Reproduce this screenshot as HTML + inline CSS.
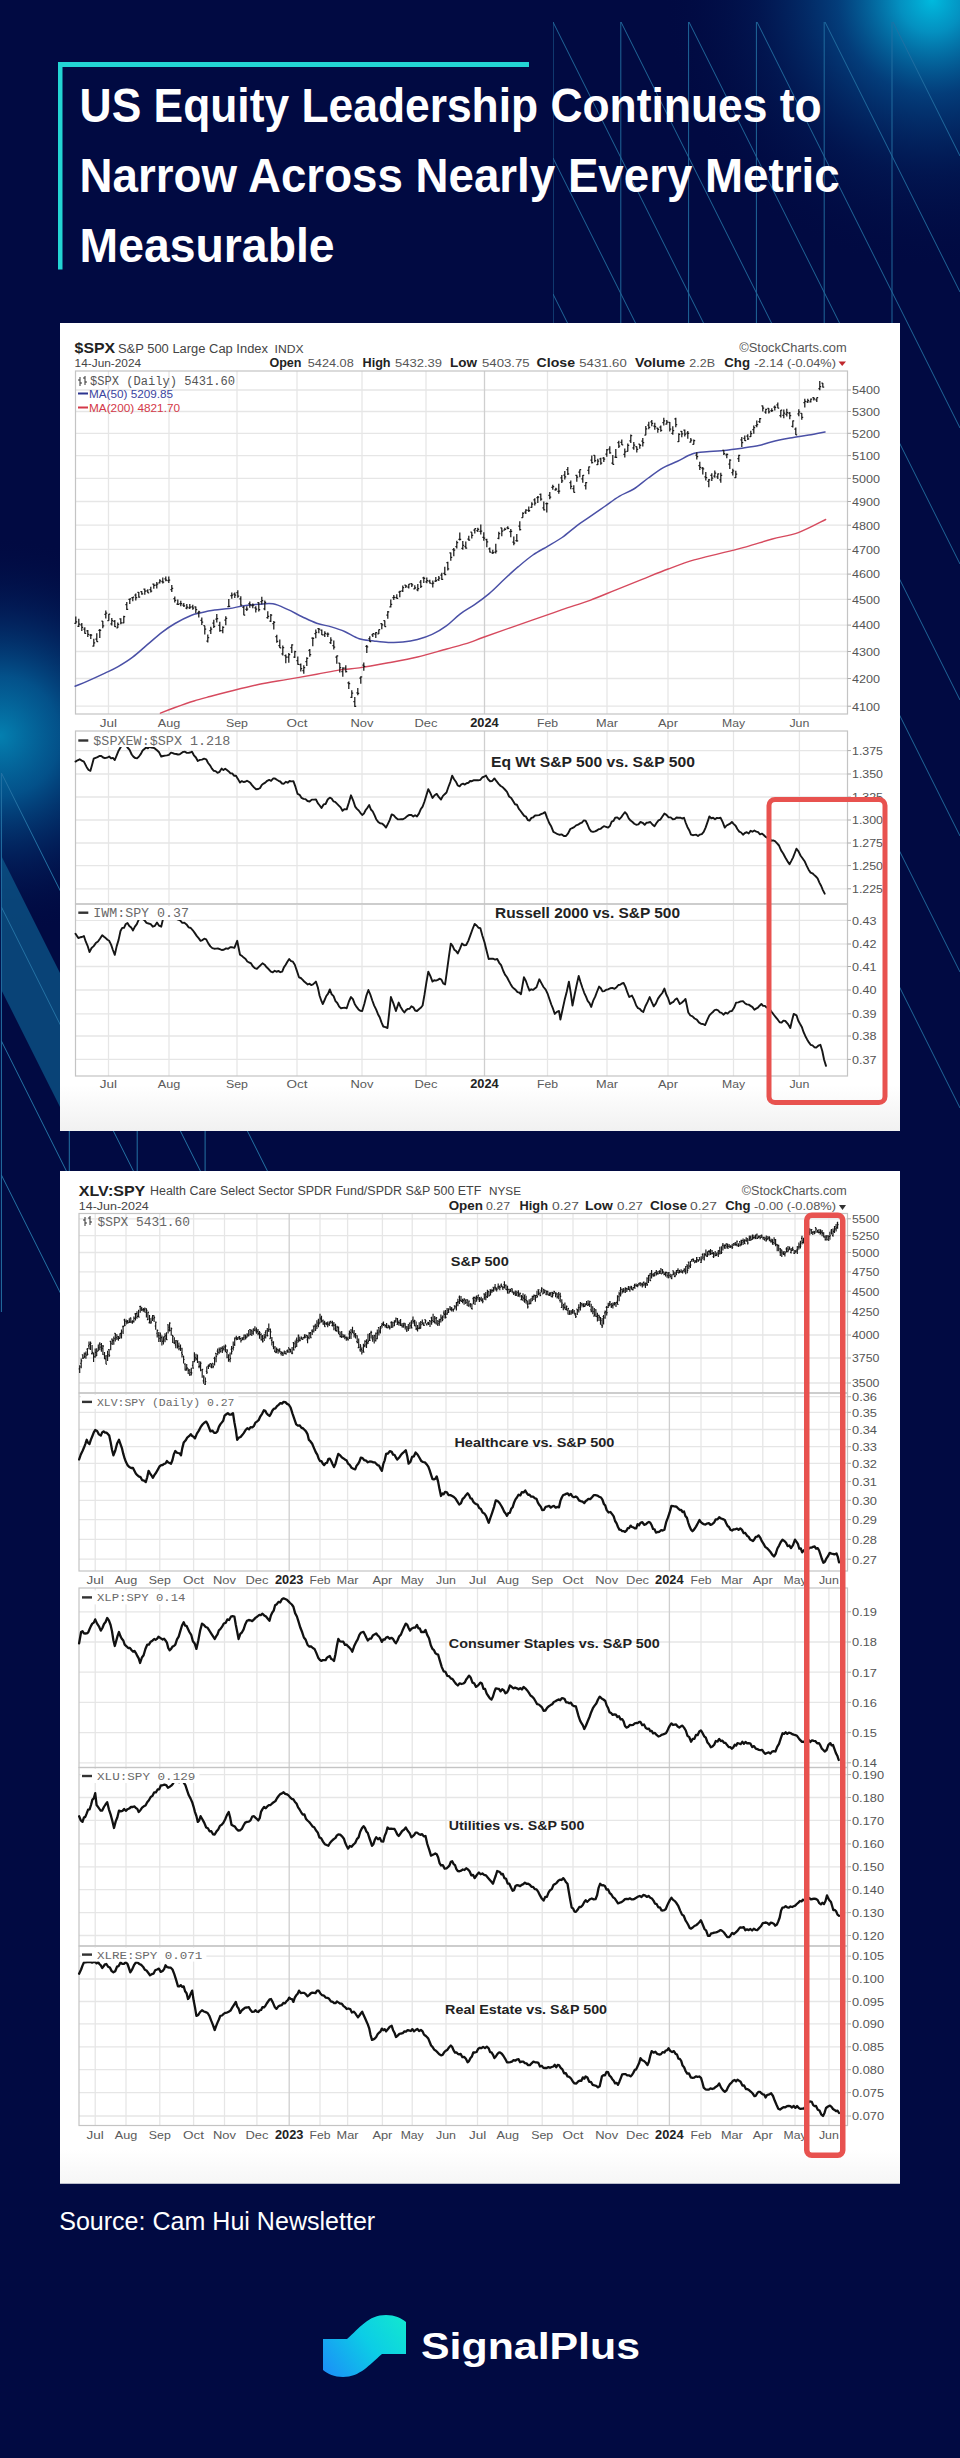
<!DOCTYPE html><html><head><meta charset="utf-8"><title>US Equity Leadership Continues to Narrow</title><style>
html,body{margin:0;padding:0;background:#010a42;}
body{width:960px;height:2458px;overflow:hidden;position:relative;font-family:"Liberation Sans",sans-serif;}
svg{position:absolute;left:0;top:0;display:block;}
</style></head><body>
<svg width="960" height="2458" viewBox="0 0 960 2458">
<defs>
<radialGradient id="glowTR" cx="932" cy="0" r="270" gradientUnits="userSpaceOnUse"><stop offset="0" stop-color="#00bade" stop-opacity="1"/><stop offset="0.12" stop-color="#049ccb" stop-opacity="0.92"/><stop offset="0.35" stop-color="#055c9c" stop-opacity="0.62"/><stop offset="0.65" stop-color="#032f6e" stop-opacity="0.3"/><stop offset="1" stop-color="#010a42" stop-opacity="0"/></radialGradient>
<radialGradient id="glowL" cx="0" cy="736" r="200" gradientUnits="userSpaceOnUse"><stop offset="0" stop-color="#0480b0" stop-opacity="1"/><stop offset="0.3" stop-color="#04659e" stop-opacity="0.78"/><stop offset="0.65" stop-color="#033472" stop-opacity="0.38"/><stop offset="1" stop-color="#010a42" stop-opacity="0"/></radialGradient>
<linearGradient id="logoG" x1="323" y1="2377" x2="406" y2="2316" gradientUnits="userSpaceOnUse"><stop offset="0" stop-color="#1c8cf8"/><stop offset="0.55" stop-color="#0ccde6"/><stop offset="1" stop-color="#12e8cf"/></linearGradient>
<linearGradient id="boxfade" x1="0" y1="0" x2="0" y2="1"><stop offset="0" stop-color="#ffffff"/><stop offset="1" stop-color="#f1f1f1"/></linearGradient>
<linearGradient id="boxfade2" x1="0" y1="0" x2="0" y2="1"><stop offset="0" stop-color="#ffffff"/><stop offset="1" stop-color="#f6f6f6"/></linearGradient>
<clipPath id="clipTR"><rect x="553" y="22" width="407" height="1105"/></clipPath>
<clipPath id="clipL"><rect x="0" y="773" width="273" height="539"/></clipPath>
</defs>
<rect x="0" y="0" width="960" height="2458" fill="#010a42"/>
<rect x="560" y="0" width="400" height="360" fill="url(#glowTR)"/>
<rect x="0" y="500" width="240" height="500" fill="url(#glowL)"/>
<g clip-path="url(#clipTR)" stroke="#2472a4" stroke-width="1" fill="none" opacity="0.9"><line x1="553.0" y1="22" x2="553.0" y2="1200"/><line x1="620.8" y1="22" x2="620.8" y2="1200"/><line x1="688.6" y1="22" x2="688.6" y2="1200"/><line x1="756.4" y1="22" x2="756.4" y2="1200"/><line x1="824.2" y1="22" x2="824.2" y2="1200"/><line x1="892.0" y1="22" x2="892.0" y2="1200"/><line x1="553" y1="-1066" x2="960" y2="-252"/><line x1="553" y1="-930" x2="960" y2="-116"/><line x1="553" y1="-794" x2="960" y2="20"/><line x1="553" y1="-658" x2="960" y2="156"/><line x1="553" y1="-522" x2="960" y2="292"/><line x1="553" y1="-386" x2="960" y2="428"/><line x1="553" y1="-250" x2="960" y2="564"/><line x1="553" y1="-114" x2="960" y2="700"/><line x1="553" y1="22" x2="960" y2="836"/><line x1="553" y1="158" x2="960" y2="972"/><line x1="553" y1="294" x2="960" y2="1108"/></g>
<polygon points="1.4,856 70,993 70,1127 1.4,990" fill="#0d5a8c" opacity="0.72"/>
<g clip-path="url(#clipL)" stroke="#2472a4" stroke-width="1" fill="none"><line x1="1.4" y1="773" x2="1.4" y2="1312"/><line x1="69.3" y1="773" x2="69.3" y2="1312"/><line x1="137.2" y1="773" x2="137.2" y2="1312"/><line x1="205.1" y1="773" x2="205.1" y2="1312"/><line x1="1.4" y1="237" x2="273" y2="780.2"/><line x1="1.4" y1="371" x2="273" y2="914.2"/><line x1="1.4" y1="505" x2="273" y2="1048.2"/><line x1="1.4" y1="639" x2="273" y2="1182.2"/><line x1="1.4" y1="773" x2="273" y2="1316.2"/><line x1="1.4" y1="907" x2="273" y2="1450.2"/><line x1="1.4" y1="1041" x2="273" y2="1584.2"/><line x1="1.4" y1="1175" x2="273" y2="1718.2"/></g>
<rect x="58" y="62" width="471" height="5" fill="#23d5d4"/>
<rect x="58" y="62" width="4.5" height="207.5" fill="#23d5d4"/>
<text x="79.6" y="121.8" font-family='"Liberation Sans", sans-serif' font-size="48.5" font-weight="bold" fill="#ffffff" textLength="742.0" lengthAdjust="spacingAndGlyphs">US Equity Leadership Continues to</text>
<text x="79.6" y="191.8" font-family='"Liberation Sans", sans-serif' font-size="48.5" font-weight="bold" fill="#ffffff" textLength="760.0" lengthAdjust="spacingAndGlyphs">Narrow Across Nearly Every Metric</text>
<text x="79.6" y="261.8" font-family='"Liberation Sans", sans-serif' font-size="48.5" font-weight="bold" fill="#ffffff" textLength="255.0" lengthAdjust="spacingAndGlyphs">Measurable</text>
<rect x="60" y="323" width="840" height="808" fill="#ffffff"/>
<rect x="60" y="1085" width="840" height="46" fill="url(#boxfade)"/>
<text x="74.6" y="353.0" font-family='"Liberation Sans", sans-serif' font-size="15.5" font-weight="bold" fill="#222" textLength="40.5" lengthAdjust="spacingAndGlyphs">$SPX</text>
<text x="118.0" y="352.5" font-family='"Liberation Sans", sans-serif' font-size="12" fill="#444" textLength="150.0" lengthAdjust="spacingAndGlyphs">S&amp;P 500 Large Cap Index</text>
<text x="274.6" y="352.5" font-family='"Liberation Sans", sans-serif' font-size="10.5" fill="#444" textLength="29.0" lengthAdjust="spacingAndGlyphs">INDX</text>
<text x="74.6" y="367.2" font-family='"Liberation Sans", sans-serif' font-size="11.5" fill="#444" textLength="66.5" lengthAdjust="spacingAndGlyphs">14-Jun-2024</text>
<text x="739.3" y="351.7" font-family='"Liberation Sans", sans-serif' font-size="12" fill="#555" textLength="107.4" lengthAdjust="spacingAndGlyphs">©StockCharts.com</text>
<text x="269.4" y="367.2" font-family='"Liberation Sans", sans-serif' font-size="12" font-weight="bold" fill="#222" textLength="32.1" lengthAdjust="spacingAndGlyphs">Open</text><text x="307.8" y="367.2" font-family='"Liberation Sans", sans-serif' font-size="11.5" fill="#555" textLength="45.9" lengthAdjust="spacingAndGlyphs">5424.08</text><text x="362.5" y="367.2" font-family='"Liberation Sans", sans-serif' font-size="12" font-weight="bold" fill="#222" textLength="28.1" lengthAdjust="spacingAndGlyphs">High</text><text x="395.0" y="367.2" font-family='"Liberation Sans", sans-serif' font-size="11.5" fill="#555" textLength="47.0" lengthAdjust="spacingAndGlyphs">5432.39</text><text x="450.0" y="367.2" font-family='"Liberation Sans", sans-serif' font-size="12" font-weight="bold" fill="#222" textLength="27.0" lengthAdjust="spacingAndGlyphs">Low</text><text x="482.0" y="367.2" font-family='"Liberation Sans", sans-serif' font-size="11.5" fill="#555" textLength="47.7" lengthAdjust="spacingAndGlyphs">5403.75</text><text x="536.6" y="367.2" font-family='"Liberation Sans", sans-serif' font-size="12" font-weight="bold" fill="#222" textLength="38.4" lengthAdjust="spacingAndGlyphs">Close</text><text x="579.3" y="367.2" font-family='"Liberation Sans", sans-serif' font-size="11.5" fill="#555" textLength="47.4" lengthAdjust="spacingAndGlyphs">5431.60</text><text x="635.0" y="367.2" font-family='"Liberation Sans", sans-serif' font-size="12" font-weight="bold" fill="#222" textLength="50.0" lengthAdjust="spacingAndGlyphs">Volume</text><text x="689.3" y="367.2" font-family='"Liberation Sans", sans-serif' font-size="11.5" fill="#555" textLength="25.7" lengthAdjust="spacingAndGlyphs">2.2B</text><text x="724.3" y="367.2" font-family='"Liberation Sans", sans-serif' font-size="12" font-weight="bold" fill="#222" textLength="25.7" lengthAdjust="spacingAndGlyphs">Chg</text><text x="754.3" y="367.2" font-family='"Liberation Sans", sans-serif' font-size="11.5" fill="#555" textLength="81.7" lengthAdjust="spacingAndGlyphs">-2.14 (-0.04%)</text>
<polygon points="838.5,361.5 846,361.5 842.2,366" fill="#c0282d"/>
<line x1="75.5" y1="390.0" x2="847.5" y2="390.0" stroke="#e6e6e6" stroke-width="1.3"/><line x1="75.5" y1="411.5" x2="847.5" y2="411.5" stroke="#e6e6e6" stroke-width="1.3"/><line x1="75.5" y1="433.3" x2="847.5" y2="433.3" stroke="#e6e6e6" stroke-width="1.3"/><line x1="75.5" y1="455.6" x2="847.5" y2="455.6" stroke="#e6e6e6" stroke-width="1.3"/><line x1="75.5" y1="478.4" x2="847.5" y2="478.4" stroke="#e6e6e6" stroke-width="1.3"/><line x1="75.5" y1="501.5" x2="847.5" y2="501.5" stroke="#e6e6e6" stroke-width="1.3"/><line x1="75.5" y1="525.2" x2="847.5" y2="525.2" stroke="#e6e6e6" stroke-width="1.3"/><line x1="75.5" y1="549.4" x2="847.5" y2="549.4" stroke="#e6e6e6" stroke-width="1.3"/><line x1="75.5" y1="574.1" x2="847.5" y2="574.1" stroke="#e6e6e6" stroke-width="1.3"/><line x1="75.5" y1="599.3" x2="847.5" y2="599.3" stroke="#e6e6e6" stroke-width="1.3"/><line x1="75.5" y1="625.1" x2="847.5" y2="625.1" stroke="#e6e6e6" stroke-width="1.3"/><line x1="75.5" y1="651.5" x2="847.5" y2="651.5" stroke="#e6e6e6" stroke-width="1.3"/><line x1="75.5" y1="678.5" x2="847.5" y2="678.5" stroke="#e6e6e6" stroke-width="1.3"/><line x1="75.5" y1="706.2" x2="847.5" y2="706.2" stroke="#e6e6e6" stroke-width="1.3"/>
<line x1="108.5" y1="371" x2="108.5" y2="714" stroke="#e6e6e6" stroke-width="1.3"/><line x1="169.0" y1="371" x2="169.0" y2="714" stroke="#e6e6e6" stroke-width="1.3"/><line x1="237.0" y1="371" x2="237.0" y2="714" stroke="#e6e6e6" stroke-width="1.3"/><line x1="297.0" y1="371" x2="297.0" y2="714" stroke="#e6e6e6" stroke-width="1.3"/><line x1="362.0" y1="371" x2="362.0" y2="714" stroke="#e6e6e6" stroke-width="1.3"/><line x1="426.0" y1="371" x2="426.0" y2="714" stroke="#e6e6e6" stroke-width="1.3"/><line x1="484.5" y1="371" x2="484.5" y2="714" stroke="#cfcfcf" stroke-width="1.3"/><line x1="547.5" y1="371" x2="547.5" y2="714" stroke="#e6e6e6" stroke-width="1.3"/><line x1="607.0" y1="371" x2="607.0" y2="714" stroke="#e6e6e6" stroke-width="1.3"/><line x1="668.0" y1="371" x2="668.0" y2="714" stroke="#e6e6e6" stroke-width="1.3"/><line x1="733.5" y1="371" x2="733.5" y2="714" stroke="#e6e6e6" stroke-width="1.3"/><line x1="799.4" y1="371" x2="799.4" y2="714" stroke="#e6e6e6" stroke-width="1.3"/>
<rect x="75.5" y="371" width="772.0" height="343" fill="none" stroke="#c4c4c4" stroke-width="1.2"/>
<line x1="847.5" y1="390.0" x2="851" y2="390.0" stroke="#aaa" stroke-width="1"/><text x="852.0" y="394.3" font-family='"Liberation Sans", sans-serif' font-size="11.5" fill="#555555" textLength="28.0" lengthAdjust="spacingAndGlyphs">5400</text><line x1="847.5" y1="411.5" x2="851" y2="411.5" stroke="#aaa" stroke-width="1"/><text x="852.0" y="415.8" font-family='"Liberation Sans", sans-serif' font-size="11.5" fill="#555555" textLength="28.0" lengthAdjust="spacingAndGlyphs">5300</text><line x1="847.5" y1="433.3" x2="851" y2="433.3" stroke="#aaa" stroke-width="1"/><text x="852.0" y="437.6" font-family='"Liberation Sans", sans-serif' font-size="11.5" fill="#555555" textLength="28.0" lengthAdjust="spacingAndGlyphs">5200</text><line x1="847.5" y1="455.6" x2="851" y2="455.6" stroke="#aaa" stroke-width="1"/><text x="852.0" y="459.9" font-family='"Liberation Sans", sans-serif' font-size="11.5" fill="#555555" textLength="28.0" lengthAdjust="spacingAndGlyphs">5100</text><line x1="847.5" y1="478.4" x2="851" y2="478.4" stroke="#aaa" stroke-width="1"/><text x="852.0" y="482.7" font-family='"Liberation Sans", sans-serif' font-size="11.5" fill="#555555" textLength="28.0" lengthAdjust="spacingAndGlyphs">5000</text><line x1="847.5" y1="501.5" x2="851" y2="501.5" stroke="#aaa" stroke-width="1"/><text x="852.0" y="505.8" font-family='"Liberation Sans", sans-serif' font-size="11.5" fill="#555555" textLength="28.0" lengthAdjust="spacingAndGlyphs">4900</text><line x1="847.5" y1="525.2" x2="851" y2="525.2" stroke="#aaa" stroke-width="1"/><text x="852.0" y="529.5" font-family='"Liberation Sans", sans-serif' font-size="11.5" fill="#555555" textLength="28.0" lengthAdjust="spacingAndGlyphs">4800</text><line x1="847.5" y1="549.4" x2="851" y2="549.4" stroke="#aaa" stroke-width="1"/><text x="852.0" y="553.7" font-family='"Liberation Sans", sans-serif' font-size="11.5" fill="#555555" textLength="28.0" lengthAdjust="spacingAndGlyphs">4700</text><line x1="847.5" y1="574.1" x2="851" y2="574.1" stroke="#aaa" stroke-width="1"/><text x="852.0" y="578.4" font-family='"Liberation Sans", sans-serif' font-size="11.5" fill="#555555" textLength="28.0" lengthAdjust="spacingAndGlyphs">4600</text><line x1="847.5" y1="599.3" x2="851" y2="599.3" stroke="#aaa" stroke-width="1"/><text x="852.0" y="603.6" font-family='"Liberation Sans", sans-serif' font-size="11.5" fill="#555555" textLength="28.0" lengthAdjust="spacingAndGlyphs">4500</text><line x1="847.5" y1="625.1" x2="851" y2="625.1" stroke="#aaa" stroke-width="1"/><text x="852.0" y="629.4" font-family='"Liberation Sans", sans-serif' font-size="11.5" fill="#555555" textLength="28.0" lengthAdjust="spacingAndGlyphs">4400</text><line x1="847.5" y1="651.5" x2="851" y2="651.5" stroke="#aaa" stroke-width="1"/><text x="852.0" y="655.8" font-family='"Liberation Sans", sans-serif' font-size="11.5" fill="#555555" textLength="28.0" lengthAdjust="spacingAndGlyphs">4300</text><line x1="847.5" y1="678.5" x2="851" y2="678.5" stroke="#aaa" stroke-width="1"/><text x="852.0" y="682.8" font-family='"Liberation Sans", sans-serif' font-size="11.5" fill="#555555" textLength="28.0" lengthAdjust="spacingAndGlyphs">4200</text><line x1="847.5" y1="706.2" x2="851" y2="706.2" stroke="#aaa" stroke-width="1"/><text x="852.0" y="710.5" font-family='"Liberation Sans", sans-serif' font-size="11.5" fill="#555555" textLength="28.0" lengthAdjust="spacingAndGlyphs">4100</text>
<g stroke="#333" stroke-width="1"><line x1="80" y1="377" x2="80" y2="386"/><line x1="78" y1="380" x2="80" y2="380"/><line x1="80" y1="383" x2="82" y2="383"/><line x1="85" y1="376" x2="85" y2="385"/><line x1="83" y1="378" x2="85" y2="378"/><line x1="85" y1="382" x2="87" y2="382"/></g>
<text x="90.0" y="384.5" font-family='"Liberation Mono", monospace' font-size="12" fill="#555" textLength="145.0" lengthAdjust="spacingAndGlyphs">$SPX (Daily) 5431.60</text>
<rect x="78" y="392.5" width="10" height="2" fill="#2c3590"/><text x="89.0" y="397.5" font-family='"Liberation Sans", sans-serif' font-size="11" fill="#3b44a0" textLength="84.0" lengthAdjust="spacingAndGlyphs">MA(50) 5209.85</text>
<rect x="78" y="406.5" width="10" height="2" fill="#d43848"/><text x="89.0" y="411.5" font-family='"Liberation Sans", sans-serif' font-size="11" fill="#d43848" textLength="91.0" lengthAdjust="spacingAndGlyphs">MA(200) 4821.70</text>
<path d="M75.1,686.3 C77.2,685.4 82.5,683.3 87.5,681.1 C92.5,678.9 99.9,675.5 105.0,673.1 C110.1,670.7 113.5,669.3 118.1,666.6 C122.7,663.9 127.8,660.8 132.7,657.1 C137.6,653.5 142.4,648.8 147.3,644.7 C152.2,640.6 157.3,635.8 161.9,632.3 C166.5,628.8 170.2,626.3 175.0,623.5 C179.8,620.7 186.8,617.2 191.0,615.5 C195.2,613.8 196.1,613.9 200.0,613.0 C203.9,612.1 209.7,610.8 214.6,610.1 C219.5,609.4 224.3,609.3 229.2,608.6 C234.1,607.9 239.0,606.4 243.8,605.7 C248.7,605.0 253.5,604.6 258.3,604.3 C263.1,604.0 268.0,602.9 272.9,603.8 C277.8,604.6 282.6,607.2 287.5,609.4 C292.4,611.5 297.2,614.4 302.1,616.7 C307.0,619.0 311.8,621.5 316.7,623.2 C321.6,624.9 326.6,625.5 331.3,626.9 C336.0,628.3 340.0,629.5 344.6,631.5 C349.2,633.5 354.4,637.2 359.2,638.8 C364.0,640.4 368.8,640.3 373.7,640.9 C378.6,641.5 383.4,642.2 388.3,642.4 C393.2,642.6 398.0,642.6 402.9,642.1 C407.8,641.6 412.6,640.8 417.5,639.5 C422.4,638.2 427.2,636.7 432.1,634.4 C437.0,632.1 442.1,629.0 446.7,625.6 C451.3,622.2 455.4,617.6 460.0,614.1 C464.6,610.6 469.7,608.0 474.6,604.6 C479.5,601.2 484.3,597.7 489.2,593.6 C494.1,589.5 499.0,584.3 503.8,579.8 C508.6,575.3 513.4,570.8 518.3,566.7 C523.1,562.6 528.0,558.4 532.9,555.0 C537.8,551.6 542.6,549.2 547.5,546.3 C552.4,543.4 557.2,540.9 562.1,537.5 C567.0,534.1 572.1,529.3 576.7,525.8 C581.4,522.3 585.4,519.9 590.0,516.7 C594.6,513.5 599.7,509.9 604.6,506.5 C609.5,503.1 614.3,499.2 619.2,496.3 C624.1,493.4 628.9,492.1 633.8,489.0 C638.6,485.9 643.4,481.5 648.3,478.0 C653.1,474.5 658.0,470.6 662.9,467.8 C667.8,465.0 672.6,463.6 677.5,461.3 C682.4,459.0 687.2,455.6 692.1,454.0 C697.0,452.4 701.8,452.3 706.7,451.8 C711.6,451.3 715.8,451.4 721.3,450.8 C726.8,450.2 733.8,449.4 740.0,448.5 C746.2,447.6 753.5,446.7 758.8,445.6 C764.0,444.5 766.0,443.1 771.2,441.9 C776.5,440.6 783.8,439.2 790.0,438.1 C796.2,437.0 802.9,436.0 808.8,435.0 C814.6,434.0 822.3,432.4 825.0,431.9" fill="none" stroke="#4a50a6" stroke-width="1.5" stroke-linecap="round"/>
<path d="M160.4,713.2 C162.8,712.2 169.4,709.5 175.0,707.5 C180.6,705.5 188.2,702.8 194.0,701.0 C199.8,699.2 204.1,698.1 210.0,696.5 C215.9,694.9 221.1,693.5 229.2,691.5 C237.2,689.5 248.6,686.5 258.3,684.5 C268.0,682.5 277.8,681.1 287.5,679.4 C297.2,677.7 307.9,675.9 316.7,674.3 C325.4,672.7 332.9,671.0 340.0,669.9 C347.1,668.8 351.1,669.1 359.2,667.9 C367.2,666.7 378.6,664.6 388.3,662.8 C398.0,661.0 407.8,659.3 417.5,657.0 C427.2,654.7 437.9,651.4 446.7,649.0 C455.4,646.6 463.8,644.4 470.0,642.4 C476.2,640.4 473.7,640.8 484.2,637.0 C494.7,633.2 519.9,624.4 532.9,619.9 C545.9,615.4 552.6,613.0 562.1,609.7 C571.6,606.4 581.0,603.6 590.0,600.3 C599.0,597.0 607.3,593.3 616.0,589.8 C624.7,586.3 633.4,582.9 642.1,579.4 C650.8,575.9 659.4,572.2 668.1,569.0 C676.8,565.8 685.5,562.5 694.2,559.9 C702.9,557.3 711.5,555.6 720.2,553.4 C728.9,551.2 737.6,549.3 746.2,546.9 C754.9,544.5 763.6,541.4 772.3,539.0 C781.0,536.6 789.4,535.9 798.3,532.6 C807.2,529.4 821.1,521.7 825.7,519.5" fill="none" stroke="#d64a5e" stroke-width="1.4" stroke-linecap="round"/>
<g stroke="#1a1a1a" stroke-width="1.25" fill="none"><path d="M75.8,616.6V623.7M74.4,623.3H75.8M75.8,621.9H77.2"/><path d="M78.8,618.8V626.9M77.4,626.4H78.8M78.8,624.0H80.2"/><path d="M81.8,623.0V630.9M80.4,624.9H81.8M81.8,627.3H83.2"/><path d="M84.8,627.3V633.8M83.4,629.2H84.8M84.8,633.3H86.2"/><path d="M87.8,630.0V637.0M86.4,630.9H87.8M87.8,634.3H89.2"/><path d="M90.8,633.9V639.1M89.4,635.0H90.8M90.8,635.0H92.2"/><path d="M93.8,638.7V646.5M92.4,646.2H93.8M93.8,642.9H95.2"/><path d="M96.8,633.3V641.7M95.4,639.1H96.8M96.8,641.5H98.2"/><path d="M99.8,628.9V638.0M98.4,630.4H99.8M99.8,630.3H101.2"/><path d="M102.8,621.0V628.2M101.4,621.0H102.8M102.8,625.9H104.2"/><path d="M105.8,610.6V618.6M104.4,614.4H105.8M105.8,613.1H107.2"/><path d="M108.8,614.0V620.7M107.4,620.5H108.8M108.8,614.2H110.2"/><path d="M111.8,618.0V625.5M110.4,623.9H111.8M111.8,620.7H113.2"/><path d="M114.8,620.0V627.0M113.4,621.3H114.8M114.8,626.7H116.2"/><path d="M117.8,622.5V628.1M116.4,627.8H117.8M117.8,624.4H119.2"/><path d="M120.8,618.2V624.3M119.4,618.9H120.8M120.8,622.8H122.2"/><path d="M123.8,615.8V623.2M122.4,622.8H123.8M123.8,616.5H125.2"/><path d="M126.8,601.9V610.0M125.4,604.7H126.8M126.8,609.3H128.2"/><path d="M129.8,598.4V603.9M128.4,599.3H129.8M129.8,598.8H131.2"/><path d="M132.8,596.9V601.3M131.4,597.6H132.8M132.8,597.1H134.2"/><path d="M135.8,593.5V600.4M134.4,595.1H135.8M135.8,597.6H137.2"/><path d="M138.8,591.9V597.7M137.4,592.3H138.8M138.8,597.2H140.2"/><path d="M141.8,591.3V594.7M140.4,591.7H141.8M141.8,593.8H143.2"/><path d="M144.8,588.5V594.7M143.4,589.2H144.8M144.8,591.2H146.2"/><path d="M147.8,589.2V592.9M146.4,590.9H147.8M147.8,592.9H149.2"/><path d="M150.8,586.7V592.6M149.4,589.6H150.8M150.8,591.0H152.2"/><path d="M153.8,583.5V588.7M152.4,584.2H153.8M153.8,585.4H155.2"/><path d="M156.8,581.9V588.6M155.4,585.2H156.8M156.8,584.2H158.2"/><path d="M159.8,579.3V583.4M158.4,582.9H159.8M159.8,580.8H161.2"/><path d="M162.8,577.5V583.6M161.4,581.5H162.8M162.8,582.1H164.2"/><path d="M165.8,576.5V581.2M164.4,578.8H165.8M165.8,580.1H167.2"/><path d="M168.8,576.4V583.0M167.4,580.7H168.8M168.8,580.2H170.2"/><path d="M171.8,585.0V592.0M170.4,589.7H171.8M171.8,588.3H173.2"/><path d="M174.8,596.6V602.5M173.4,598.6H174.8M174.8,600.4H176.2"/><path d="M177.8,599.4V605.0M176.4,604.1H177.8M177.8,604.3H179.2"/><path d="M180.8,600.8V606.3M179.4,603.7H180.8M180.8,603.7H182.2"/><path d="M183.8,603.1V607.0M182.4,605.0H183.8M183.8,605.8H185.2"/><path d="M186.8,604.1V609.2M185.4,608.1H186.8M186.8,607.0H188.2"/><path d="M189.8,604.1V609.0M188.4,607.9H189.8M189.8,607.2H191.2"/><path d="M192.8,604.7V609.8M191.4,606.9H192.8M192.8,608.0H194.2"/><path d="M195.8,606.5V613.3M194.4,606.8H195.8M195.8,609.7H197.2"/><path d="M198.8,610.7V617.5M197.4,612.8H198.8M198.8,611.9H200.2"/><path d="M201.8,617.5V625.1M200.4,620.4H201.8M201.8,622.1H203.2"/><path d="M204.8,625.7V634.4M203.4,625.7H204.8M204.8,629.2H206.2"/><path d="M207.8,634.5V642.4M206.4,641.0H207.8M207.8,637.5H209.2"/><path d="M210.8,626.8V633.9M209.4,630.6H210.8M210.8,629.2H212.2"/><path d="M213.8,619.7V627.9M212.4,623.1H213.8M213.8,626.3H215.2"/><path d="M216.8,614.1V622.4M215.4,619.0H216.8M216.8,618.7H218.2"/><path d="M219.8,621.8V631.7M218.4,625.3H219.8M219.8,630.6H221.2"/><path d="M222.8,626.3V633.3M221.4,630.6H222.8M222.8,627.3H224.2"/><path d="M225.8,616.3V625.2M224.4,620.2H225.8M225.8,618.3H227.2"/><path d="M228.8,599.1V607.0M227.4,606.7H228.8M228.8,606.3H230.2"/><path d="M231.8,592.6V598.7M230.4,595.6H231.8M231.8,595.2H233.2"/><path d="M234.8,592.6V597.9M233.4,594.1H234.8M234.8,595.1H236.2"/><path d="M237.8,590.3V597.7M236.4,592.5H237.8M237.8,596.1H239.2"/><path d="M240.8,596.2V605.7M239.4,598.8H240.8M240.8,605.1H242.2"/><path d="M243.8,606.0V615.3M242.4,607.4H243.8M243.8,615.2H245.2"/><path d="M246.8,606.2V611.1M245.4,609.4H246.8M246.8,609.2H248.2"/><path d="M249.8,601.6V607.8M248.4,603.5H249.8M249.8,604.9H251.2"/><path d="M252.8,603.4V608.3M251.4,605.7H252.8M252.8,605.1H254.2"/><path d="M255.8,606.3V612.4M254.4,607.9H255.8M255.8,609.1H257.2"/><path d="M258.8,602.3V611.5M257.4,602.5H258.8M258.8,609.5H260.2"/><path d="M261.8,596.8V604.5M260.4,601.7H261.8M261.8,600.5H263.2"/><path d="M264.8,600.5V610.3M263.4,608.8H264.8M264.8,602.4H266.2"/><path d="M267.8,611.3V618.7M266.4,617.5H267.8M267.8,616.4H269.2"/><path d="M270.8,614.1V621.9M269.4,621.2H270.8M270.8,615.2H272.2"/><path d="M273.8,621.0V629.4M272.4,623.7H273.8M273.8,622.3H275.2"/><path d="M276.8,634.7V642.8M275.4,636.6H276.8M276.8,641.4H278.2"/><path d="M279.8,639.4V648.1M278.4,645.7H279.8M279.8,647.9H281.2"/><path d="M282.8,645.5V655.5M281.4,653.9H282.8M282.8,647.7H284.2"/><path d="M285.8,654.4V663.3M284.4,655.6H285.8M285.8,657.0H287.2"/><path d="M288.8,653.1V662.8M287.4,657.1H288.8M288.8,654.6H290.2"/><path d="M291.8,644.2V653.1M290.4,647.6H291.8M291.8,644.8H293.2"/><path d="M294.8,650.7V657.9M293.4,657.0H294.8M294.8,651.7H296.2"/><path d="M297.8,656.5V664.8M296.4,660.6H297.8M297.8,664.3H299.2"/><path d="M300.8,663.4V671.5M299.4,664.6H300.8M300.8,668.5H302.2"/><path d="M303.8,665.3V673.8M302.4,670.6H303.8M303.8,667.5H305.2"/><path d="M306.8,657.3V665.9M305.4,661.7H306.8M306.8,658.4H308.2"/><path d="M309.8,649.0V656.7M308.4,650.3H309.8M309.8,654.5H311.2"/><path d="M312.8,637.3V646.3M311.4,638.1H312.8M312.8,638.4H314.2"/><path d="M315.8,629.4V638.2M314.4,633.6H315.8M315.8,632.3H317.2"/><path d="M318.8,628.3V633.3M317.4,628.6H318.8M318.8,629.1H320.2"/><path d="M321.8,629.5V634.9M320.4,630.1H321.8M321.8,634.8H323.2"/><path d="M324.8,631.3V637.1M323.4,634.9H324.8M324.8,633.3H326.2"/><path d="M327.8,632.4V637.0M326.4,634.0H327.8M327.8,634.2H329.2"/><path d="M330.8,637.2V643.9M329.4,642.6H330.8M330.8,640.1H332.2"/><path d="M333.8,640.5V649.4M332.4,645.6H333.8M333.8,647.1H335.2"/><path d="M336.8,655.5V663.7M335.4,657.1H336.8M336.8,655.8H338.2"/><path d="M339.8,663.0V672.6M338.4,663.0H339.8M339.8,667.5H341.2"/><path d="M342.8,667.2V676.8M341.4,671.7H342.8M342.8,668.1H344.2"/><path d="M345.8,665.2V672.6M344.4,668.0H345.8M345.8,671.7H347.2"/><path d="M348.8,681.6V689.1M347.4,682.8H348.8M348.8,683.7H350.2"/><path d="M351.8,690.3V698.0M350.4,697.4H351.8M351.8,693.2H353.2"/><path d="M354.8,697.1V706.9M353.4,701.7H354.8M354.8,706.3H356.2"/><path d="M357.8,688.0V695.3M356.4,692.9H357.8M357.8,693.3H359.2"/><path d="M360.8,676.3V683.8M359.4,678.0H360.8M360.8,676.9H362.2"/><path d="M363.8,662.5V670.7M362.4,665.1H363.8M363.8,666.4H365.2"/><path d="M366.8,645.0V652.9M365.4,646.3H366.8M366.8,646.9H368.2"/><path d="M369.8,636.3V641.7M368.4,638.6H369.8M369.8,641.6H371.2"/><path d="M372.8,633.4V636.9M371.4,634.8H372.8M372.8,633.6H374.2"/><path d="M375.8,631.9V638.0M374.4,634.0H375.8M375.8,632.5H377.2"/><path d="M378.8,629.4V634.1M377.4,633.8H378.8M378.8,629.7H380.2"/><path d="M381.8,623.3V629.2M380.4,623.7H381.8M381.8,624.8H383.2"/><path d="M384.8,620.4V626.7M383.4,620.6H384.8M384.8,626.6H386.2"/><path d="M387.8,611.1V618.7M386.4,615.1H387.8M387.8,611.8H389.2"/><path d="M390.8,599.6V607.5M389.4,606.9H390.8M390.8,604.4H392.2"/><path d="M393.8,594.9V600.0M392.4,597.7H393.8M393.8,597.4H395.2"/><path d="M396.8,594.3V598.7M395.4,597.5H396.8M396.8,598.3H398.2"/><path d="M399.8,590.7V597.3M398.4,592.2H399.8M399.8,591.4H401.2"/><path d="M402.8,585.4V592.1M401.4,590.9H402.8M402.8,587.5H404.2"/><path d="M405.8,584.9V588.0M404.4,585.1H405.8M405.8,586.2H407.2"/><path d="M408.8,583.9V588.4M407.4,587.1H408.8M408.8,584.1H410.2"/><path d="M411.8,583.3V586.9M410.4,583.7H411.8M411.8,584.8H413.2"/><path d="M414.8,585.3V589.2M413.4,588.8H414.8M414.8,587.8H416.2"/><path d="M417.8,584.0V591.2M416.4,589.9H417.8M417.8,588.7H419.2"/><path d="M420.8,580.1V587.9M419.4,582.2H420.8M420.8,586.4H422.2"/><path d="M423.8,576.8V582.9M422.4,577.8H423.8M423.8,578.4H425.2"/><path d="M426.8,577.5V583.2M425.4,581.9H426.8M426.8,580.7H428.2"/><path d="M429.8,579.7V583.5M428.4,581.1H429.8M429.8,583.0H431.2"/><path d="M432.8,580.5V587.5M431.4,583.5H432.8M432.8,583.1H434.2"/><path d="M435.8,577.0V582.1M434.4,581.2H435.8M435.8,580.7H437.2"/><path d="M438.8,576.1V580.9M437.4,579.5H438.8M438.8,578.2H440.2"/><path d="M441.8,572.7V580.0M440.4,575.0H441.8M441.8,579.4H443.2"/><path d="M444.8,566.8V575.2M443.4,573.3H444.8M444.8,574.7H446.2"/><path d="M447.8,561.8V570.4M446.4,562.7H447.8M447.8,568.8H449.2"/><path d="M450.8,552.5V560.8M449.4,552.8H450.8M450.8,557.3H452.2"/><path d="M453.8,547.9V556.3M452.4,549.7H453.8M453.8,550.2H455.2"/><path d="M456.8,540.8V548.4M455.4,546.5H456.8M456.8,542.6H458.2"/><path d="M459.8,532.5V540.6M458.4,539.3H459.8M459.8,539.4H461.2"/><path d="M462.8,540.9V549.8M461.4,548.3H462.8M462.8,545.3H464.2"/><path d="M465.8,541.6V548.7M464.4,546.7H465.8M465.8,548.0H467.2"/><path d="M468.8,535.8V540.8M467.4,539.2H468.8M468.8,540.1H470.2"/><path d="M471.8,532.2V538.5M470.4,532.2H471.8M471.8,535.4H473.2"/><path d="M474.8,528.4V533.5M473.4,530.0H474.8M474.8,528.6H476.2"/><path d="M477.8,527.7V531.9M476.4,530.7H477.8M477.8,529.4H479.2"/><path d="M480.8,524.6V534.5M479.4,531.4H480.8M480.8,531.2H482.2"/><path d="M483.8,532.2V540.8M482.4,537.3H483.8M483.8,538.0H485.2"/><path d="M486.8,538.7V547.3M485.4,539.5H486.8M486.8,541.8H488.2"/><path d="M489.8,547.4V552.4M488.4,548.9H489.8M489.8,552.1H491.2"/><path d="M492.8,549.8V553.9M491.4,552.9H492.8M492.8,552.6H494.2"/><path d="M495.8,543.7V553.6M494.4,552.0H495.8M495.8,551.0H497.2"/><path d="M498.8,531.7V539.2M497.4,538.4H498.8M498.8,533.5H500.2"/><path d="M501.8,527.7V536.3M500.4,527.8H501.8M501.8,531.1H503.2"/><path d="M504.8,527.7V530.2M503.4,530.0H504.8M504.8,529.3H506.2"/><path d="M507.8,526.2V529.3M506.4,527.9H507.8M507.8,528.4H509.2"/><path d="M510.8,529.1V537.3M509.4,531.6H510.8M510.8,531.3H512.2"/><path d="M513.8,536.4V545.3M512.4,542.0H513.8M513.8,543.2H515.2"/><path d="M516.8,534.1V541.8M515.4,540.5H516.8M516.8,540.9H518.2"/><path d="M519.8,521.2V530.4M518.4,526.1H519.8M519.8,529.5H521.2"/><path d="M522.8,512.3V517.7M521.4,517.5H522.8M522.8,513.3H524.2"/><path d="M525.8,509.3V513.9M524.4,512.1H525.8M525.8,510.2H527.2"/><path d="M528.8,506.4V512.1M527.4,510.3H528.8M528.8,510.5H530.2"/><path d="M531.8,502.3V507.7M530.4,507.4H531.8M531.8,504.0H533.2"/><path d="M534.8,498.3V505.4M533.4,499.9H534.8M534.8,503.2H536.2"/><path d="M537.8,496.1V503.1M536.4,497.5H537.8M537.8,497.2H539.2"/><path d="M540.8,493.6V500.8M539.4,494.3H540.8M540.8,499.1H542.2"/><path d="M543.8,501.4V510.6M542.4,507.9H543.8M543.8,509.9H545.2"/><path d="M546.8,502.6V512.4M545.4,503.6H546.8M546.8,503.6H548.2"/><path d="M549.8,492.1V499.3M548.4,495.4H549.8M549.8,497.0H551.2"/><path d="M552.8,484.8V489.7M551.4,487.4H552.8M552.8,486.6H554.2"/><path d="M555.8,487.7V490.7M554.4,489.8H555.8M555.8,489.2H557.2"/><path d="M558.8,483.8V493.7M557.4,491.3H558.8M558.8,491.0H560.2"/><path d="M561.8,475.1V483.0M560.4,477.9H561.8M561.8,480.9H563.2"/><path d="M564.8,470.9V479.5M563.4,475.2H564.8M564.8,476.9H566.2"/><path d="M567.8,467.0V475.1M566.4,469.7H567.8M567.8,473.9H569.2"/><path d="M570.8,480.6V489.2M569.4,482.6H570.8M570.8,486.3H572.2"/><path d="M573.8,485.2V492.5M572.4,488.7H573.8M573.8,492.4H575.2"/><path d="M576.8,474.7V481.7M575.4,475.3H576.8M576.8,477.2H578.2"/><path d="M579.8,469.4V477.3M578.4,472.2H579.8M579.8,469.5H581.2"/><path d="M582.8,474.9V482.7M581.4,478.9H582.8M582.8,475.3H584.2"/><path d="M585.8,481.9V489.6M584.4,485.5H585.8M585.8,482.6H587.2"/><path d="M588.8,466.5V474.3M587.4,470.4H588.8M588.8,466.9H590.2"/><path d="M591.8,455.4V463.5M590.4,460.2H591.8M591.8,462.7H593.2"/><path d="M594.8,455.2V462.2M593.4,455.4H594.8M594.8,460.6H596.2"/><path d="M597.8,458.8V465.1M596.4,464.6H597.8M597.8,461.2H599.2"/><path d="M600.8,457.8V464.7M599.4,458.8H600.8M600.8,463.2H602.2"/><path d="M603.8,456.9V462.1M602.4,458.1H603.8M603.8,459.1H605.2"/><path d="M606.8,448.9V456.7M605.4,454.1H606.8M606.8,449.8H608.2"/><path d="M609.8,446.2V453.7M608.4,449.1H609.8M609.8,452.9H611.2"/><path d="M612.8,455.0V464.6M611.4,463.0H612.8M612.8,464.3H614.2"/><path d="M615.8,449.1V457.9M614.4,457.2H615.8M615.8,457.3H617.2"/><path d="M618.8,440.8V447.9M617.4,442.7H618.8M618.8,446.1H620.2"/><path d="M621.8,439.4V445.0M620.4,442.3H621.8M621.8,444.9H623.2"/><path d="M624.8,448.4V457.5M623.4,454.3H624.8M624.8,451.9H626.2"/><path d="M627.8,443.4V451.5M626.4,451.3H627.8M627.8,445.4H629.2"/><path d="M630.8,434.4V443.1M629.4,440.8H630.8M630.8,435.6H632.2"/><path d="M633.8,442.0V449.7M632.4,447.9H633.8M633.8,445.2H635.2"/><path d="M636.8,446.4V452.4M635.4,446.7H636.8M636.8,449.4H638.2"/><path d="M639.8,444.1V448.7M638.4,444.2H639.8M639.8,445.4H641.2"/><path d="M642.8,438.1V446.4M641.4,441.2H642.8M642.8,442.5H644.2"/><path d="M645.8,426.1V435.2M644.4,435.1H645.8M645.8,428.8H647.2"/><path d="M648.8,421.8V429.3M647.4,425.2H648.8M648.8,427.3H650.2"/><path d="M651.8,420.1V426.2M650.4,421.9H651.8M651.8,423.4H653.2"/><path d="M654.8,422.7V429.7M653.4,426.2H654.8M654.8,426.7H656.2"/><path d="M657.8,427.7V432.8M656.4,428.1H657.8M657.8,429.4H659.2"/><path d="M660.8,425.6V431.7M659.4,427.2H660.8M660.8,430.4H662.2"/><path d="M663.8,417.7V425.6M662.4,422.7H663.8M663.8,420.8H665.2"/><path d="M666.8,419.9V424.6M665.4,424.0H666.8M666.8,422.0H668.2"/><path d="M669.8,421.9V431.6M668.4,422.4H669.8M669.8,429.1H671.2"/><path d="M672.8,426.2V434.8M671.4,433.3H672.8M672.8,430.5H674.2"/><path d="M675.8,417.7V427.3M674.4,418.8H675.8M675.8,424.6H677.2"/><path d="M678.8,433.3V442.1M677.4,441.7H678.8M678.8,434.3H680.2"/><path d="M681.8,430.9V437.3M680.4,431.3H681.8M681.8,433.9H683.2"/><path d="M684.8,429.6V436.6M683.4,430.1H684.8M684.8,434.1H686.2"/><path d="M687.8,431.1V438.7M686.4,433.0H687.8M687.8,433.3H689.2"/><path d="M690.8,437.9V442.4M689.4,442.0H690.8M690.8,440.0H692.2"/><path d="M693.8,439.6V444.6M692.4,444.4H693.8M693.8,440.7H695.2"/><path d="M696.8,452.2V459.4M695.4,455.2H696.8M696.8,456.7H698.2"/><path d="M699.8,461.7V469.9M698.4,465.7H699.8M699.8,467.4H701.2"/><path d="M702.8,466.9V474.5M701.4,468.0H702.8M702.8,468.9H704.2"/><path d="M705.8,472.1V480.6M704.4,476.8H705.8M705.8,477.7H707.2"/><path d="M708.8,479.0V487.2M707.4,481.4H708.8M708.8,479.9H710.2"/><path d="M711.8,473.2V481.0M710.4,475.3H711.8M711.8,478.1H713.2"/><path d="M714.8,470.6V477.7M713.4,476.1H714.8M714.8,473.0H716.2"/><path d="M717.8,473.6V479.1M716.4,476.8H717.8M717.8,473.8H719.2"/><path d="M720.8,472.7V482.7M719.4,479.9H720.8M720.8,475.3H722.2"/><path d="M723.8,450.1V455.0M722.4,450.4H723.8M723.8,453.6H725.2"/><path d="M726.8,453.4V458.3M725.4,454.9H726.8M726.8,454.3H728.2"/><path d="M729.8,459.2V469.0M728.4,464.2H729.8M729.8,460.2H731.2"/><path d="M732.8,468.8V475.6M731.4,472.7H732.8M732.8,470.8H734.2"/><path d="M735.8,470.8V478.1M734.4,477.7H735.8M735.8,474.2H737.2"/><path d="M738.8,454.7V462.0M737.4,458.6H738.8M738.8,455.3H740.2"/><path d="M741.8,437.1V447.1M740.4,439.9H741.8M741.8,442.6H743.2"/><path d="M744.8,435.6V441.1M743.4,438.4H744.8M744.8,440.6H746.2"/><path d="M747.8,434.2V439.9M746.4,436.1H747.8M747.8,438.8H749.2"/><path d="M750.8,430.8V436.9M749.4,436.6H750.8M750.8,433.7H752.2"/><path d="M753.8,425.4V433.7M752.4,429.5H753.8M753.8,427.7H755.2"/><path d="M756.8,420.5V427.3M755.4,425.6H756.8M756.8,424.6H758.2"/><path d="M759.8,418.1V423.0M758.4,421.7H759.8M759.8,418.6H761.2"/><path d="M762.8,405.4V411.4M761.4,405.9H762.8M762.8,408.1H764.2"/><path d="M765.8,408.8V413.7M764.4,412.2H765.8M765.8,409.3H767.2"/><path d="M768.8,408.2V413.4M767.4,408.4H768.8M768.8,411.9H770.2"/><path d="M771.8,408.2V412.1M770.4,410.5H771.8M771.8,410.7H773.2"/><path d="M774.8,405.6V410.6M773.4,407.0H774.8M774.8,407.3H776.2"/><path d="M777.8,402.4V408.3M776.4,404.8H777.8M777.8,408.1H779.2"/><path d="M780.8,410.1V417.5M779.4,415.5H780.8M780.8,410.1H782.2"/><path d="M783.8,409.6V418.2M782.4,415.3H783.8M783.8,413.2H785.2"/><path d="M786.8,408.8V416.4M785.4,414.4H786.8M786.8,412.6H788.2"/><path d="M789.8,411.9V419.2M788.4,413.1H789.8M789.8,415.5H791.2"/><path d="M792.8,420.5V427.5M791.4,426.4H792.8M792.8,420.8H794.2"/><path d="M795.8,427.5V435.1M794.4,429.0H795.8M795.8,434.9H797.2"/><path d="M798.8,409.2V416.2M797.4,413.8H798.8M798.8,411.9H800.2"/><path d="M801.8,413.2V419.7M800.4,413.3H801.8M801.8,417.4H803.2"/><path d="M804.8,398.8V407.5M803.4,402.6H804.8M804.8,401.4H806.2"/><path d="M807.8,398.8V403.0M806.4,401.9H807.8M807.8,400.6H809.2"/><path d="M810.8,398.4V402.4M809.4,401.8H810.8M810.8,399.0H812.2"/><path d="M813.8,397.3V400.5M812.4,397.6H813.8M813.8,398.8H815.2"/><path d="M816.8,397.6V401.9M815.4,399.9H816.8M816.8,397.7H818.2"/><path d="M819.8,380.9V390.3M818.4,388.7H819.8M819.8,386.7H821.2"/><path d="M822.8,383.0V387.6M821.4,383.1H822.8M822.8,387.1H824.2"/></g>
<text x="99.8" y="727.0" font-family='"Liberation Sans", sans-serif' font-size="10.5" fill="#5a5a5a" textLength="17.3" lengthAdjust="spacingAndGlyphs">Jul</text><text x="157.8" y="727.0" font-family='"Liberation Sans", sans-serif' font-size="10.5" fill="#5a5a5a" textLength="22.5" lengthAdjust="spacingAndGlyphs">Aug</text><text x="226.0" y="727.0" font-family='"Liberation Sans", sans-serif' font-size="10.5" fill="#5a5a5a" textLength="22.0" lengthAdjust="spacingAndGlyphs">Sep</text><text x="286.5" y="727.0" font-family='"Liberation Sans", sans-serif' font-size="10.5" fill="#5a5a5a" textLength="21.0" lengthAdjust="spacingAndGlyphs">Oct</text><text x="350.5" y="727.0" font-family='"Liberation Sans", sans-serif' font-size="10.5" fill="#5a5a5a" textLength="23.0" lengthAdjust="spacingAndGlyphs">Nov</text><text x="414.5" y="727.0" font-family='"Liberation Sans", sans-serif' font-size="10.5" fill="#5a5a5a" textLength="23.0" lengthAdjust="spacingAndGlyphs">Dec</text><text x="470.2" y="727.0" font-family='"Liberation Sans", sans-serif' font-size="12.0" font-weight="bold" fill="#222" textLength="28.5" lengthAdjust="spacingAndGlyphs">2024</text><text x="537.0" y="727.0" font-family='"Liberation Sans", sans-serif' font-size="10.5" fill="#5a5a5a" textLength="21.0" lengthAdjust="spacingAndGlyphs">Feb</text><text x="596.0" y="727.0" font-family='"Liberation Sans", sans-serif' font-size="10.5" fill="#5a5a5a" textLength="22.0" lengthAdjust="spacingAndGlyphs">Mar</text><text x="658.0" y="727.0" font-family='"Liberation Sans", sans-serif' font-size="10.5" fill="#5a5a5a" textLength="20.0" lengthAdjust="spacingAndGlyphs">Apr</text><text x="722.0" y="727.0" font-family='"Liberation Sans", sans-serif' font-size="10.5" fill="#5a5a5a" textLength="23.0" lengthAdjust="spacingAndGlyphs">May</text><text x="789.4" y="727.0" font-family='"Liberation Sans", sans-serif' font-size="10.5" fill="#5a5a5a" textLength="20.0" lengthAdjust="spacingAndGlyphs">Jun</text>
<line x1="75.5" y1="750.6" x2="847.5" y2="750.6" stroke="#e6e6e6" stroke-width="1.3"/><line x1="75.5" y1="774.0" x2="847.5" y2="774.0" stroke="#e6e6e6" stroke-width="1.3"/><line x1="75.5" y1="797.0" x2="847.5" y2="797.0" stroke="#e6e6e6" stroke-width="1.3"/><line x1="75.5" y1="820.0" x2="847.5" y2="820.0" stroke="#e6e6e6" stroke-width="1.3"/><line x1="75.5" y1="843.0" x2="847.5" y2="843.0" stroke="#e6e6e6" stroke-width="1.3"/><line x1="75.5" y1="865.6" x2="847.5" y2="865.6" stroke="#e6e6e6" stroke-width="1.3"/><line x1="75.5" y1="888.8" x2="847.5" y2="888.8" stroke="#e6e6e6" stroke-width="1.3"/>
<line x1="108.5" y1="731" x2="108.5" y2="904" stroke="#e6e6e6" stroke-width="1.3"/><line x1="169.0" y1="731" x2="169.0" y2="904" stroke="#e6e6e6" stroke-width="1.3"/><line x1="237.0" y1="731" x2="237.0" y2="904" stroke="#e6e6e6" stroke-width="1.3"/><line x1="297.0" y1="731" x2="297.0" y2="904" stroke="#e6e6e6" stroke-width="1.3"/><line x1="362.0" y1="731" x2="362.0" y2="904" stroke="#e6e6e6" stroke-width="1.3"/><line x1="426.0" y1="731" x2="426.0" y2="904" stroke="#e6e6e6" stroke-width="1.3"/><line x1="484.5" y1="731" x2="484.5" y2="904" stroke="#cfcfcf" stroke-width="1.3"/><line x1="547.5" y1="731" x2="547.5" y2="904" stroke="#e6e6e6" stroke-width="1.3"/><line x1="607.0" y1="731" x2="607.0" y2="904" stroke="#e6e6e6" stroke-width="1.3"/><line x1="668.0" y1="731" x2="668.0" y2="904" stroke="#e6e6e6" stroke-width="1.3"/><line x1="733.5" y1="731" x2="733.5" y2="904" stroke="#e6e6e6" stroke-width="1.3"/><line x1="799.4" y1="731" x2="799.4" y2="904" stroke="#e6e6e6" stroke-width="1.3"/>
<rect x="75.5" y="731" width="772.0" height="173" fill="none" stroke="#c4c4c4" stroke-width="1.2"/>
<line x1="847.5" y1="750.6" x2="851" y2="750.6" stroke="#aaa" stroke-width="1"/><text x="852.0" y="754.9" font-family='"Liberation Sans", sans-serif' font-size="11.5" fill="#555555" textLength="31.0" lengthAdjust="spacingAndGlyphs">1.375</text><line x1="847.5" y1="774.0" x2="851" y2="774.0" stroke="#aaa" stroke-width="1"/><text x="852.0" y="778.3" font-family='"Liberation Sans", sans-serif' font-size="11.5" fill="#555555" textLength="31.0" lengthAdjust="spacingAndGlyphs">1.350</text><line x1="847.5" y1="797.0" x2="851" y2="797.0" stroke="#aaa" stroke-width="1"/><text x="852.0" y="801.3" font-family='"Liberation Sans", sans-serif' font-size="11.5" fill="#555555" textLength="31.0" lengthAdjust="spacingAndGlyphs">1.325</text><line x1="847.5" y1="820.0" x2="851" y2="820.0" stroke="#aaa" stroke-width="1"/><text x="852.0" y="824.3" font-family='"Liberation Sans", sans-serif' font-size="11.5" fill="#555555" textLength="31.0" lengthAdjust="spacingAndGlyphs">1.300</text><line x1="847.5" y1="843.0" x2="851" y2="843.0" stroke="#aaa" stroke-width="1"/><text x="852.0" y="847.3" font-family='"Liberation Sans", sans-serif' font-size="11.5" fill="#555555" textLength="31.0" lengthAdjust="spacingAndGlyphs">1.275</text><line x1="847.5" y1="865.6" x2="851" y2="865.6" stroke="#aaa" stroke-width="1"/><text x="852.0" y="869.9" font-family='"Liberation Sans", sans-serif' font-size="11.5" fill="#555555" textLength="31.0" lengthAdjust="spacingAndGlyphs">1.250</text><line x1="847.5" y1="888.8" x2="851" y2="888.8" stroke="#aaa" stroke-width="1"/><text x="852.0" y="893.0" font-family='"Liberation Sans", sans-serif' font-size="11.5" fill="#555555" textLength="31.0" lengthAdjust="spacingAndGlyphs">1.225</text>
<polyline points="75.5,761.6 77.6,760.3 79.7,759.3 81.8,760.6 83.9,761.6 86.7,767.2 88.6,770.0 90.4,770.8 92.1,764.7 93.7,758.7 95.6,757.8 97.5,757.1 99.4,756.0 101.3,756.0 103.1,757.5 105.0,758.2 107.1,757.7 109.2,756.5 111.1,758.4 112.9,757.9 114.8,760.0 116.7,755.4 118.6,750.7 120.5,747.5 122.2,744.5 124.0,740.0 125.8,744.2 127.5,747.5 129.6,749.9 131.7,754.5 133.6,756.9 135.4,758.1 137.3,758.2 139.1,756.3 140.9,753.9 142.6,750.5 144.4,749.0 146.2,747.5 147.9,748.3 149.7,746.8 151.4,747.5 153.3,747.7 155.1,748.7 157.0,750.3 159.1,752.3 161.2,756.5 163.1,756.0 165.0,755.6 166.9,755.4 168.9,754.8 171.0,752.6 172.8,753.1 174.5,753.9 176.2,754.0 178.0,754.5 179.8,754.2 181.5,753.0 183.2,751.9 185.0,751.7 186.8,752.9 188.5,752.9 190.2,752.5 192.0,751.7 193.9,755.3 195.9,757.5 197.8,761.0 199.9,759.9 202.0,759.6 204.1,758.7 206.2,759.3 208.1,763.0 210.0,765.3 211.9,768.6 213.8,770.8 215.6,771.1 217.5,772.8 219.6,771.8 221.7,768.6 223.4,770.1 225.2,768.8 226.9,770.0 228.7,771.4 230.5,773.4 232.2,773.4 234.0,775.7 235.8,775.6 237.9,778.9 240.0,782.6 241.8,781.1 243.5,782.0 245.2,781.8 247.0,780.7 248.8,781.8 250.5,783.1 252.2,785.3 254.0,787.4 256.1,789.3 258.3,789.0 260.1,788.0 261.8,784.9 263.6,783.6 265.3,782.6 267.2,780.8 269.2,779.9 271.1,780.8 273.1,778.5 275.0,778.4 276.8,779.8 278.5,780.8 280.2,781.5 282.0,783.5 283.9,783.7 285.8,781.8 287.7,782.7 289.6,781.0 291.5,781.4 293.4,781.2 295.5,786.9 297.6,793.9 299.6,794.8 301.6,797.9 303.5,798.9 305.5,799.1 307.5,801.0 309.6,801.5 311.8,799.6 313.9,799.6 316.0,799.5 317.8,803.2 319.7,805.5 321.5,808.0 323.6,804.4 325.6,804.0 327.7,799.5 329.8,797.6 331.6,798.5 333.4,801.3 335.1,801.8 336.9,803.7 338.8,805.6 340.6,807.4 342.5,810.8 344.6,809.1 346.7,809.4 348.9,802.5 351.0,795.3 353.1,800.3 355.2,806.6 356.9,808.9 358.7,810.5 360.4,812.8 362.2,815.0 363.9,813.6 365.7,810.0 367.4,807.8 369.2,805.1 370.9,809.5 372.7,811.4 374.4,814.8 376.2,819.2 378.2,821.9 380.1,823.3 382.1,823.6 384.0,825.2 386.0,827.6 387.9,823.8 389.8,819.9 391.7,814.4 393.8,815.4 395.9,817.8 397.7,819.2 399.4,819.4 401.2,819.1 403.0,819.2 405.1,818.0 407.2,816.1 409.3,814.9 411.4,815.0 413.3,816.6 415.1,815.3 417.0,816.4 418.9,813.6 420.7,809.3 422.6,806.6 424.5,801.5 426.4,795.2 428.3,789.1 430.4,793.1 432.5,798.0 434.6,795.2 436.7,793.9 438.9,797.2 441.0,799.5 442.8,796.1 444.7,794.2 446.5,792.5 448.4,787.0 450.3,782.1 452.2,775.6 454.1,779.2 455.9,781.7 457.8,785.5 459.6,786.3 461.3,784.3 463.1,783.7 464.8,784.6 466.6,783.2 468.4,782.8 470.1,781.0 471.9,781.2 474.0,780.1 476.1,780.2 478.2,780.3 480.3,779.8 482.2,777.5 484.1,776.7 486.0,775.6 488.1,779.3 490.1,781.2 492.2,781.0 494.4,778.4 496.5,781.2 498.6,783.8 500.7,786.0 502.8,787.3 504.9,789.5 507.0,791.9 509.1,796.5 511.2,798.0 513.1,801.1 515.0,804.3 516.9,804.7 518.7,808.7 520.6,811.0 522.5,813.6 524.2,815.9 526.0,816.7 527.8,820.0 529.5,820.6 531.4,817.9 533.2,817.3 535.1,815.5 537.1,815.4 539.1,815.1 541.0,814.1 543.0,813.3 545.0,812.2 547.1,817.8 549.2,823.0 551.3,826.6 553.4,831.9 555.5,833.0 557.6,834.2 559.7,834.8 561.8,834.4 563.9,836.0 566.0,836.0 568.1,833.4 570.3,829.0 572.2,828.1 574.2,827.1 576.1,825.4 578.1,824.7 580.0,823.4 581.9,822.7 583.7,820.5 585.6,820.6 587.5,824.5 589.3,828.9 591.2,831.3 593.1,831.9 595.0,831.3 596.9,830.5 598.6,829.2 600.4,828.9 602.1,827.5 603.9,826.2 606.0,826.8 608.1,827.6 609.9,826.0 611.7,821.7 613.4,820.9 615.2,817.8 617.3,817.4 619.4,819.2 621.3,817.1 623.1,814.5 625.0,812.2 626.9,814.4 628.7,818.3 630.6,820.6 632.5,822.0 634.3,823.7 636.2,824.8 638.4,824.4 640.5,822.0 642.6,822.8 644.7,824.8 646.6,822.7 648.4,822.5 650.3,822.0 652.4,824.5 654.5,826.2 656.5,823.0 658.5,820.4 660.4,819.6 662.4,816.5 664.4,813.6 666.5,814.9 668.6,817.3 670.7,817.4 672.8,819.2 674.7,819.1 676.5,817.5 678.4,817.8 680.3,817.6 682.1,818.5 684.0,817.8 685.8,823.0 687.5,827.2 689.2,830.2 691.0,834.7 692.8,835.2 694.5,834.9 696.2,834.8 698.0,836.0 699.9,834.6 701.8,834.1 703.7,831.9 705.6,827.6 707.5,822.1 709.4,816.4 711.3,818.4 713.1,817.7 715.0,819.2 716.9,817.9 718.7,818.1 720.6,817.8 722.7,822.2 724.8,827.6 726.6,825.5 728.3,824.6 730.1,823.7 731.9,822.0 733.8,824.1 735.6,825.8 737.5,829.2 739.3,831.6 741.1,832.5 743.0,834.7 744.9,833.0 746.8,832.2 748.7,833.5 750.6,830.8 752.5,831.7 754.4,830.5 756.3,831.7 758.1,832.2 760.0,834.4 761.9,833.6 763.7,835.0 765.6,836.9 767.5,837.8 769.4,837.8 771.2,840.8 773.1,840.4 775.0,841.2 776.9,843.1 779.0,845.5 781.1,850.4 783.2,853.5 785.3,857.5 787.4,861.1 789.5,864.2 791.2,861.1 793.0,857.6 794.8,853.0 796.5,848.7 798.5,851.4 800.5,855.5 802.5,858.2 804.6,861.2 806.6,865.7 808.6,869.7 810.6,872.6 812.4,873.3 814.1,874.9 815.9,876.5 817.6,878.3 819.4,882.6 821.2,886.0 822.9,890.1 824.7,893.7" fill="none" stroke="#161616" stroke-width="1.9" stroke-linejoin="round" stroke-linecap="round"/>
<rect x="77" y="733" width="158" height="14" fill="#fff"/>
<rect x="78.3" y="739.3" width="10" height="2.4" fill="#333"/><text x="93.3" y="744.5" font-family='"Liberation Mono", monospace' font-size="12" fill="#6a6a6a" textLength="137.0" lengthAdjust="spacingAndGlyphs">$SPXEW:$SPX 1.218</text>
<text x="491.0" y="766.6" font-family='"Liberation Sans", sans-serif' font-size="14.5" font-weight="bold" fill="#222" textLength="204.0" lengthAdjust="spacingAndGlyphs">Eq Wt S&amp;P 500 vs. S&amp;P 500</text>
<line x1="75.5" y1="920.4" x2="847.5" y2="920.4" stroke="#e6e6e6" stroke-width="1.3"/><line x1="75.5" y1="944.0" x2="847.5" y2="944.0" stroke="#e6e6e6" stroke-width="1.3"/><line x1="75.5" y1="966.5" x2="847.5" y2="966.5" stroke="#e6e6e6" stroke-width="1.3"/><line x1="75.5" y1="990.0" x2="847.5" y2="990.0" stroke="#e6e6e6" stroke-width="1.3"/><line x1="75.5" y1="1013.8" x2="847.5" y2="1013.8" stroke="#e6e6e6" stroke-width="1.3"/><line x1="75.5" y1="1036.0" x2="847.5" y2="1036.0" stroke="#e6e6e6" stroke-width="1.3"/><line x1="75.5" y1="1059.4" x2="847.5" y2="1059.4" stroke="#e6e6e6" stroke-width="1.3"/>
<line x1="108.5" y1="904" x2="108.5" y2="1076" stroke="#e6e6e6" stroke-width="1.3"/><line x1="169.0" y1="904" x2="169.0" y2="1076" stroke="#e6e6e6" stroke-width="1.3"/><line x1="237.0" y1="904" x2="237.0" y2="1076" stroke="#e6e6e6" stroke-width="1.3"/><line x1="297.0" y1="904" x2="297.0" y2="1076" stroke="#e6e6e6" stroke-width="1.3"/><line x1="362.0" y1="904" x2="362.0" y2="1076" stroke="#e6e6e6" stroke-width="1.3"/><line x1="426.0" y1="904" x2="426.0" y2="1076" stroke="#e6e6e6" stroke-width="1.3"/><line x1="484.5" y1="904" x2="484.5" y2="1076" stroke="#cfcfcf" stroke-width="1.3"/><line x1="547.5" y1="904" x2="547.5" y2="1076" stroke="#e6e6e6" stroke-width="1.3"/><line x1="607.0" y1="904" x2="607.0" y2="1076" stroke="#e6e6e6" stroke-width="1.3"/><line x1="668.0" y1="904" x2="668.0" y2="1076" stroke="#e6e6e6" stroke-width="1.3"/><line x1="733.5" y1="904" x2="733.5" y2="1076" stroke="#e6e6e6" stroke-width="1.3"/><line x1="799.4" y1="904" x2="799.4" y2="1076" stroke="#e6e6e6" stroke-width="1.3"/>
<rect x="75.5" y="904" width="772.0" height="172" fill="none" stroke="#c4c4c4" stroke-width="1.2"/>
<line x1="847.5" y1="920.4" x2="851" y2="920.4" stroke="#aaa" stroke-width="1"/><text x="852.0" y="924.7" font-family='"Liberation Sans", sans-serif' font-size="11.5" fill="#555555" textLength="24.5" lengthAdjust="spacingAndGlyphs">0.43</text><line x1="847.5" y1="944.0" x2="851" y2="944.0" stroke="#aaa" stroke-width="1"/><text x="852.0" y="948.3" font-family='"Liberation Sans", sans-serif' font-size="11.5" fill="#555555" textLength="24.5" lengthAdjust="spacingAndGlyphs">0.42</text><line x1="847.5" y1="966.5" x2="851" y2="966.5" stroke="#aaa" stroke-width="1"/><text x="852.0" y="970.8" font-family='"Liberation Sans", sans-serif' font-size="11.5" fill="#555555" textLength="24.5" lengthAdjust="spacingAndGlyphs">0.41</text><line x1="847.5" y1="990.0" x2="851" y2="990.0" stroke="#aaa" stroke-width="1"/><text x="852.0" y="994.3" font-family='"Liberation Sans", sans-serif' font-size="11.5" fill="#555555" textLength="24.5" lengthAdjust="spacingAndGlyphs">0.40</text><line x1="847.5" y1="1013.8" x2="851" y2="1013.8" stroke="#aaa" stroke-width="1"/><text x="852.0" y="1018.0" font-family='"Liberation Sans", sans-serif' font-size="11.5" fill="#555555" textLength="24.5" lengthAdjust="spacingAndGlyphs">0.39</text><line x1="847.5" y1="1036.0" x2="851" y2="1036.0" stroke="#aaa" stroke-width="1"/><text x="852.0" y="1040.3" font-family='"Liberation Sans", sans-serif' font-size="11.5" fill="#555555" textLength="24.5" lengthAdjust="spacingAndGlyphs">0.38</text><line x1="847.5" y1="1059.4" x2="851" y2="1059.4" stroke="#aaa" stroke-width="1"/><text x="852.0" y="1063.7" font-family='"Liberation Sans", sans-serif' font-size="11.5" fill="#555555" textLength="24.5" lengthAdjust="spacingAndGlyphs">0.37</text>
<polyline points="75.5,933.7 78.3,938.0 80.2,937.3 82.0,937.0 83.9,936.0 85.8,941.7 87.6,945.8 89.5,952.0 91.6,948.0 93.7,946.1 95.8,943.1 98.0,941.5 100.1,938.5 102.2,935.2 104.0,936.8 105.7,938.1 107.5,939.8 109.2,940.8 111.1,944.6 112.9,950.0 114.8,954.8 116.7,946.1 118.6,939.9 120.5,931.0 122.2,927.9 124.0,927.8 125.8,924.0 127.5,923.0 129.3,925.9 131.2,927.5 133.0,930.4 134.9,926.6 136.8,924.1 138.7,919.7 140.6,918.7 142.5,919.0 144.4,920.2 146.5,922.8 148.6,923.5 150.7,924.1 152.8,926.7 154.9,925.8 157.0,922.5 159.1,925.7 161.2,926.7 163.5,916.9 165.7,915.0 167.8,914.8 170.0,914.0 172.0,914.5 174.0,916.4 176.0,918.6 178.0,919.7 180.1,920.3 182.3,922.9 184.4,922.8 186.5,924.4 188.7,927.4 190.8,928.0 192.8,930.3 194.7,932.9 196.7,935.9 198.6,938.2 200.6,940.8 202.5,940.1 204.3,938.7 206.2,939.4 208.3,943.4 210.4,946.4 212.3,948.1 214.2,948.7 216.1,948.6 217.9,948.5 219.8,949.1 221.7,950.0 223.8,949.7 226.0,948.4 228.1,948.7 230.2,947.2 232.3,947.3 234.4,947.8 237.2,940.8 240.0,954.8 241.9,955.9 243.7,957.6 245.6,959.0 247.3,961.5 249.1,962.5 250.8,963.1 252.6,966.0 254.8,968.2 256.9,968.9 258.8,966.9 260.6,965.2 262.5,963.3 264.6,964.7 266.7,967.3 268.8,969.3 270.9,971.7 272.8,972.4 274.7,970.7 276.5,971.8 278.4,970.9 280.3,972.2 282.2,971.7 283.9,967.4 285.7,964.8 287.4,961.8 289.2,959.0 291.1,961.2 292.9,961.7 294.8,964.7 296.9,970.9 299.0,977.3 300.8,978.0 302.5,979.6 304.2,981.5 306.0,983.0 307.8,984.5 309.5,983.7 311.2,985.1 313.0,984.4 315.9,981.6 317.8,987.3 319.6,995.7 321.5,1001.2 322.8,1004.0 324.6,1000.0 326.3,996.0 328.1,993.6 329.8,989.4 331.7,994.3 333.6,996.1 335.5,1001.2 337.3,1003.0 339.2,1006.6 341.0,1008.3 342.9,1007.9 344.8,1007.7 346.7,1008.3 348.9,1001.5 351.0,997.0 352.9,999.2 354.7,1003.9 356.6,1006.9 358.5,1009.4 360.3,1010.8 362.2,1011.0 364.3,1004.0 366.3,995.9 368.4,990.0 370.3,994.5 372.3,1000.5 374.2,1005.6 376.2,1009.7 378.0,1014.2 379.8,1017.5 381.5,1022.4 383.3,1026.5 385.4,1027.2 387.5,1028.0 389.2,1012.8 390.9,997.0 393.4,1003.4 395.9,1011.0 398.7,1002.6 400.6,1007.0 402.5,1010.1 404.4,1012.5 406.1,1010.1 407.9,1008.9 409.6,1008.7 411.4,1006.3 413.3,1007.3 415.1,1010.5 417.0,1011.0 418.9,1009.2 420.7,1007.8 422.6,1005.5 424.5,994.7 426.4,982.3 428.3,971.7 430.4,976.1 432.5,981.6 434.2,980.3 436.0,980.6 437.8,979.9 439.5,978.7 441.4,979.7 443.2,983.4 445.1,984.4 447.0,970.6 448.9,956.6 450.8,943.6 452.6,945.9 454.3,949.7 456.1,951.1 457.8,953.4 459.9,948.8 462.0,943.6 464.1,945.3 466.2,945.0 468.3,940.8 470.4,935.1 472.6,929.0 474.7,923.9 476.6,925.5 478.4,927.7 480.3,928.1 482.4,935.8 484.5,942.2 486.6,950.8 488.7,959.0 490.8,958.6 492.9,958.7 495.1,959.6 497.2,959.0 499.2,962.8 501.1,965.2 503.1,970.5 505.0,974.6 507.0,977.3 508.8,980.8 510.5,983.9 512.2,986.8 514.0,988.6 515.8,990.1 517.5,992.1 519.2,992.5 521.0,994.2 523.9,977.3 525.8,980.8 527.6,985.8 529.5,990.6 531.2,989.3 533.0,989.9 534.8,988.5 536.5,987.2 539.3,979.3 541.4,983.1 543.5,987.0 545.7,989.6 547.8,994.2 549.5,999.2 551.3,1004.5 553.0,1008.7 554.8,1013.9 556.9,1011.8 559.0,1011.0 560.4,1019.5 562.5,1009.8 564.6,1000.1 566.8,991.5 568.9,981.6 570.7,992.7 572.5,1005.5 574.6,994.7 576.6,985.3 578.7,975.9 580.5,982.0 582.4,987.8 584.2,992.8 586.0,996.7 587.7,1000.9 589.5,1003.1 591.2,1006.9 593.2,1000.7 595.2,996.7 597.1,991.5 599.1,986.6 600.8,988.2 602.5,991.4 604.4,991.1 606.2,989.7 608.1,989.4 610.2,988.2 612.4,987.9 614.5,988.8 616.6,987.2 618.4,985.0 620.1,984.8 621.9,983.5 623.6,983.0 625.5,986.9 627.3,992.2 629.2,997.0 632.0,995.6 634.1,999.9 636.2,1005.5 638.0,1008.1 639.8,1008.8 641.5,1010.9 643.3,1012.0 645.4,1006.2 647.6,1001.9 649.7,997.0 651.7,1001.9 653.7,1006.3 655.8,1003.6 658.0,998.6 660.1,995.6 662.3,993.0 664.4,988.6 666.3,994.5 668.1,998.2 670.0,1004.0 671.8,1002.7 673.5,1001.8 675.2,999.5 677.0,998.4 679.8,1004.0 681.7,1002.7 683.6,1001.1 685.5,999.0 688.3,1012.5 690.4,1015.5 692.5,1016.4 694.6,1018.5 696.8,1019.6 698.9,1022.4 701.0,1023.7 703.0,1024.0 705.1,1025.1 707.2,1020.2 709.4,1015.3 711.1,1013.6 712.9,1012.0 714.6,1010.2 716.4,1009.7 718.1,1010.3 719.9,1012.3 721.6,1012.9 723.4,1014.7 725.5,1012.7 727.6,1013.6 729.8,1011.4 731.9,1011.0 734.0,1007.8 736.1,1002.6 738.4,1002.4 740.7,1001.4 743.0,1001.2 744.9,1003.2 746.8,1004.4 748.7,1004.6 750.6,1005.9 752.5,1007.1 754.4,1009.7 756.1,1008.6 757.9,1007.7 759.6,1005.7 761.4,1004.0 763.1,1005.8 764.9,1005.9 766.6,1007.5 768.4,1008.3 770.3,1010.1 772.2,1012.7 774.0,1015.0 775.9,1017.4 777.8,1019.7 779.7,1022.3 781.6,1022.6 783.4,1020.6 785.3,1021.0 787.8,1023.8 790.3,1028.0 792.0,1020.4 793.7,1013.9 796.5,1015.3 798.3,1020.7 800.0,1023.8 801.8,1026.9 803.6,1032.2 805.4,1036.2 807.1,1039.4 808.9,1042.4 810.6,1044.8 812.5,1045.4 814.3,1047.2 816.2,1047.6 818.3,1045.7 820.4,1044.8 822.3,1051.0 824.1,1059.7 826.0,1065.9" fill="none" stroke="#161616" stroke-width="1.9" stroke-linejoin="round" stroke-linecap="round"/>
<rect x="77" y="906" width="114" height="14" fill="#fff"/>
<rect x="78.3" y="911.5" width="10" height="2.4" fill="#333"/><text x="93.3" y="916.7" font-family='"Liberation Mono", monospace' font-size="12" fill="#6a6a6a" textLength="95.6" lengthAdjust="spacingAndGlyphs">IWM:SPY 0.37</text>
<text x="495.0" y="918.3" font-family='"Liberation Sans", sans-serif' font-size="14.5" font-weight="bold" fill="#222" textLength="185.0" lengthAdjust="spacingAndGlyphs">Russell 2000 vs. S&amp;P 500</text>
<text x="99.8" y="1087.5" font-family='"Liberation Sans", sans-serif' font-size="10.5" fill="#5a5a5a" textLength="17.3" lengthAdjust="spacingAndGlyphs">Jul</text><text x="157.8" y="1087.5" font-family='"Liberation Sans", sans-serif' font-size="10.5" fill="#5a5a5a" textLength="22.5" lengthAdjust="spacingAndGlyphs">Aug</text><text x="226.0" y="1087.5" font-family='"Liberation Sans", sans-serif' font-size="10.5" fill="#5a5a5a" textLength="22.0" lengthAdjust="spacingAndGlyphs">Sep</text><text x="286.5" y="1087.5" font-family='"Liberation Sans", sans-serif' font-size="10.5" fill="#5a5a5a" textLength="21.0" lengthAdjust="spacingAndGlyphs">Oct</text><text x="350.5" y="1087.5" font-family='"Liberation Sans", sans-serif' font-size="10.5" fill="#5a5a5a" textLength="23.0" lengthAdjust="spacingAndGlyphs">Nov</text><text x="414.5" y="1087.5" font-family='"Liberation Sans", sans-serif' font-size="10.5" fill="#5a5a5a" textLength="23.0" lengthAdjust="spacingAndGlyphs">Dec</text><text x="470.2" y="1087.5" font-family='"Liberation Sans", sans-serif' font-size="12.0" font-weight="bold" fill="#222" textLength="28.5" lengthAdjust="spacingAndGlyphs">2024</text><text x="537.0" y="1087.5" font-family='"Liberation Sans", sans-serif' font-size="10.5" fill="#5a5a5a" textLength="21.0" lengthAdjust="spacingAndGlyphs">Feb</text><text x="596.0" y="1087.5" font-family='"Liberation Sans", sans-serif' font-size="10.5" fill="#5a5a5a" textLength="22.0" lengthAdjust="spacingAndGlyphs">Mar</text><text x="658.0" y="1087.5" font-family='"Liberation Sans", sans-serif' font-size="10.5" fill="#5a5a5a" textLength="20.0" lengthAdjust="spacingAndGlyphs">Apr</text><text x="722.0" y="1087.5" font-family='"Liberation Sans", sans-serif' font-size="10.5" fill="#5a5a5a" textLength="23.0" lengthAdjust="spacingAndGlyphs">May</text><text x="789.4" y="1087.5" font-family='"Liberation Sans", sans-serif' font-size="10.5" fill="#5a5a5a" textLength="20.0" lengthAdjust="spacingAndGlyphs">Jun</text>
<rect x="769" y="799.5" width="116" height="303" rx="6" ry="6" fill="none" stroke="#e8524f" stroke-width="5"/>
<rect x="60" y="1171" width="840" height="1012.5" fill="#ffffff"/>
<rect x="60" y="2150" width="840" height="33.5" fill="url(#boxfade2)"/>
<text x="78.8" y="1195.5" font-family='"Liberation Sans", sans-serif' font-size="14.5" font-weight="bold" fill="#222" textLength="66.5" lengthAdjust="spacingAndGlyphs">XLV:SPY</text>
<text x="150.0" y="1194.6" font-family='"Liberation Sans", sans-serif' font-size="12" fill="#444" textLength="331.3" lengthAdjust="spacingAndGlyphs">Health Care Select Sector SPDR Fund/SPDR S&amp;P 500 ETF</text>
<text x="489.0" y="1194.6" font-family='"Liberation Sans", sans-serif' font-size="10" fill="#444" textLength="32.0" lengthAdjust="spacingAndGlyphs">NYSE</text>
<text x="78.8" y="1210.0" font-family='"Liberation Sans", sans-serif' font-size="11.5" fill="#444" textLength="70.0" lengthAdjust="spacingAndGlyphs">14-Jun-2024</text>
<text x="741.8" y="1194.6" font-family='"Liberation Sans", sans-serif' font-size="12" fill="#555" textLength="105.0" lengthAdjust="spacingAndGlyphs">©StockCharts.com</text>
<text x="448.7" y="1210.0" font-family='"Liberation Sans", sans-serif' font-size="12" font-weight="bold" fill="#222" textLength="34.2" lengthAdjust="spacingAndGlyphs">Open</text><text x="486.0" y="1210.0" font-family='"Liberation Sans", sans-serif' font-size="11.5" fill="#555" textLength="24.0" lengthAdjust="spacingAndGlyphs">0.27</text><text x="519.6" y="1210.0" font-family='"Liberation Sans", sans-serif' font-size="12" font-weight="bold" fill="#222" textLength="28.4" lengthAdjust="spacingAndGlyphs">High</text><text x="552.0" y="1210.0" font-family='"Liberation Sans", sans-serif' font-size="11.5" fill="#555" textLength="27.0" lengthAdjust="spacingAndGlyphs">0.27</text><text x="585.0" y="1210.0" font-family='"Liberation Sans", sans-serif' font-size="12" font-weight="bold" fill="#222" textLength="27.8" lengthAdjust="spacingAndGlyphs">Low</text><text x="617.0" y="1210.0" font-family='"Liberation Sans", sans-serif' font-size="11.5" fill="#555" textLength="26.0" lengthAdjust="spacingAndGlyphs">0.27</text><text x="650.0" y="1210.0" font-family='"Liberation Sans", sans-serif' font-size="12" font-weight="bold" fill="#222" textLength="37.0" lengthAdjust="spacingAndGlyphs">Close</text><text x="690.0" y="1210.0" font-family='"Liberation Sans", sans-serif' font-size="11.5" fill="#555" textLength="27.0" lengthAdjust="spacingAndGlyphs">0.27</text><text x="725.2" y="1210.0" font-family='"Liberation Sans", sans-serif' font-size="12" font-weight="bold" fill="#222" textLength="25.4" lengthAdjust="spacingAndGlyphs">Chg</text><text x="754.0" y="1210.0" font-family='"Liberation Sans", sans-serif' font-size="11.5" fill="#555" textLength="82.0" lengthAdjust="spacingAndGlyphs">-0.00 (-0.08%)</text>
<polygon points="839,1205 846,1205 842.5,1210" fill="#333"/>
<line x1="79" y1="1218.8" x2="847.5" y2="1218.8" stroke="#e6e6e6" stroke-width="1.3"/><line x1="79" y1="1235.6" x2="847.5" y2="1235.6" stroke="#e6e6e6" stroke-width="1.3"/><line x1="79" y1="1252.5" x2="847.5" y2="1252.5" stroke="#e6e6e6" stroke-width="1.3"/><line x1="79" y1="1271.9" x2="847.5" y2="1271.9" stroke="#e6e6e6" stroke-width="1.3"/><line x1="79" y1="1291.2" x2="847.5" y2="1291.2" stroke="#e6e6e6" stroke-width="1.3"/><line x1="79" y1="1311.9" x2="847.5" y2="1311.9" stroke="#e6e6e6" stroke-width="1.3"/><line x1="79" y1="1335.0" x2="847.5" y2="1335.0" stroke="#e6e6e6" stroke-width="1.3"/><line x1="79" y1="1358.0" x2="847.5" y2="1358.0" stroke="#e6e6e6" stroke-width="1.3"/><line x1="79" y1="1383.0" x2="847.5" y2="1383.0" stroke="#e6e6e6" stroke-width="1.3"/>
<line x1="95.2" y1="1213.5" x2="95.2" y2="1393" stroke="#e6e6e6" stroke-width="1.3"/><line x1="126.0" y1="1213.5" x2="126.0" y2="1393" stroke="#e6e6e6" stroke-width="1.3"/><line x1="159.8" y1="1213.5" x2="159.8" y2="1393" stroke="#e6e6e6" stroke-width="1.3"/><line x1="193.6" y1="1213.5" x2="193.6" y2="1393" stroke="#e6e6e6" stroke-width="1.3"/><line x1="224.5" y1="1213.5" x2="224.5" y2="1393" stroke="#e6e6e6" stroke-width="1.3"/><line x1="256.9" y1="1213.5" x2="256.9" y2="1393" stroke="#e6e6e6" stroke-width="1.3"/><line x1="289.2" y1="1213.5" x2="289.2" y2="1393" stroke="#cfcfcf" stroke-width="1.3"/><line x1="320.0" y1="1213.5" x2="320.0" y2="1393" stroke="#e6e6e6" stroke-width="1.3"/><line x1="347.6" y1="1213.5" x2="347.6" y2="1393" stroke="#e6e6e6" stroke-width="1.3"/><line x1="382.4" y1="1213.5" x2="382.4" y2="1393" stroke="#e6e6e6" stroke-width="1.3"/><line x1="412.2" y1="1213.5" x2="412.2" y2="1393" stroke="#e6e6e6" stroke-width="1.3"/><line x1="446.0" y1="1213.5" x2="446.0" y2="1393" stroke="#e6e6e6" stroke-width="1.3"/><line x1="477.5" y1="1213.5" x2="477.5" y2="1393" stroke="#e6e6e6" stroke-width="1.3"/><line x1="507.8" y1="1213.5" x2="507.8" y2="1393" stroke="#e6e6e6" stroke-width="1.3"/><line x1="542.2" y1="1213.5" x2="542.2" y2="1393" stroke="#e6e6e6" stroke-width="1.3"/><line x1="573.0" y1="1213.5" x2="573.0" y2="1393" stroke="#e6e6e6" stroke-width="1.3"/><line x1="606.7" y1="1213.5" x2="606.7" y2="1393" stroke="#e6e6e6" stroke-width="1.3"/><line x1="637.6" y1="1213.5" x2="637.6" y2="1393" stroke="#e6e6e6" stroke-width="1.3"/><line x1="669.4" y1="1213.5" x2="669.4" y2="1393" stroke="#cfcfcf" stroke-width="1.3"/><line x1="701.0" y1="1213.5" x2="701.0" y2="1393" stroke="#e6e6e6" stroke-width="1.3"/><line x1="731.9" y1="1213.5" x2="731.9" y2="1393" stroke="#e6e6e6" stroke-width="1.3"/><line x1="762.8" y1="1213.5" x2="762.8" y2="1393" stroke="#e6e6e6" stroke-width="1.3"/><line x1="795.0" y1="1213.5" x2="795.0" y2="1393" stroke="#e6e6e6" stroke-width="1.3"/><line x1="828.9" y1="1213.5" x2="828.9" y2="1393" stroke="#e6e6e6" stroke-width="1.3"/>
<rect x="79" y="1213.5" width="768.5" height="179.5" fill="none" stroke="#c4c4c4" stroke-width="1.2"/>
<line x1="847.5" y1="1218.8" x2="851" y2="1218.8" stroke="#aaa" stroke-width="1"/><text x="852.0" y="1223.0" font-family='"Liberation Sans", sans-serif' font-size="11" fill="#555555" textLength="27.5" lengthAdjust="spacingAndGlyphs">5500</text><line x1="847.5" y1="1235.6" x2="851" y2="1235.6" stroke="#aaa" stroke-width="1"/><text x="852.0" y="1239.9" font-family='"Liberation Sans", sans-serif' font-size="11" fill="#555555" textLength="27.5" lengthAdjust="spacingAndGlyphs">5250</text><line x1="847.5" y1="1252.5" x2="851" y2="1252.5" stroke="#aaa" stroke-width="1"/><text x="852.0" y="1256.8" font-family='"Liberation Sans", sans-serif' font-size="11" fill="#555555" textLength="27.5" lengthAdjust="spacingAndGlyphs">5000</text><line x1="847.5" y1="1271.9" x2="851" y2="1271.9" stroke="#aaa" stroke-width="1"/><text x="852.0" y="1276.2" font-family='"Liberation Sans", sans-serif' font-size="11" fill="#555555" textLength="27.5" lengthAdjust="spacingAndGlyphs">4750</text><line x1="847.5" y1="1291.2" x2="851" y2="1291.2" stroke="#aaa" stroke-width="1"/><text x="852.0" y="1295.5" font-family='"Liberation Sans", sans-serif' font-size="11" fill="#555555" textLength="27.5" lengthAdjust="spacingAndGlyphs">4500</text><line x1="847.5" y1="1311.9" x2="851" y2="1311.9" stroke="#aaa" stroke-width="1"/><text x="852.0" y="1316.2" font-family='"Liberation Sans", sans-serif' font-size="11" fill="#555555" textLength="27.5" lengthAdjust="spacingAndGlyphs">4250</text><line x1="847.5" y1="1335.0" x2="851" y2="1335.0" stroke="#aaa" stroke-width="1"/><text x="852.0" y="1339.3" font-family='"Liberation Sans", sans-serif' font-size="11" fill="#555555" textLength="27.5" lengthAdjust="spacingAndGlyphs">4000</text><line x1="847.5" y1="1358.0" x2="851" y2="1358.0" stroke="#aaa" stroke-width="1"/><text x="852.0" y="1362.3" font-family='"Liberation Sans", sans-serif' font-size="11" fill="#555555" textLength="27.5" lengthAdjust="spacingAndGlyphs">3750</text><line x1="847.5" y1="1383.0" x2="851" y2="1383.0" stroke="#aaa" stroke-width="1"/><text x="852.0" y="1387.3" font-family='"Liberation Sans", sans-serif' font-size="11" fill="#555555" textLength="27.5" lengthAdjust="spacingAndGlyphs">3500</text>
<line x1="79" y1="1396.7" x2="847.5" y2="1396.7" stroke="#e6e6e6" stroke-width="1.3"/><line x1="79" y1="1412.3" x2="847.5" y2="1412.3" stroke="#e6e6e6" stroke-width="1.3"/><line x1="79" y1="1429.5" x2="847.5" y2="1429.5" stroke="#e6e6e6" stroke-width="1.3"/><line x1="79" y1="1446.7" x2="847.5" y2="1446.7" stroke="#e6e6e6" stroke-width="1.3"/><line x1="79" y1="1463.3" x2="847.5" y2="1463.3" stroke="#e6e6e6" stroke-width="1.3"/><line x1="79" y1="1481.6" x2="847.5" y2="1481.6" stroke="#e6e6e6" stroke-width="1.3"/><line x1="79" y1="1500.3" x2="847.5" y2="1500.3" stroke="#e6e6e6" stroke-width="1.3"/><line x1="79" y1="1519.6" x2="847.5" y2="1519.6" stroke="#e6e6e6" stroke-width="1.3"/><line x1="79" y1="1539.4" x2="847.5" y2="1539.4" stroke="#e6e6e6" stroke-width="1.3"/><line x1="79" y1="1559.2" x2="847.5" y2="1559.2" stroke="#e6e6e6" stroke-width="1.3"/>
<line x1="95.2" y1="1393" x2="95.2" y2="1571" stroke="#e6e6e6" stroke-width="1.3"/><line x1="126.0" y1="1393" x2="126.0" y2="1571" stroke="#e6e6e6" stroke-width="1.3"/><line x1="159.8" y1="1393" x2="159.8" y2="1571" stroke="#e6e6e6" stroke-width="1.3"/><line x1="193.6" y1="1393" x2="193.6" y2="1571" stroke="#e6e6e6" stroke-width="1.3"/><line x1="224.5" y1="1393" x2="224.5" y2="1571" stroke="#e6e6e6" stroke-width="1.3"/><line x1="256.9" y1="1393" x2="256.9" y2="1571" stroke="#e6e6e6" stroke-width="1.3"/><line x1="289.2" y1="1393" x2="289.2" y2="1571" stroke="#cfcfcf" stroke-width="1.3"/><line x1="320.0" y1="1393" x2="320.0" y2="1571" stroke="#e6e6e6" stroke-width="1.3"/><line x1="347.6" y1="1393" x2="347.6" y2="1571" stroke="#e6e6e6" stroke-width="1.3"/><line x1="382.4" y1="1393" x2="382.4" y2="1571" stroke="#e6e6e6" stroke-width="1.3"/><line x1="412.2" y1="1393" x2="412.2" y2="1571" stroke="#e6e6e6" stroke-width="1.3"/><line x1="446.0" y1="1393" x2="446.0" y2="1571" stroke="#e6e6e6" stroke-width="1.3"/><line x1="477.5" y1="1393" x2="477.5" y2="1571" stroke="#e6e6e6" stroke-width="1.3"/><line x1="507.8" y1="1393" x2="507.8" y2="1571" stroke="#e6e6e6" stroke-width="1.3"/><line x1="542.2" y1="1393" x2="542.2" y2="1571" stroke="#e6e6e6" stroke-width="1.3"/><line x1="573.0" y1="1393" x2="573.0" y2="1571" stroke="#e6e6e6" stroke-width="1.3"/><line x1="606.7" y1="1393" x2="606.7" y2="1571" stroke="#e6e6e6" stroke-width="1.3"/><line x1="637.6" y1="1393" x2="637.6" y2="1571" stroke="#e6e6e6" stroke-width="1.3"/><line x1="669.4" y1="1393" x2="669.4" y2="1571" stroke="#cfcfcf" stroke-width="1.3"/><line x1="701.0" y1="1393" x2="701.0" y2="1571" stroke="#e6e6e6" stroke-width="1.3"/><line x1="731.9" y1="1393" x2="731.9" y2="1571" stroke="#e6e6e6" stroke-width="1.3"/><line x1="762.8" y1="1393" x2="762.8" y2="1571" stroke="#e6e6e6" stroke-width="1.3"/><line x1="795.0" y1="1393" x2="795.0" y2="1571" stroke="#e6e6e6" stroke-width="1.3"/><line x1="828.9" y1="1393" x2="828.9" y2="1571" stroke="#e6e6e6" stroke-width="1.3"/>
<rect x="79" y="1393" width="768.5" height="178" fill="none" stroke="#c4c4c4" stroke-width="1.2"/>
<line x1="847.5" y1="1396.7" x2="851" y2="1396.7" stroke="#aaa" stroke-width="1"/><text x="852.0" y="1401.0" font-family='"Liberation Sans", sans-serif' font-size="11" fill="#555555" textLength="25.0" lengthAdjust="spacingAndGlyphs">0.36</text><line x1="847.5" y1="1412.3" x2="851" y2="1412.3" stroke="#aaa" stroke-width="1"/><text x="852.0" y="1416.6" font-family='"Liberation Sans", sans-serif' font-size="11" fill="#555555" textLength="25.0" lengthAdjust="spacingAndGlyphs">0.35</text><line x1="847.5" y1="1429.5" x2="851" y2="1429.5" stroke="#aaa" stroke-width="1"/><text x="852.0" y="1433.8" font-family='"Liberation Sans", sans-serif' font-size="11" fill="#555555" textLength="25.0" lengthAdjust="spacingAndGlyphs">0.34</text><line x1="847.5" y1="1446.7" x2="851" y2="1446.7" stroke="#aaa" stroke-width="1"/><text x="852.0" y="1451.0" font-family='"Liberation Sans", sans-serif' font-size="11" fill="#555555" textLength="25.0" lengthAdjust="spacingAndGlyphs">0.33</text><line x1="847.5" y1="1463.3" x2="851" y2="1463.3" stroke="#aaa" stroke-width="1"/><text x="852.0" y="1467.6" font-family='"Liberation Sans", sans-serif' font-size="11" fill="#555555" textLength="25.0" lengthAdjust="spacingAndGlyphs">0.32</text><line x1="847.5" y1="1481.6" x2="851" y2="1481.6" stroke="#aaa" stroke-width="1"/><text x="852.0" y="1485.9" font-family='"Liberation Sans", sans-serif' font-size="11" fill="#555555" textLength="25.0" lengthAdjust="spacingAndGlyphs">0.31</text><line x1="847.5" y1="1500.3" x2="851" y2="1500.3" stroke="#aaa" stroke-width="1"/><text x="852.0" y="1504.6" font-family='"Liberation Sans", sans-serif' font-size="11" fill="#555555" textLength="25.0" lengthAdjust="spacingAndGlyphs">0.30</text><line x1="847.5" y1="1519.6" x2="851" y2="1519.6" stroke="#aaa" stroke-width="1"/><text x="852.0" y="1523.9" font-family='"Liberation Sans", sans-serif' font-size="11" fill="#555555" textLength="25.0" lengthAdjust="spacingAndGlyphs">0.29</text><line x1="847.5" y1="1539.4" x2="851" y2="1539.4" stroke="#aaa" stroke-width="1"/><text x="852.0" y="1543.7" font-family='"Liberation Sans", sans-serif' font-size="11" fill="#555555" textLength="25.0" lengthAdjust="spacingAndGlyphs">0.28</text><line x1="847.5" y1="1559.2" x2="851" y2="1559.2" stroke="#aaa" stroke-width="1"/><text x="852.0" y="1563.5" font-family='"Liberation Sans", sans-serif' font-size="11" fill="#555555" textLength="25.0" lengthAdjust="spacingAndGlyphs">0.27</text>
<line x1="79" y1="1611.8" x2="847.5" y2="1611.8" stroke="#e6e6e6" stroke-width="1.3"/><line x1="79" y1="1642.0" x2="847.5" y2="1642.0" stroke="#e6e6e6" stroke-width="1.3"/><line x1="79" y1="1672.2" x2="847.5" y2="1672.2" stroke="#e6e6e6" stroke-width="1.3"/><line x1="79" y1="1702.4" x2="847.5" y2="1702.4" stroke="#e6e6e6" stroke-width="1.3"/><line x1="79" y1="1732.6" x2="847.5" y2="1732.6" stroke="#e6e6e6" stroke-width="1.3"/><line x1="79" y1="1762.8" x2="847.5" y2="1762.8" stroke="#e6e6e6" stroke-width="1.3"/>
<line x1="95.2" y1="1588" x2="95.2" y2="1767.5" stroke="#e6e6e6" stroke-width="1.3"/><line x1="126.0" y1="1588" x2="126.0" y2="1767.5" stroke="#e6e6e6" stroke-width="1.3"/><line x1="159.8" y1="1588" x2="159.8" y2="1767.5" stroke="#e6e6e6" stroke-width="1.3"/><line x1="193.6" y1="1588" x2="193.6" y2="1767.5" stroke="#e6e6e6" stroke-width="1.3"/><line x1="224.5" y1="1588" x2="224.5" y2="1767.5" stroke="#e6e6e6" stroke-width="1.3"/><line x1="256.9" y1="1588" x2="256.9" y2="1767.5" stroke="#e6e6e6" stroke-width="1.3"/><line x1="289.2" y1="1588" x2="289.2" y2="1767.5" stroke="#cfcfcf" stroke-width="1.3"/><line x1="320.0" y1="1588" x2="320.0" y2="1767.5" stroke="#e6e6e6" stroke-width="1.3"/><line x1="347.6" y1="1588" x2="347.6" y2="1767.5" stroke="#e6e6e6" stroke-width="1.3"/><line x1="382.4" y1="1588" x2="382.4" y2="1767.5" stroke="#e6e6e6" stroke-width="1.3"/><line x1="412.2" y1="1588" x2="412.2" y2="1767.5" stroke="#e6e6e6" stroke-width="1.3"/><line x1="446.0" y1="1588" x2="446.0" y2="1767.5" stroke="#e6e6e6" stroke-width="1.3"/><line x1="477.5" y1="1588" x2="477.5" y2="1767.5" stroke="#e6e6e6" stroke-width="1.3"/><line x1="507.8" y1="1588" x2="507.8" y2="1767.5" stroke="#e6e6e6" stroke-width="1.3"/><line x1="542.2" y1="1588" x2="542.2" y2="1767.5" stroke="#e6e6e6" stroke-width="1.3"/><line x1="573.0" y1="1588" x2="573.0" y2="1767.5" stroke="#e6e6e6" stroke-width="1.3"/><line x1="606.7" y1="1588" x2="606.7" y2="1767.5" stroke="#e6e6e6" stroke-width="1.3"/><line x1="637.6" y1="1588" x2="637.6" y2="1767.5" stroke="#e6e6e6" stroke-width="1.3"/><line x1="669.4" y1="1588" x2="669.4" y2="1767.5" stroke="#cfcfcf" stroke-width="1.3"/><line x1="701.0" y1="1588" x2="701.0" y2="1767.5" stroke="#e6e6e6" stroke-width="1.3"/><line x1="731.9" y1="1588" x2="731.9" y2="1767.5" stroke="#e6e6e6" stroke-width="1.3"/><line x1="762.8" y1="1588" x2="762.8" y2="1767.5" stroke="#e6e6e6" stroke-width="1.3"/><line x1="795.0" y1="1588" x2="795.0" y2="1767.5" stroke="#e6e6e6" stroke-width="1.3"/><line x1="828.9" y1="1588" x2="828.9" y2="1767.5" stroke="#e6e6e6" stroke-width="1.3"/>
<rect x="79" y="1588" width="768.5" height="179.5" fill="none" stroke="#c4c4c4" stroke-width="1.2"/>
<line x1="847.5" y1="1611.8" x2="851" y2="1611.8" stroke="#aaa" stroke-width="1"/><text x="852.0" y="1616.1" font-family='"Liberation Sans", sans-serif' font-size="11" fill="#555555" textLength="25.0" lengthAdjust="spacingAndGlyphs">0.19</text><line x1="847.5" y1="1642.0" x2="851" y2="1642.0" stroke="#aaa" stroke-width="1"/><text x="852.0" y="1646.3" font-family='"Liberation Sans", sans-serif' font-size="11" fill="#555555" textLength="25.0" lengthAdjust="spacingAndGlyphs">0.18</text><line x1="847.5" y1="1672.2" x2="851" y2="1672.2" stroke="#aaa" stroke-width="1"/><text x="852.0" y="1676.5" font-family='"Liberation Sans", sans-serif' font-size="11" fill="#555555" textLength="25.0" lengthAdjust="spacingAndGlyphs">0.17</text><line x1="847.5" y1="1702.4" x2="851" y2="1702.4" stroke="#aaa" stroke-width="1"/><text x="852.0" y="1706.7" font-family='"Liberation Sans", sans-serif' font-size="11" fill="#555555" textLength="25.0" lengthAdjust="spacingAndGlyphs">0.16</text><line x1="847.5" y1="1732.6" x2="851" y2="1732.6" stroke="#aaa" stroke-width="1"/><text x="852.0" y="1736.9" font-family='"Liberation Sans", sans-serif' font-size="11" fill="#555555" textLength="25.0" lengthAdjust="spacingAndGlyphs">0.15</text><line x1="847.5" y1="1762.8" x2="851" y2="1762.8" stroke="#aaa" stroke-width="1"/><text x="852.0" y="1767.1" font-family='"Liberation Sans", sans-serif' font-size="11" fill="#555555" textLength="25.0" lengthAdjust="spacingAndGlyphs">0.14</text>
<line x1="79" y1="1774.6" x2="847.5" y2="1774.6" stroke="#e6e6e6" stroke-width="1.3"/><line x1="79" y1="1797.5" x2="847.5" y2="1797.5" stroke="#e6e6e6" stroke-width="1.3"/><line x1="79" y1="1820.4" x2="847.5" y2="1820.4" stroke="#e6e6e6" stroke-width="1.3"/><line x1="79" y1="1843.9" x2="847.5" y2="1843.9" stroke="#e6e6e6" stroke-width="1.3"/><line x1="79" y1="1866.8" x2="847.5" y2="1866.8" stroke="#e6e6e6" stroke-width="1.3"/><line x1="79" y1="1889.7" x2="847.5" y2="1889.7" stroke="#e6e6e6" stroke-width="1.3"/><line x1="79" y1="1912.6" x2="847.5" y2="1912.6" stroke="#e6e6e6" stroke-width="1.3"/><line x1="79" y1="1935.5" x2="847.5" y2="1935.5" stroke="#e6e6e6" stroke-width="1.3"/>
<line x1="95.2" y1="1767.5" x2="95.2" y2="1946" stroke="#e6e6e6" stroke-width="1.3"/><line x1="126.0" y1="1767.5" x2="126.0" y2="1946" stroke="#e6e6e6" stroke-width="1.3"/><line x1="159.8" y1="1767.5" x2="159.8" y2="1946" stroke="#e6e6e6" stroke-width="1.3"/><line x1="193.6" y1="1767.5" x2="193.6" y2="1946" stroke="#e6e6e6" stroke-width="1.3"/><line x1="224.5" y1="1767.5" x2="224.5" y2="1946" stroke="#e6e6e6" stroke-width="1.3"/><line x1="256.9" y1="1767.5" x2="256.9" y2="1946" stroke="#e6e6e6" stroke-width="1.3"/><line x1="289.2" y1="1767.5" x2="289.2" y2="1946" stroke="#cfcfcf" stroke-width="1.3"/><line x1="320.0" y1="1767.5" x2="320.0" y2="1946" stroke="#e6e6e6" stroke-width="1.3"/><line x1="347.6" y1="1767.5" x2="347.6" y2="1946" stroke="#e6e6e6" stroke-width="1.3"/><line x1="382.4" y1="1767.5" x2="382.4" y2="1946" stroke="#e6e6e6" stroke-width="1.3"/><line x1="412.2" y1="1767.5" x2="412.2" y2="1946" stroke="#e6e6e6" stroke-width="1.3"/><line x1="446.0" y1="1767.5" x2="446.0" y2="1946" stroke="#e6e6e6" stroke-width="1.3"/><line x1="477.5" y1="1767.5" x2="477.5" y2="1946" stroke="#e6e6e6" stroke-width="1.3"/><line x1="507.8" y1="1767.5" x2="507.8" y2="1946" stroke="#e6e6e6" stroke-width="1.3"/><line x1="542.2" y1="1767.5" x2="542.2" y2="1946" stroke="#e6e6e6" stroke-width="1.3"/><line x1="573.0" y1="1767.5" x2="573.0" y2="1946" stroke="#e6e6e6" stroke-width="1.3"/><line x1="606.7" y1="1767.5" x2="606.7" y2="1946" stroke="#e6e6e6" stroke-width="1.3"/><line x1="637.6" y1="1767.5" x2="637.6" y2="1946" stroke="#e6e6e6" stroke-width="1.3"/><line x1="669.4" y1="1767.5" x2="669.4" y2="1946" stroke="#cfcfcf" stroke-width="1.3"/><line x1="701.0" y1="1767.5" x2="701.0" y2="1946" stroke="#e6e6e6" stroke-width="1.3"/><line x1="731.9" y1="1767.5" x2="731.9" y2="1946" stroke="#e6e6e6" stroke-width="1.3"/><line x1="762.8" y1="1767.5" x2="762.8" y2="1946" stroke="#e6e6e6" stroke-width="1.3"/><line x1="795.0" y1="1767.5" x2="795.0" y2="1946" stroke="#e6e6e6" stroke-width="1.3"/><line x1="828.9" y1="1767.5" x2="828.9" y2="1946" stroke="#e6e6e6" stroke-width="1.3"/>
<rect x="79" y="1767.5" width="768.5" height="178.5" fill="none" stroke="#c4c4c4" stroke-width="1.2"/>
<line x1="847.5" y1="1774.6" x2="851" y2="1774.6" stroke="#aaa" stroke-width="1"/><text x="852.0" y="1778.9" font-family='"Liberation Sans", sans-serif' font-size="11" fill="#555555" textLength="32.0" lengthAdjust="spacingAndGlyphs">0.190</text><line x1="847.5" y1="1797.5" x2="851" y2="1797.5" stroke="#aaa" stroke-width="1"/><text x="852.0" y="1801.8" font-family='"Liberation Sans", sans-serif' font-size="11" fill="#555555" textLength="32.0" lengthAdjust="spacingAndGlyphs">0.180</text><line x1="847.5" y1="1820.4" x2="851" y2="1820.4" stroke="#aaa" stroke-width="1"/><text x="852.0" y="1824.7" font-family='"Liberation Sans", sans-serif' font-size="11" fill="#555555" textLength="32.0" lengthAdjust="spacingAndGlyphs">0.170</text><line x1="847.5" y1="1843.9" x2="851" y2="1843.9" stroke="#aaa" stroke-width="1"/><text x="852.0" y="1848.2" font-family='"Liberation Sans", sans-serif' font-size="11" fill="#555555" textLength="32.0" lengthAdjust="spacingAndGlyphs">0.160</text><line x1="847.5" y1="1866.8" x2="851" y2="1866.8" stroke="#aaa" stroke-width="1"/><text x="852.0" y="1871.1" font-family='"Liberation Sans", sans-serif' font-size="11" fill="#555555" textLength="32.0" lengthAdjust="spacingAndGlyphs">0.150</text><line x1="847.5" y1="1889.7" x2="851" y2="1889.7" stroke="#aaa" stroke-width="1"/><text x="852.0" y="1894.0" font-family='"Liberation Sans", sans-serif' font-size="11" fill="#555555" textLength="32.0" lengthAdjust="spacingAndGlyphs">0.140</text><line x1="847.5" y1="1912.6" x2="851" y2="1912.6" stroke="#aaa" stroke-width="1"/><text x="852.0" y="1916.9" font-family='"Liberation Sans", sans-serif' font-size="11" fill="#555555" textLength="32.0" lengthAdjust="spacingAndGlyphs">0.130</text><line x1="847.5" y1="1935.5" x2="851" y2="1935.5" stroke="#aaa" stroke-width="1"/><text x="852.0" y="1939.8" font-family='"Liberation Sans", sans-serif' font-size="11" fill="#555555" textLength="32.0" lengthAdjust="spacingAndGlyphs">0.120</text>
<line x1="79" y1="1956.1" x2="847.5" y2="1956.1" stroke="#e6e6e6" stroke-width="1.3"/><line x1="79" y1="1979.0" x2="847.5" y2="1979.0" stroke="#e6e6e6" stroke-width="1.3"/><line x1="79" y1="2001.5" x2="847.5" y2="2001.5" stroke="#e6e6e6" stroke-width="1.3"/><line x1="79" y1="2023.9" x2="847.5" y2="2023.9" stroke="#e6e6e6" stroke-width="1.3"/><line x1="79" y1="2046.8" x2="847.5" y2="2046.8" stroke="#e6e6e6" stroke-width="1.3"/><line x1="79" y1="2069.7" x2="847.5" y2="2069.7" stroke="#e6e6e6" stroke-width="1.3"/><line x1="79" y1="2092.6" x2="847.5" y2="2092.6" stroke="#e6e6e6" stroke-width="1.3"/><line x1="79" y1="2116.0" x2="847.5" y2="2116.0" stroke="#e6e6e6" stroke-width="1.3"/>
<line x1="95.2" y1="1946" x2="95.2" y2="2125.5" stroke="#e6e6e6" stroke-width="1.3"/><line x1="126.0" y1="1946" x2="126.0" y2="2125.5" stroke="#e6e6e6" stroke-width="1.3"/><line x1="159.8" y1="1946" x2="159.8" y2="2125.5" stroke="#e6e6e6" stroke-width="1.3"/><line x1="193.6" y1="1946" x2="193.6" y2="2125.5" stroke="#e6e6e6" stroke-width="1.3"/><line x1="224.5" y1="1946" x2="224.5" y2="2125.5" stroke="#e6e6e6" stroke-width="1.3"/><line x1="256.9" y1="1946" x2="256.9" y2="2125.5" stroke="#e6e6e6" stroke-width="1.3"/><line x1="289.2" y1="1946" x2="289.2" y2="2125.5" stroke="#cfcfcf" stroke-width="1.3"/><line x1="320.0" y1="1946" x2="320.0" y2="2125.5" stroke="#e6e6e6" stroke-width="1.3"/><line x1="347.6" y1="1946" x2="347.6" y2="2125.5" stroke="#e6e6e6" stroke-width="1.3"/><line x1="382.4" y1="1946" x2="382.4" y2="2125.5" stroke="#e6e6e6" stroke-width="1.3"/><line x1="412.2" y1="1946" x2="412.2" y2="2125.5" stroke="#e6e6e6" stroke-width="1.3"/><line x1="446.0" y1="1946" x2="446.0" y2="2125.5" stroke="#e6e6e6" stroke-width="1.3"/><line x1="477.5" y1="1946" x2="477.5" y2="2125.5" stroke="#e6e6e6" stroke-width="1.3"/><line x1="507.8" y1="1946" x2="507.8" y2="2125.5" stroke="#e6e6e6" stroke-width="1.3"/><line x1="542.2" y1="1946" x2="542.2" y2="2125.5" stroke="#e6e6e6" stroke-width="1.3"/><line x1="573.0" y1="1946" x2="573.0" y2="2125.5" stroke="#e6e6e6" stroke-width="1.3"/><line x1="606.7" y1="1946" x2="606.7" y2="2125.5" stroke="#e6e6e6" stroke-width="1.3"/><line x1="637.6" y1="1946" x2="637.6" y2="2125.5" stroke="#e6e6e6" stroke-width="1.3"/><line x1="669.4" y1="1946" x2="669.4" y2="2125.5" stroke="#cfcfcf" stroke-width="1.3"/><line x1="701.0" y1="1946" x2="701.0" y2="2125.5" stroke="#e6e6e6" stroke-width="1.3"/><line x1="731.9" y1="1946" x2="731.9" y2="2125.5" stroke="#e6e6e6" stroke-width="1.3"/><line x1="762.8" y1="1946" x2="762.8" y2="2125.5" stroke="#e6e6e6" stroke-width="1.3"/><line x1="795.0" y1="1946" x2="795.0" y2="2125.5" stroke="#e6e6e6" stroke-width="1.3"/><line x1="828.9" y1="1946" x2="828.9" y2="2125.5" stroke="#e6e6e6" stroke-width="1.3"/>
<rect x="79" y="1946" width="768.5" height="179.5" fill="none" stroke="#c4c4c4" stroke-width="1.2"/>
<line x1="847.5" y1="1956.1" x2="851" y2="1956.1" stroke="#aaa" stroke-width="1"/><text x="852.0" y="1960.4" font-family='"Liberation Sans", sans-serif' font-size="11" fill="#555555" textLength="32.0" lengthAdjust="spacingAndGlyphs">0.105</text><line x1="847.5" y1="1979.0" x2="851" y2="1979.0" stroke="#aaa" stroke-width="1"/><text x="852.0" y="1983.3" font-family='"Liberation Sans", sans-serif' font-size="11" fill="#555555" textLength="32.0" lengthAdjust="spacingAndGlyphs">0.100</text><line x1="847.5" y1="2001.5" x2="851" y2="2001.5" stroke="#aaa" stroke-width="1"/><text x="852.0" y="2005.8" font-family='"Liberation Sans", sans-serif' font-size="11" fill="#555555" textLength="32.0" lengthAdjust="spacingAndGlyphs">0.095</text><line x1="847.5" y1="2023.9" x2="851" y2="2023.9" stroke="#aaa" stroke-width="1"/><text x="852.0" y="2028.2" font-family='"Liberation Sans", sans-serif' font-size="11" fill="#555555" textLength="32.0" lengthAdjust="spacingAndGlyphs">0.090</text><line x1="847.5" y1="2046.8" x2="851" y2="2046.8" stroke="#aaa" stroke-width="1"/><text x="852.0" y="2051.1" font-family='"Liberation Sans", sans-serif' font-size="11" fill="#555555" textLength="32.0" lengthAdjust="spacingAndGlyphs">0.085</text><line x1="847.5" y1="2069.7" x2="851" y2="2069.7" stroke="#aaa" stroke-width="1"/><text x="852.0" y="2074.0" font-family='"Liberation Sans", sans-serif' font-size="11" fill="#555555" textLength="32.0" lengthAdjust="spacingAndGlyphs">0.080</text><line x1="847.5" y1="2092.6" x2="851" y2="2092.6" stroke="#aaa" stroke-width="1"/><text x="852.0" y="2096.9" font-family='"Liberation Sans", sans-serif' font-size="11" fill="#555555" textLength="32.0" lengthAdjust="spacingAndGlyphs">0.075</text><line x1="847.5" y1="2116.0" x2="851" y2="2116.0" stroke="#aaa" stroke-width="1"/><text x="852.0" y="2120.3" font-family='"Liberation Sans", sans-serif' font-size="11" fill="#555555" textLength="32.0" lengthAdjust="spacingAndGlyphs">0.070</text>
<g stroke="#161616" stroke-width="1.15" fill="none"><path d="M79.7,1365.2V1372.9M78.7,1368.9H79.7M79.7,1366.9H80.7"/><path d="M81.2,1358.6V1368.2M80.2,1363.4H81.2M81.2,1360.9H82.2"/><path d="M82.8,1354.4V1359.1M81.8,1354.7H82.8M82.8,1358.1H83.8"/><path d="M84.3,1352.6V1358.0M83.3,1358.0H84.3M84.3,1356.6H85.3"/><path d="M85.9,1351.5V1358.8M84.9,1353.9H85.9M85.9,1355.1H86.9"/><path d="M87.4,1348.1V1355.6M86.4,1349.2H87.4M87.4,1354.2H88.4"/><path d="M89.0,1341.6V1349.2M88.0,1345.8H89.0M89.0,1344.2H90.0"/><path d="M90.5,1341.4V1350.1M89.5,1348.9H90.5M90.5,1343.4H91.5"/><path d="M92.1,1345.1V1354.6M91.1,1353.6H92.1M92.1,1352.3H93.1"/><path d="M93.6,1352.4V1361.9M92.6,1353.5H93.6M93.6,1356.9H94.6"/><path d="M95.2,1348.6V1357.7M94.2,1356.7H95.2M95.2,1352.3H96.2"/><path d="M96.7,1348.2V1356.0M95.7,1355.9H96.7M96.7,1351.2H97.7"/><path d="M98.3,1344.4V1351.1M97.3,1351.1H98.3M98.3,1347.7H99.3"/><path d="M99.8,1342.2V1350.3M98.8,1344.0H99.8M99.8,1347.1H100.8"/><path d="M101.4,1343.0V1351.8M100.4,1344.5H101.4M101.4,1346.0H102.4"/><path d="M102.9,1345.1V1355.1M101.9,1348.2H102.9M102.9,1346.1H103.9"/><path d="M104.5,1351.9V1359.3M103.5,1354.6H104.5M104.5,1356.9H105.5"/><path d="M106.0,1355.1V1364.3M105.0,1358.8H106.0M106.0,1364.2H107.0"/><path d="M107.6,1350.8V1360.9M106.6,1355.8H107.6M107.6,1354.6H108.6"/><path d="M109.1,1349.0V1356.9M108.1,1349.6H109.1M109.1,1355.4H110.1"/><path d="M110.7,1340.8V1350.3M109.7,1341.3H110.7M110.7,1343.3H111.7"/><path d="M112.2,1338.6V1345.0M111.2,1339.1H112.2M112.2,1340.8H113.2"/><path d="M113.8,1336.5V1344.8M112.8,1340.5H113.8M113.8,1338.6H114.8"/><path d="M115.3,1333.0V1341.4M114.3,1333.3H115.3M115.3,1334.8H116.3"/><path d="M116.9,1334.3V1339.9M115.9,1337.7H116.9M116.9,1336.7H117.9"/><path d="M118.4,1336.0V1340.7M117.4,1338.5H118.4M118.4,1337.3H119.4"/><path d="M120.0,1333.3V1338.6M119.0,1338.4H120.0M120.0,1333.4H121.0"/><path d="M121.5,1329.6V1338.6M120.5,1334.8H121.5M121.5,1331.9H122.5"/><path d="M123.1,1325.6V1334.0M122.1,1326.7H123.1M123.1,1326.4H124.1"/><path d="M124.6,1318.8V1326.3M123.6,1319.8H124.6M124.6,1325.3H125.6"/><path d="M126.2,1319.6V1324.5M125.2,1321.2H126.2M126.2,1322.0H127.2"/><path d="M127.7,1320.1V1323.8M126.7,1321.5H127.7M127.7,1322.7H128.7"/><path d="M129.3,1318.3V1323.0M128.3,1322.4H129.3M129.3,1321.9H130.3"/><path d="M130.8,1317.6V1323.0M129.8,1317.9H130.8M130.8,1321.7H131.8"/><path d="M132.4,1320.2V1323.8M131.4,1322.7H132.4M132.4,1321.3H133.4"/><path d="M133.9,1316.5V1322.5M132.9,1321.9H133.9M133.9,1318.3H134.9"/><path d="M135.5,1313.1V1320.5M134.5,1313.8H135.5M135.5,1317.5H136.5"/><path d="M137.0,1311.3V1318.7M136.0,1313.6H137.0M137.0,1316.5H138.0"/><path d="M138.6,1309.8V1317.3M137.6,1315.9H138.6M138.6,1317.1H139.6"/><path d="M140.2,1305.7V1312.7M139.2,1306.5H140.2M140.2,1306.3H141.2"/><path d="M141.7,1307.1V1311.1M140.7,1308.9H141.7M141.7,1309.6H142.7"/><path d="M143.3,1307.9V1311.8M142.3,1309.9H143.3M143.3,1309.4H144.3"/><path d="M144.8,1307.5V1312.5M143.8,1309.7H144.8M144.8,1308.7H145.8"/><path d="M146.4,1308.2V1317.5M145.4,1312.4H146.4M146.4,1310.4H147.4"/><path d="M147.9,1311.6V1319.9M146.9,1319.6H147.9M147.9,1312.3H148.9"/><path d="M149.5,1315.0V1323.6M148.5,1322.7H149.5M149.5,1321.7H150.5"/><path d="M151.0,1317.9V1323.8M150.0,1323.0H151.0M151.0,1322.0H152.0"/><path d="M152.6,1314.9V1320.9M151.6,1317.2H152.6M152.6,1318.6H153.6"/><path d="M154.1,1315.6V1322.1M153.1,1315.6H154.1M154.1,1317.6H155.1"/><path d="M155.7,1321.5V1329.7M154.7,1326.0H155.7M155.7,1322.2H156.7"/><path d="M157.2,1329.5V1337.6M156.2,1333.2H157.2M157.2,1330.4H158.2"/><path d="M158.8,1331.9V1341.9M157.8,1335.2H158.8M158.8,1338.3H159.8"/><path d="M160.3,1332.6V1341.9M159.3,1335.6H160.3M160.3,1335.0H161.3"/><path d="M161.9,1335.6V1345.4M160.9,1337.6H161.9M161.9,1341.5H162.9"/><path d="M163.4,1336.4V1344.4M162.4,1340.2H163.4M163.4,1339.9H164.4"/><path d="M165.0,1333.2V1342.3M164.0,1336.7H165.0M165.0,1335.7H166.0"/><path d="M166.5,1332.3V1340.1M165.5,1338.6H166.5M166.5,1339.6H167.5"/><path d="M168.1,1324.3V1333.6M167.1,1324.7H168.1M168.1,1330.0H169.1"/><path d="M169.6,1322.2V1331.5M168.6,1327.3H169.6M169.6,1323.1H170.6"/><path d="M171.2,1327.5V1335.6M170.2,1330.5H171.2M171.2,1328.6H172.2"/><path d="M172.7,1335.0V1342.9M171.7,1335.4H172.7M172.7,1336.5H173.7"/><path d="M174.3,1337.3V1344.0M173.3,1342.7H174.3M174.3,1342.9H175.3"/><path d="M175.8,1340.0V1348.2M174.8,1344.8H175.8M175.8,1340.6H176.8"/><path d="M177.4,1340.4V1348.6M176.4,1342.0H177.4M177.4,1340.9H178.4"/><path d="M178.9,1342.4V1350.3M177.9,1346.1H178.9M178.9,1348.7H179.9"/><path d="M180.5,1344.5V1351.0M179.5,1346.5H180.5M180.5,1348.6H181.5"/><path d="M182.0,1347.8V1357.6M181.0,1352.8H182.0M182.0,1354.5H183.0"/><path d="M183.6,1355.7V1363.5M182.6,1356.0H183.6M183.6,1359.5H184.6"/><path d="M185.1,1363.3V1370.6M184.1,1364.1H185.1M185.1,1370.1H186.1"/><path d="M186.7,1363.9V1370.8M185.7,1368.9H186.7M186.7,1367.5H187.7"/><path d="M188.2,1368.4V1373.9M187.2,1368.6H188.2M188.2,1370.3H189.2"/><path d="M189.8,1369.1V1376.0M188.8,1374.0H189.8M189.8,1372.5H190.8"/><path d="M191.3,1367.7V1375.4M190.3,1374.7H191.3M191.3,1372.9H192.3"/><path d="M192.9,1361.0V1368.8M191.9,1365.2H192.9M192.9,1368.1H193.9"/><path d="M194.4,1352.2V1362.3M193.4,1361.6H194.4M194.4,1360.2H195.4"/><path d="M196.0,1353.8V1360.4M195.0,1357.8H196.0M196.0,1358.8H197.0"/><path d="M197.5,1354.4V1363.0M196.5,1359.0H197.5M197.5,1362.0H198.5"/><path d="M199.1,1361.0V1368.3M198.1,1366.7H199.1M199.1,1366.4H200.1"/><path d="M200.6,1361.5V1371.3M199.6,1365.5H200.6M200.6,1363.2H201.6"/><path d="M202.2,1369.0V1377.8M201.2,1370.1H202.2M202.2,1369.2H203.2"/><path d="M203.7,1375.2V1383.7M202.7,1380.8H203.7M203.7,1377.0H204.7"/><path d="M205.3,1377.6V1385.1M204.3,1384.3H205.3M205.3,1381.5H206.3"/><path d="M206.8,1366.4V1373.9M205.8,1371.2H206.8M206.8,1372.2H207.8"/><path d="M208.4,1364.4V1368.9M207.4,1366.4H208.4M208.4,1366.1H209.4"/><path d="M209.9,1363.4V1367.1M208.9,1365.1H209.9M209.9,1363.6H210.9"/><path d="M211.5,1363.6V1368.3M210.5,1367.1H211.5M211.5,1367.1H212.5"/><path d="M213.0,1363.2V1368.3M212.0,1363.2H213.0M213.0,1366.6H214.0"/><path d="M214.6,1356.7V1365.6M213.6,1358.4H214.6M214.6,1358.7H215.6"/><path d="M216.1,1352.9V1362.3M215.1,1353.4H216.1M216.1,1356.4H217.1"/><path d="M217.7,1348.5V1355.2M216.7,1351.1H217.7M217.7,1352.7H218.7"/><path d="M219.2,1347.6V1353.7M218.2,1352.2H219.2M219.2,1349.9H220.2"/><path d="M220.8,1347.3V1352.3M219.8,1351.9H220.8M220.8,1348.3H221.8"/><path d="M222.3,1346.3V1353.1M221.3,1348.4H222.3M222.3,1350.6H223.3"/><path d="M223.9,1345.6V1350.3M222.9,1348.8H223.9M223.9,1347.0H224.9"/><path d="M225.4,1344.4V1352.3M224.4,1350.0H225.4M225.4,1346.1H226.4"/><path d="M227.0,1349.0V1358.3M226.0,1352.4H227.0M227.0,1350.8H228.0"/><path d="M228.5,1354.2V1361.8M227.5,1357.3H228.5M228.5,1355.1H229.5"/><path d="M230.1,1352.5V1362.3M229.1,1359.6H230.1M230.1,1358.4H231.1"/><path d="M231.6,1346.1V1354.6M230.6,1349.2H231.6M231.6,1351.5H232.6"/><path d="M233.2,1341.5V1350.6M232.2,1348.4H233.2M233.2,1347.3H234.2"/><path d="M234.7,1337.5V1346.1M233.7,1344.3H234.7M234.7,1337.7H235.7"/><path d="M236.3,1335.7V1340.3M235.3,1338.4H236.3M236.3,1338.4H237.3"/><path d="M237.8,1336.9V1339.8M236.8,1339.3H237.8M237.8,1337.9H238.8"/><path d="M239.4,1336.1V1339.8M238.4,1336.8H239.4M239.4,1336.7H240.4"/><path d="M240.9,1337.8V1342.4M239.9,1338.3H240.9M240.9,1340.3H241.9"/><path d="M242.5,1337.2V1340.2M241.5,1337.8H242.5M242.5,1339.3H243.5"/><path d="M244.0,1334.4V1340.2M243.0,1337.9H244.0M244.0,1335.0H245.0"/><path d="M245.6,1334.6V1339.4M244.6,1337.1H245.6M245.6,1337.8H246.6"/><path d="M247.1,1333.3V1337.5M246.1,1337.1H247.1M247.1,1334.8H248.1"/><path d="M248.7,1330.0V1336.5M247.7,1335.8H248.7M248.7,1335.0H249.7"/><path d="M250.2,1329.0V1334.9M249.2,1329.5H250.2M250.2,1334.7H251.2"/><path d="M251.8,1329.6V1336.1M250.8,1330.7H251.8M251.8,1331.8H252.8"/><path d="M253.3,1328.6V1334.7M252.3,1333.5H253.3M253.3,1328.9H254.3"/><path d="M254.9,1326.3V1331.3M253.9,1330.2H254.9M254.9,1330.0H255.9"/><path d="M256.4,1327.6V1333.7M255.4,1331.7H256.4M256.4,1330.3H257.4"/><path d="M258.0,1328.9V1335.3M257.0,1331.6H258.0M258.0,1333.3H259.0"/><path d="M259.5,1331.1V1338.7M258.5,1333.9H259.5M259.5,1332.6H260.5"/><path d="M261.1,1333.3V1340.4M260.1,1334.6H261.1M261.1,1339.8H262.1"/><path d="M262.6,1335.1V1342.6M261.6,1336.7H262.6M262.6,1341.6H263.6"/><path d="M264.2,1333.8V1341.1M263.2,1338.5H264.2M264.2,1337.1H265.2"/><path d="M265.7,1330.2V1338.6M264.7,1332.5H265.7M265.7,1335.2H266.7"/><path d="M267.3,1327.9V1336.6M266.3,1330.7H267.3M267.3,1335.6H268.3"/><path d="M268.8,1323.4V1332.1M267.8,1330.1H268.8M268.8,1329.3H269.8"/><path d="M270.4,1328.6V1338.7M269.4,1338.6H270.4M270.4,1331.9H271.4"/><path d="M271.9,1337.0V1345.4M270.9,1340.3H271.9M271.9,1342.2H272.9"/><path d="M273.5,1341.3V1349.3M272.5,1346.2H273.5M273.5,1347.2H274.5"/><path d="M275.0,1346.0V1352.2M274.0,1351.1H275.0M275.0,1352.1H276.0"/><path d="M276.6,1347.4V1352.8M275.6,1352.6H276.6M276.6,1350.9H277.6"/><path d="M278.1,1348.7V1353.8M277.1,1349.3H278.1M278.1,1350.7H279.1"/><path d="M279.7,1348.3V1352.6M278.7,1350.3H279.7M279.7,1351.6H280.7"/><path d="M281.2,1351.3V1355.4M280.2,1353.4H281.2M281.2,1352.5H282.2"/><path d="M282.8,1351.7V1356.0M281.8,1353.4H282.8M282.8,1354.8H283.8"/><path d="M284.3,1350.5V1353.7M283.3,1353.2H284.3M284.3,1353.7H285.3"/><path d="M285.9,1350.9V1354.6M284.9,1353.5H285.9M285.9,1354.0H286.9"/><path d="M287.4,1349.4V1352.7M286.4,1350.6H287.4M287.4,1351.5H288.4"/><path d="M289.0,1347.7V1353.1M288.0,1347.7H289.0M289.0,1349.5H290.0"/><path d="M290.5,1349.0V1352.4M289.5,1349.0H290.5M290.5,1351.7H291.5"/><path d="M292.1,1346.9V1354.2M291.1,1353.1H292.1M292.1,1353.1H293.1"/><path d="M293.6,1341.9V1350.5M292.6,1342.7H293.6M293.6,1349.8H294.6"/><path d="M295.2,1340.6V1348.3M294.2,1343.7H295.2M295.2,1346.7H296.2"/><path d="M296.7,1337.6V1346.9M295.7,1339.9H296.7M296.7,1340.6H297.7"/><path d="M298.3,1334.6V1342.2M297.3,1342.2H298.3M298.3,1335.2H299.3"/><path d="M299.8,1336.5V1341.6M298.8,1340.1H299.8M299.8,1340.5H300.8"/><path d="M301.4,1336.5V1339.3M300.4,1338.9H301.4M301.4,1339.0H302.4"/><path d="M302.9,1337.2V1339.7M301.9,1339.5H302.9M302.9,1337.6H303.9"/><path d="M304.5,1334.5V1338.4M303.5,1337.3H304.5M304.5,1334.6H305.5"/><path d="M306.0,1335.1V1338.2M305.0,1337.0H306.0M306.0,1335.3H307.0"/><path d="M307.6,1335.2V1343.3M306.6,1339.8H307.6M307.6,1338.1H308.6"/><path d="M309.1,1332.1V1339.2M308.1,1337.4H309.1M309.1,1333.5H310.1"/><path d="M310.7,1332.1V1338.2M309.7,1332.5H310.7M310.7,1337.7H311.7"/><path d="M312.2,1329.3V1334.9M311.2,1330.8H312.2M312.2,1331.3H313.2"/><path d="M313.8,1325.7V1332.5M312.8,1326.0H313.8M313.8,1326.2H314.8"/><path d="M315.3,1323.8V1331.1M314.3,1325.9H315.3M315.3,1329.9H316.3"/><path d="M316.9,1320.3V1329.0M315.9,1326.2H316.9M316.9,1323.0H317.9"/><path d="M318.4,1318.8V1327.3M317.4,1325.2H318.4M318.4,1324.2H319.4"/><path d="M320.0,1313.8V1323.3M319.0,1323.1H320.0M320.0,1318.8H321.0"/><path d="M321.5,1315.7V1322.5M320.5,1317.5H321.5M321.5,1320.8H322.5"/><path d="M323.1,1319.5V1324.8M322.1,1320.9H323.1M323.1,1324.1H324.1"/><path d="M324.6,1320.8V1326.8M323.6,1322.6H324.6M324.6,1326.6H325.6"/><path d="M326.2,1321.9V1325.2M325.2,1323.6H326.2M326.2,1323.8H327.2"/><path d="M327.7,1321.6V1327.2M326.7,1324.0H327.7M327.7,1324.0H328.7"/><path d="M329.3,1321.4V1326.1M328.3,1324.6H329.3M329.3,1323.4H330.3"/><path d="M330.8,1320.7V1323.5M329.8,1321.3H330.8M330.8,1322.6H331.8"/><path d="M332.4,1320.7V1326.4M331.4,1325.5H332.4M332.4,1323.5H333.4"/><path d="M333.9,1322.1V1330.3M332.9,1325.1H333.9M333.9,1325.2H334.9"/><path d="M335.5,1323.7V1331.1M334.5,1328.7H335.5M335.5,1330.8H336.5"/><path d="M337.0,1325.8V1331.8M336.0,1330.6H337.0M337.0,1327.1H338.0"/><path d="M338.6,1326.5V1334.2M337.6,1332.0H338.6M338.6,1331.7H339.6"/><path d="M340.1,1331.6V1337.2M339.1,1334.3H340.1M340.1,1336.4H341.1"/><path d="M341.7,1330.9V1338.1M340.7,1336.8H341.7M341.7,1334.2H342.7"/><path d="M343.2,1334.2V1337.8M342.2,1336.3H343.2M343.2,1336.5H344.2"/><path d="M344.8,1334.4V1339.2M343.8,1336.1H344.8M344.8,1337.6H345.8"/><path d="M346.3,1336.6V1340.7M345.3,1337.1H346.3M346.3,1338.0H347.3"/><path d="M347.9,1336.7V1340.6M346.9,1338.8H347.9M347.9,1339.8H348.9"/><path d="M349.4,1330.6V1339.1M348.4,1334.0H349.4M349.4,1337.0H350.4"/><path d="M351.0,1329.0V1339.0M350.0,1332.6H351.0M351.0,1334.0H352.0"/><path d="M352.5,1326.8V1333.2M351.5,1331.0H352.5M352.5,1332.0H353.5"/><path d="M354.1,1329.9V1337.6M353.1,1333.1H354.1M354.1,1334.9H355.1"/><path d="M355.6,1332.9V1338.6M354.6,1334.4H355.6M355.6,1335.6H356.6"/><path d="M357.2,1335.2V1343.3M356.2,1341.5H357.2M357.2,1342.6H358.2"/><path d="M358.7,1338.6V1348.2M357.7,1347.6H358.7M358.7,1347.2H359.7"/><path d="M360.3,1343.9V1351.7M359.3,1349.8H360.3M360.3,1346.1H361.3"/><path d="M361.8,1347.3V1354.6M360.8,1349.3H361.8M361.8,1352.2H362.8"/><path d="M363.4,1343.7V1352.4M362.4,1350.6H363.4M363.4,1352.1H364.4"/><path d="M364.9,1340.3V1347.3M363.9,1345.8H364.9M364.9,1341.3H365.9"/><path d="M366.5,1339.3V1348.1M365.5,1344.9H366.5M366.5,1344.0H367.5"/><path d="M368.0,1333.8V1343.9M367.0,1342.9H368.0M368.0,1341.4H369.0"/><path d="M369.6,1332.9V1340.6M368.6,1340.3H369.6M369.6,1340.3H370.6"/><path d="M371.1,1330.7V1338.5M370.1,1332.9H371.1M371.1,1332.3H372.1"/><path d="M372.7,1334.9V1341.8M371.7,1339.0H372.7M372.7,1339.0H373.7"/><path d="M374.2,1334.8V1343.4M373.2,1337.2H374.2M374.2,1335.6H375.2"/><path d="M375.8,1332.5V1341.4M374.8,1340.7H375.8M375.8,1338.6H376.8"/><path d="M377.3,1329.6V1339.3M376.3,1333.3H377.3M377.3,1332.9H378.3"/><path d="M378.9,1327.3V1335.6M377.9,1327.5H378.9M378.9,1331.8H379.9"/><path d="M380.4,1325.9V1333.5M379.4,1330.4H380.4M380.4,1328.3H381.4"/><path d="M382.0,1323.0V1327.7M381.0,1325.7H382.0M382.0,1324.3H383.0"/><path d="M383.5,1321.5V1326.0M382.5,1322.9H383.5M383.5,1324.8H384.5"/><path d="M385.1,1324.6V1327.6M384.1,1324.7H385.1M385.1,1325.4H386.1"/><path d="M386.6,1322.9V1328.1M385.6,1327.0H386.6M386.6,1328.0H387.6"/><path d="M388.2,1324.8V1328.2M387.2,1327.5H388.2M388.2,1326.0H389.2"/><path d="M389.7,1325.4V1329.5M388.7,1327.4H389.7M389.7,1328.0H390.7"/><path d="M391.3,1321.2V1328.1M390.3,1322.7H391.3M391.3,1322.3H392.3"/><path d="M392.8,1321.7V1327.5M391.8,1327.2H392.8M392.8,1322.7H393.8"/><path d="M394.4,1320.2V1326.2M393.4,1325.7H394.4M394.4,1321.1H395.4"/><path d="M395.9,1317.5V1322.7M394.9,1320.9H395.9M395.9,1318.7H396.9"/><path d="M397.5,1317.9V1324.8M396.5,1324.4H397.5M397.5,1323.8H398.5"/><path d="M399.0,1320.6V1325.7M398.0,1322.4H399.0M399.0,1322.8H400.0"/><path d="M400.6,1319.0V1325.9M399.6,1320.4H400.6M400.6,1324.7H401.6"/><path d="M402.1,1322.9V1327.6M401.1,1325.5H402.1M402.1,1327.0H403.1"/><path d="M403.7,1322.8V1327.7M402.7,1325.6H403.7M403.7,1324.8H404.7"/><path d="M405.2,1323.3V1329.4M404.2,1323.4H405.2M405.2,1327.0H406.2"/><path d="M406.8,1326.0V1331.9M405.8,1330.0H406.8M406.8,1328.7H407.8"/><path d="M408.3,1324.1V1331.0M407.3,1327.1H408.3M408.3,1328.6H409.3"/><path d="M409.9,1322.9V1328.7M408.9,1323.1H409.9M409.9,1325.7H410.9"/><path d="M411.4,1320.2V1328.4M410.4,1322.4H411.4M411.4,1327.9H412.4"/><path d="M413.0,1316.6V1323.8M412.0,1320.0H413.0M413.0,1321.4H414.0"/><path d="M414.5,1319.8V1326.3M413.5,1322.0H414.5M414.5,1320.9H415.5"/><path d="M416.1,1321.6V1330.1M415.1,1325.8H416.1M416.1,1328.6H417.1"/><path d="M417.6,1325.0V1331.6M416.6,1329.8H417.6M417.6,1328.3H418.6"/><path d="M419.2,1322.3V1329.2M418.2,1328.4H419.2M419.2,1327.9H420.2"/><path d="M420.7,1321.1V1328.5M419.7,1328.4H420.7M420.7,1324.6H421.7"/><path d="M422.3,1319.5V1324.6M421.3,1322.4H422.3M422.3,1323.7H423.3"/><path d="M423.8,1322.3V1326.0M422.8,1324.8H423.8M423.8,1325.3H424.8"/><path d="M425.4,1319.6V1323.6M424.4,1319.6H425.4M425.4,1320.8H426.4"/><path d="M426.9,1322.9V1325.4M425.9,1324.7H426.9M426.9,1323.1H427.9"/><path d="M428.5,1322.1V1325.0M427.5,1322.3H428.5M428.5,1323.9H429.5"/><path d="M430.0,1320.5V1327.0M429.0,1320.6H430.0M430.0,1321.0H431.0"/><path d="M431.6,1316.8V1324.7M430.6,1317.8H431.6M431.6,1322.2H432.6"/><path d="M433.1,1313.8V1321.7M432.1,1320.5H433.1M433.1,1321.6H434.1"/><path d="M434.7,1316.1V1323.4M433.7,1321.8H434.7M434.7,1318.4H435.7"/><path d="M436.2,1317.1V1324.5M435.2,1322.9H436.2M436.2,1317.8H437.2"/><path d="M437.8,1319.9V1326.0M436.8,1324.2H437.8M437.8,1321.5H438.8"/><path d="M439.3,1318.8V1325.8M438.3,1323.3H439.3M439.3,1321.9H440.3"/><path d="M440.9,1314.4V1322.6M439.9,1319.6H440.9M440.9,1318.2H441.9"/><path d="M442.4,1315.6V1321.2M441.4,1317.6H442.4M442.4,1319.6H443.4"/><path d="M444.0,1310.6V1318.4M443.0,1313.0H444.0M444.0,1314.3H445.0"/><path d="M445.5,1310.0V1318.6M444.5,1313.2H445.5M445.5,1317.3H446.5"/><path d="M447.1,1308.1V1314.9M446.1,1314.0H447.1M447.1,1313.0H448.1"/><path d="M448.6,1308.3V1313.0M447.6,1310.4H448.6M448.6,1308.8H449.6"/><path d="M450.2,1306.3V1310.1M449.2,1306.8H450.2M450.2,1309.8H451.2"/><path d="M451.7,1306.9V1311.4M450.7,1308.9H451.7M451.7,1309.4H452.7"/><path d="M453.3,1308.6V1311.7M452.3,1310.0H453.3M453.3,1309.5H454.3"/><path d="M454.8,1305.5V1309.3M453.8,1305.8H454.8M454.8,1306.9H455.8"/><path d="M456.4,1301.9V1310.4M455.4,1306.0H456.4M456.4,1302.5H457.4"/><path d="M457.9,1298.8V1306.3M456.9,1302.1H457.9M457.9,1301.9H458.9"/><path d="M459.5,1295.4V1304.0M458.5,1297.1H459.5M459.5,1300.7H460.5"/><path d="M461.0,1296.0V1301.4M460.0,1300.3H461.0M461.0,1301.3H462.0"/><path d="M462.6,1298.8V1303.3M461.6,1300.4H462.6M462.6,1300.8H463.6"/><path d="M464.1,1298.3V1304.8M463.1,1300.3H464.1M464.1,1299.1H465.1"/><path d="M465.7,1299.7V1304.1M464.7,1300.0H465.7M465.7,1299.7H466.7"/><path d="M467.2,1299.3V1306.1M466.2,1302.4H467.2M467.2,1300.0H468.2"/><path d="M468.8,1300.4V1306.6M467.8,1306.1H468.8M468.8,1301.1H469.8"/><path d="M470.3,1303.1V1307.5M469.3,1305.0H470.3M470.3,1304.6H471.3"/><path d="M471.9,1303.5V1309.1M470.9,1308.6H471.9M471.9,1309.0H472.9"/><path d="M473.4,1296.7V1304.3M472.4,1298.6H473.4M473.4,1300.6H474.4"/><path d="M475.0,1296.4V1305.0M474.0,1297.6H475.0M475.0,1298.2H476.0"/><path d="M476.5,1295.6V1301.5M475.5,1301.3H476.5M476.5,1297.8H477.5"/><path d="M478.1,1294.9V1300.3M477.1,1297.6H478.1M478.1,1295.1H479.1"/><path d="M479.6,1297.1V1302.0M478.6,1301.1H479.6M479.6,1299.3H480.6"/><path d="M481.2,1296.7V1301.0M480.2,1298.8H481.2M481.2,1300.8H482.2"/><path d="M482.7,1298.3V1303.2M481.7,1300.1H482.7M482.7,1301.2H483.7"/><path d="M484.3,1293.2V1299.7M483.3,1294.0H484.3M484.3,1297.4H485.3"/><path d="M485.8,1292.0V1300.3M484.8,1294.8H485.8M485.8,1296.5H486.8"/><path d="M487.4,1289.7V1298.0M486.4,1297.1H487.4M487.4,1292.0H488.4"/><path d="M488.9,1291.1V1296.8M487.9,1291.2H488.9M488.9,1295.4H489.9"/><path d="M490.5,1289.2V1295.6M489.5,1289.8H490.5M490.5,1292.6H491.5"/><path d="M492.0,1288.7V1292.7M491.0,1290.8H492.0M492.0,1290.6H493.0"/><path d="M493.6,1287.2V1291.8M492.6,1287.3H493.6M493.6,1287.8H494.6"/><path d="M495.1,1284.0V1290.6M494.1,1287.0H495.1M495.1,1287.9H496.1"/><path d="M496.7,1287.5V1291.5M495.7,1289.1H496.7M496.7,1289.2H497.7"/><path d="M498.2,1283.4V1289.2M497.2,1287.0H498.2M498.2,1286.7H499.2"/><path d="M499.8,1285.6V1290.3M498.8,1286.8H499.8M499.8,1287.3H500.8"/><path d="M501.3,1283.5V1287.2M500.3,1285.1H501.3M501.3,1286.3H502.3"/><path d="M502.9,1285.7V1289.9M501.9,1287.8H502.9M502.9,1287.5H503.9"/><path d="M504.4,1281.3V1288.4M503.4,1284.5H504.4M504.4,1285.7H505.4"/><path d="M506.0,1284.5V1289.9M505.0,1285.0H506.0M506.0,1289.7H507.0"/><path d="M507.5,1285.8V1293.4M506.5,1289.6H507.5M507.5,1293.1H508.5"/><path d="M509.1,1288.8V1293.5M508.1,1289.3H509.1M509.1,1291.6H510.1"/><path d="M510.6,1288.8V1291.9M509.6,1289.7H510.6M510.6,1290.8H511.6"/><path d="M512.2,1288.6V1292.8M511.2,1288.6H512.2M512.2,1292.0H513.2"/><path d="M513.7,1291.5V1295.1M512.7,1293.1H513.7M513.7,1292.3H514.7"/><path d="M515.3,1290.4V1295.7M514.3,1293.5H515.3M515.3,1295.3H516.3"/><path d="M516.8,1290.8V1296.1M515.8,1294.0H516.8M516.8,1292.6H517.8"/><path d="M518.4,1290.3V1296.8M517.4,1296.1H518.4M518.4,1295.2H519.4"/><path d="M519.9,1292.6V1297.3M518.9,1294.2H519.9M519.9,1293.3H520.9"/><path d="M521.5,1295.0V1300.0M520.5,1299.6H521.5M521.5,1299.6H522.5"/><path d="M523.0,1293.3V1301.0M522.0,1296.8H523.0M523.0,1298.1H524.0"/><path d="M524.6,1294.7V1302.8M523.6,1301.4H524.6M524.6,1294.9H525.6"/><path d="M526.1,1295.8V1303.8M525.1,1299.6H526.1M526.1,1300.6H527.1"/><path d="M527.7,1300.6V1308.4M526.7,1304.2H527.7M527.7,1306.8H528.7"/><path d="M529.2,1299.2V1304.6M528.2,1304.0H529.2M529.2,1303.7H530.2"/><path d="M530.8,1298.5V1304.2M529.8,1303.2H530.8M530.8,1298.7H531.8"/><path d="M532.3,1295.8V1301.0M531.3,1301.0H532.3M532.3,1296.2H533.3"/><path d="M533.9,1294.6V1300.1M532.9,1296.6H533.9M533.9,1295.6H534.9"/><path d="M535.4,1295.0V1301.7M534.4,1295.4H535.4M535.4,1297.7H536.4"/><path d="M537.0,1290.7V1298.1M536.0,1295.5H537.0M537.0,1296.3H538.0"/><path d="M538.5,1289.2V1295.2M537.5,1289.8H538.5M538.5,1289.7H539.5"/><path d="M540.1,1291.4V1296.2M539.1,1293.7H540.1M540.1,1295.4H541.1"/><path d="M541.6,1287.3V1292.6M540.6,1290.3H541.6M541.6,1288.3H542.6"/><path d="M543.2,1289.2V1294.0M542.2,1293.8H543.2M543.2,1289.3H544.2"/><path d="M544.7,1289.6V1293.0M543.7,1292.9H544.7M544.7,1290.6H545.7"/><path d="M546.3,1290.4V1295.2M545.3,1294.1H546.3M546.3,1291.1H547.3"/><path d="M547.8,1290.7V1295.2M546.8,1291.5H547.8M547.8,1294.6H548.8"/><path d="M549.4,1292.4V1296.0M548.4,1295.4H549.4M549.4,1292.8H550.4"/><path d="M550.9,1292.0V1296.6M549.9,1293.9H550.9M550.9,1296.6H551.9"/><path d="M552.5,1291.9V1297.4M551.5,1292.3H552.5M552.5,1295.2H553.5"/><path d="M554.0,1290.7V1293.8M553.0,1293.6H554.0M554.0,1291.6H555.0"/><path d="M555.6,1292.3V1297.3M554.6,1292.7H555.6M555.6,1292.9H556.6"/><path d="M557.1,1293.1V1298.6M556.1,1294.1H557.1M557.1,1297.0H558.1"/><path d="M558.7,1291.9V1299.3M557.7,1296.2H558.7M558.7,1294.6H559.7"/><path d="M560.2,1292.7V1302.4M559.2,1300.3H560.2M560.2,1296.3H561.2"/><path d="M561.8,1299.2V1308.1M560.8,1307.5H561.8M561.8,1303.1H562.8"/><path d="M563.3,1304.1V1310.3M562.3,1305.7H563.3M563.3,1304.2H564.3"/><path d="M564.9,1302.4V1309.3M563.9,1307.4H564.9M564.9,1309.3H565.9"/><path d="M566.4,1305.4V1310.6M565.4,1307.7H566.4M566.4,1306.3H567.4"/><path d="M568.0,1307.7V1314.4M567.0,1310.2H568.0M568.0,1308.6H569.0"/><path d="M569.5,1310.2V1314.7M568.5,1314.4H569.5M569.5,1311.8H570.5"/><path d="M571.1,1310.0V1314.7M570.1,1314.0H571.1M571.1,1312.0H572.1"/><path d="M572.6,1309.1V1313.8M571.6,1312.9H572.6M572.6,1310.0H573.6"/><path d="M574.2,1309.9V1314.1M573.2,1311.9H574.2M574.2,1314.1H575.2"/><path d="M575.7,1312.8V1318.1M574.7,1315.2H575.7M575.7,1316.6H576.7"/><path d="M577.3,1308.9V1315.1M576.3,1309.1H577.3M577.3,1310.2H578.3"/><path d="M578.8,1304.2V1312.5M577.8,1307.7H578.8M578.8,1307.4H579.8"/><path d="M580.4,1302.0V1310.6M579.4,1309.0H580.4M580.4,1306.8H581.4"/><path d="M581.9,1302.7V1306.3M580.9,1303.7H581.9M581.9,1304.8H582.9"/><path d="M583.5,1303.3V1307.2M582.5,1306.7H583.5M583.5,1305.6H584.5"/><path d="M585.0,1303.1V1306.7M584.0,1306.5H585.0M585.0,1304.9H586.0"/><path d="M586.6,1301.0V1305.3M585.6,1304.0H586.6M586.6,1303.7H587.6"/><path d="M588.1,1300.3V1306.1M587.1,1305.3H588.1M588.1,1304.4H589.1"/><path d="M589.7,1300.7V1307.1M588.7,1304.4H589.7M589.7,1301.5H590.7"/><path d="M591.2,1303.7V1312.3M590.2,1309.7H591.2M591.2,1311.1H592.2"/><path d="M592.8,1306.6V1314.2M591.8,1306.7H592.8M592.8,1311.6H593.8"/><path d="M594.3,1308.0V1316.6M593.3,1316.1H594.3M594.3,1314.9H595.3"/><path d="M595.9,1309.3V1316.9M594.9,1309.7H595.9M595.9,1316.4H596.9"/><path d="M597.4,1312.8V1321.4M596.4,1316.7H597.4M597.4,1317.7H598.4"/><path d="M599.0,1314.8V1321.1M598.0,1315.2H599.0M599.0,1316.8H600.0"/><path d="M600.5,1316.9V1324.7M599.5,1317.6H600.5M600.5,1320.5H601.5"/><path d="M602.1,1318.1V1327.9M601.1,1325.1H602.1M602.1,1325.9H603.1"/><path d="M603.6,1315.0V1324.6M602.6,1316.6H603.6M603.6,1317.7H604.6"/><path d="M605.1,1310.5V1318.7M604.1,1312.9H605.1M605.1,1311.9H606.1"/><path d="M606.7,1306.1V1315.5M605.7,1307.4H606.7M606.7,1312.6H607.7"/><path d="M608.2,1302.7V1308.1M607.2,1307.4H608.2M608.2,1305.3H609.2"/><path d="M609.8,1301.0V1306.2M608.8,1303.9H609.8M609.8,1302.0H610.8"/><path d="M611.3,1303.0V1307.9M610.3,1304.5H611.3M611.3,1306.5H612.3"/><path d="M612.9,1302.5V1308.5M611.9,1305.4H612.9M612.9,1304.7H613.9"/><path d="M614.4,1301.9V1305.4M613.4,1303.5H614.4M614.4,1304.8H615.4"/><path d="M616.0,1302.2V1306.9M615.0,1303.1H616.0M616.0,1302.5H617.0"/><path d="M617.5,1295.3V1304.6M616.5,1301.2H617.5M617.5,1304.5H618.5"/><path d="M619.1,1291.8V1301.2M618.1,1296.7H619.1M619.1,1293.8H620.1"/><path d="M620.6,1287.0V1296.5M619.6,1290.6H620.6M620.6,1294.0H621.6"/><path d="M622.2,1288.6V1293.5M621.2,1289.4H622.2M622.2,1291.5H623.2"/><path d="M623.7,1288.1V1292.6M622.7,1290.7H623.7M623.7,1292.0H624.7"/><path d="M625.3,1287.2V1293.0M624.3,1290.1H625.3M625.3,1288.7H626.3"/><path d="M626.8,1288.3V1291.9M625.8,1288.4H626.8M626.8,1289.7H627.8"/><path d="M628.4,1285.9V1289.9M627.4,1288.4H628.4M628.4,1289.2H629.4"/><path d="M629.9,1286.3V1291.7M628.9,1289.7H629.9M629.9,1287.7H630.9"/><path d="M631.5,1285.9V1289.5M630.5,1286.3H631.5M631.5,1289.4H632.5"/><path d="M633.0,1287.2V1290.4M632.0,1289.6H633.0M633.0,1287.6H634.0"/><path d="M634.6,1283.7V1288.6M633.6,1285.9H634.6M634.6,1288.1H635.6"/><path d="M636.1,1283.5V1286.7M635.1,1285.2H636.1M636.1,1285.6H637.1"/><path d="M637.7,1284.1V1287.2M636.7,1285.9H637.7M637.7,1285.1H638.7"/><path d="M639.2,1282.8V1285.5M638.2,1283.6H639.2M639.2,1283.0H640.2"/><path d="M640.8,1282.8V1286.3M639.8,1282.9H640.8M640.8,1284.7H641.8"/><path d="M642.3,1282.8V1287.5M641.3,1283.9H642.3M642.3,1284.6H643.3"/><path d="M643.9,1281.4V1286.3M642.9,1282.3H643.9M643.9,1283.7H644.9"/><path d="M645.4,1282.5V1287.9M644.4,1284.5H645.4M645.4,1284.1H646.4"/><path d="M647.0,1277.3V1286.1M646.0,1283.4H647.0M647.0,1284.6H648.0"/><path d="M648.5,1274.9V1283.1M647.5,1278.5H648.5M648.5,1275.4H649.5"/><path d="M650.1,1273.1V1281.0M649.1,1275.2H650.1M650.1,1280.6H651.1"/><path d="M651.6,1270.0V1278.5M650.6,1273.3H651.6M651.6,1274.8H652.6"/><path d="M653.2,1273.1V1276.8M652.2,1274.7H653.2M653.2,1275.1H654.2"/><path d="M654.7,1272.2V1276.2M653.7,1275.9H654.7M654.7,1272.6H655.7"/><path d="M656.3,1270.0V1275.6M655.3,1272.3H656.3M656.3,1273.6H657.3"/><path d="M657.8,1271.2V1274.5M656.8,1273.8H657.8M657.8,1273.9H658.8"/><path d="M659.4,1270.3V1273.7M658.4,1271.5H659.4M659.4,1273.3H660.4"/><path d="M660.9,1268.1V1274.0M659.9,1271.7H660.9M660.9,1273.9H661.9"/><path d="M662.5,1269.0V1273.7M661.5,1269.7H662.5M662.5,1271.2H663.5"/><path d="M664.0,1271.8V1275.3M663.0,1272.0H664.0M664.0,1274.4H665.0"/><path d="M665.6,1271.8V1276.5M664.6,1273.6H665.6M665.6,1272.1H666.6"/><path d="M667.1,1272.0V1277.8M666.1,1272.5H667.1M667.1,1275.7H668.1"/><path d="M668.7,1271.9V1278.0M667.7,1278.0H668.7M668.7,1272.7H669.7"/><path d="M670.2,1273.7V1277.5M669.2,1275.5H670.2M670.2,1276.8H671.2"/><path d="M671.8,1274.3V1279.3M670.8,1278.4H671.8M671.8,1274.7H672.8"/><path d="M673.3,1270.6V1275.2M672.3,1270.7H673.3M673.3,1273.8H674.3"/><path d="M674.9,1271.7V1277.2M673.9,1276.3H674.9M674.9,1275.8H675.9"/><path d="M676.4,1269.9V1275.3M675.4,1273.1H676.4M676.4,1272.2H677.4"/><path d="M678.0,1268.3V1273.0M677.0,1270.4H678.0M678.0,1272.9H679.0"/><path d="M679.5,1270.1V1273.3M678.5,1270.4H679.5M679.5,1271.9H680.5"/><path d="M681.1,1269.2V1272.5M680.1,1271.7H681.1M681.1,1272.2H682.1"/><path d="M682.6,1270.6V1273.5M681.6,1271.0H682.6M682.6,1270.8H683.6"/><path d="M684.2,1268.3V1272.4M683.2,1270.4H684.2M684.2,1269.2H685.2"/><path d="M685.7,1265.9V1274.3M684.7,1271.1H685.7M685.7,1266.5H686.7"/><path d="M687.3,1264.5V1273.3M686.3,1264.9H687.3M687.3,1270.5H688.3"/><path d="M688.8,1261.7V1269.3M687.8,1262.1H688.8M688.8,1266.5H689.8"/><path d="M690.4,1261.1V1268.1M689.4,1265.5H690.4M690.4,1265.0H691.4"/><path d="M691.9,1259.0V1262.0M690.9,1260.1H691.9M691.9,1259.4H692.9"/><path d="M693.5,1258.6V1261.8M692.5,1259.0H693.5M693.5,1261.0H694.5"/><path d="M695.0,1259.9V1263.1M694.0,1262.7H695.0M695.0,1261.1H696.0"/><path d="M696.6,1256.9V1262.8M695.6,1261.8H696.6M696.6,1257.8H697.6"/><path d="M698.1,1259.0V1262.1M697.1,1259.7H698.1M698.1,1260.6H699.1"/><path d="M699.7,1257.2V1260.6M698.7,1257.5H699.7M699.7,1260.0H700.7"/><path d="M701.2,1256.2V1263.0M700.2,1262.4H701.2M701.2,1259.9H702.2"/><path d="M702.8,1253.3V1259.2M701.8,1254.6H702.8M702.8,1257.2H703.8"/><path d="M704.3,1253.3V1260.4M703.3,1259.2H704.3M704.3,1253.8H705.3"/><path d="M705.9,1249.6V1256.3M704.9,1254.6H705.9M705.9,1256.2H706.9"/><path d="M707.4,1251.3V1257.1M706.4,1255.7H707.4M707.4,1254.4H708.4"/><path d="M709.0,1249.9V1255.6M708.0,1251.5H709.0M709.0,1251.4H710.0"/><path d="M710.5,1249.0V1255.1M709.5,1252.3H710.5M710.5,1250.8H711.5"/><path d="M712.1,1250.1V1254.5M711.1,1253.6H712.1M712.1,1253.4H713.1"/><path d="M713.6,1252.1V1257.9M712.6,1256.6H713.6M713.6,1256.1H714.6"/><path d="M715.2,1251.0V1255.9M714.2,1253.8H715.2M715.2,1255.6H716.2"/><path d="M716.7,1252.6V1255.9M715.7,1255.0H716.7M716.7,1254.1H717.7"/><path d="M718.3,1250.1V1257.0M717.3,1252.2H718.3M718.3,1253.5H719.3"/><path d="M719.8,1246.8V1254.6M718.8,1250.9H719.8M719.8,1252.0H720.8"/><path d="M721.4,1246.3V1254.1M720.4,1253.4H721.4M721.4,1252.3H722.4"/><path d="M722.9,1243.1V1250.6M721.9,1245.2H722.9M722.9,1245.2H723.9"/><path d="M724.5,1244.6V1248.6M723.5,1246.7H724.5M724.5,1248.3H725.5"/><path d="M726.0,1243.4V1248.5M725.0,1245.3H726.0M726.0,1243.8H727.0"/><path d="M727.6,1243.4V1248.4M726.6,1246.4H727.6M727.6,1248.3H728.6"/><path d="M729.1,1244.0V1247.4M728.1,1246.4H729.1M729.1,1247.1H730.1"/><path d="M730.7,1245.3V1247.9M729.7,1246.1H730.7M730.7,1246.2H731.7"/><path d="M732.2,1244.0V1248.9M731.2,1246.7H732.2M732.2,1247.2H733.2"/><path d="M733.8,1243.5V1246.0M732.8,1243.6H733.8M733.8,1244.3H734.8"/><path d="M735.3,1242.0V1245.8M734.3,1243.4H735.3M735.3,1244.5H736.3"/><path d="M736.9,1240.6V1246.2M735.9,1244.6H736.9M736.9,1241.2H737.9"/><path d="M738.4,1243.3V1247.0M737.4,1245.6H738.4M738.4,1245.4H739.4"/><path d="M740.0,1241.0V1246.4M739.0,1241.7H740.0M740.0,1244.9H741.0"/><path d="M741.5,1239.8V1245.5M740.5,1240.3H741.5M741.5,1242.5H742.5"/><path d="M743.1,1238.6V1244.9M742.1,1240.5H743.1M743.1,1241.0H744.1"/><path d="M744.6,1239.3V1244.0M743.6,1241.6H744.6M744.6,1243.7H745.6"/><path d="M746.2,1237.3V1241.7M745.2,1240.4H746.2M746.2,1240.8H747.2"/><path d="M747.7,1238.5V1244.6M746.7,1238.5H747.7M747.7,1243.0H748.7"/><path d="M749.3,1235.4V1241.1M748.3,1240.0H749.3M749.3,1238.6H750.3"/><path d="M750.8,1235.5V1241.0M749.8,1237.1H750.8M750.8,1239.5H751.8"/><path d="M752.4,1234.5V1239.7M751.4,1239.4H752.4M752.4,1235.1H753.4"/><path d="M753.9,1235.3V1239.3M752.9,1237.6H753.9M753.9,1237.3H754.9"/><path d="M755.5,1234.4V1239.0M754.5,1237.2H755.5M755.5,1238.7H756.5"/><path d="M757.0,1233.5V1238.7M756.0,1235.0H757.0M757.0,1238.3H758.0"/><path d="M758.6,1235.5V1238.1M757.6,1237.9H758.6M758.6,1236.9H759.6"/><path d="M760.1,1235.0V1239.2M759.1,1236.6H760.1M760.1,1237.7H761.1"/><path d="M761.7,1234.6V1238.0M760.7,1235.2H761.7M761.7,1236.0H762.7"/><path d="M763.2,1236.8V1239.8M762.2,1238.0H763.2M763.2,1237.3H764.2"/><path d="M764.8,1236.8V1240.7M763.8,1239.5H764.8M764.8,1238.3H765.8"/><path d="M766.3,1235.6V1241.6M765.3,1241.0H766.3M766.3,1239.6H767.3"/><path d="M767.9,1236.1V1239.7M766.9,1238.9H767.9M767.9,1237.7H768.9"/><path d="M769.4,1236.2V1241.2M768.4,1238.3H769.4M769.4,1238.0H770.4"/><path d="M771.0,1238.7V1242.7M770.0,1240.8H771.0M771.0,1241.1H772.0"/><path d="M772.5,1239.3V1244.5M771.5,1239.4H772.5M772.5,1244.3H773.5"/><path d="M774.1,1237.2V1244.2M773.1,1242.5H774.1M774.1,1239.7H775.1"/><path d="M775.6,1239.0V1246.3M774.6,1243.9H775.6M775.6,1244.9H776.6"/><path d="M777.2,1244.3V1251.3M776.2,1244.4H777.2M777.2,1245.0H778.2"/><path d="M778.7,1244.7V1251.2M777.7,1245.3H778.7M778.7,1248.9H779.7"/><path d="M780.3,1247.9V1256.1M779.3,1252.0H780.3M780.3,1252.2H781.3"/><path d="M781.8,1249.7V1257.0M780.8,1249.8H781.8M781.8,1252.0H782.8"/><path d="M783.4,1251.2V1254.9M782.4,1253.3H783.4M783.4,1253.8H784.4"/><path d="M784.9,1251.0V1256.4M783.9,1254.1H784.9M784.9,1252.8H785.9"/><path d="M786.5,1247.3V1252.4M785.5,1249.0H786.5M786.5,1248.7H787.5"/><path d="M788.0,1245.9V1252.2M787.0,1251.7H788.0M788.0,1250.1H789.0"/><path d="M789.6,1246.4V1249.7M788.6,1249.1H789.6M789.6,1249.6H790.6"/><path d="M791.1,1248.0V1253.5M790.1,1252.3H791.1M791.1,1250.4H792.1"/><path d="M792.7,1246.7V1251.0M791.7,1248.9H792.7M792.7,1249.5H793.7"/><path d="M794.2,1250.1V1253.6M793.2,1253.2H794.2M794.2,1253.4H795.2"/><path d="M795.8,1249.9V1252.9M794.8,1251.2H795.8M795.8,1251.2H796.8"/><path d="M797.3,1245.9V1254.1M796.3,1249.8H797.3M797.3,1249.7H798.3"/><path d="M798.9,1242.6V1249.6M797.9,1247.0H798.9M798.9,1246.8H799.9"/><path d="M800.4,1240.8V1248.6M799.4,1244.8H800.4M800.4,1246.0H801.4"/><path d="M802.0,1235.7V1244.6M801.0,1238.3H802.0M802.0,1242.5H803.0"/><path d="M803.5,1237.8V1243.4M802.5,1240.8H803.5M803.5,1241.0H804.5"/><path d="M805.1,1234.5V1241.0M804.1,1237.5H805.1M805.1,1236.4H806.1"/><path d="M806.6,1232.7V1238.9M805.6,1238.7H806.6M806.6,1235.0H807.6"/><path d="M808.2,1230.7V1237.7M807.2,1235.6H808.2M808.2,1233.8H809.2"/><path d="M809.7,1228.2V1235.3M808.7,1232.4H809.7M809.7,1229.7H810.7"/><path d="M811.3,1229.3V1234.0M810.3,1230.0H811.3M811.3,1229.5H812.3"/><path d="M812.8,1231.2V1234.9M811.8,1232.2H812.8M812.8,1232.4H813.8"/><path d="M814.4,1231.0V1234.2M813.4,1231.4H814.4M814.4,1233.1H815.4"/><path d="M815.9,1227.5V1232.8M814.9,1227.6H815.9M815.9,1229.1H816.9"/><path d="M817.5,1229.8V1232.8M816.5,1232.0H817.5M817.5,1230.9H818.5"/><path d="M819.0,1229.0V1233.5M818.0,1232.3H819.0M819.0,1232.3H820.0"/><path d="M820.6,1229.2V1234.3M819.6,1234.1H820.6M820.6,1232.0H821.6"/><path d="M822.1,1230.1V1236.2M821.1,1232.1H822.1M822.1,1233.1H823.1"/><path d="M823.7,1232.3V1237.4M822.7,1232.7H823.7M823.7,1236.7H824.7"/><path d="M825.2,1235.2V1240.5M824.2,1237.1H825.2M825.2,1239.9H826.2"/><path d="M826.8,1234.9V1240.4M825.8,1237.0H826.8M826.8,1236.0H827.8"/><path d="M828.3,1235.2V1240.6M827.3,1239.5H828.3M828.3,1240.5H829.3"/><path d="M829.9,1231.8V1239.8M828.9,1236.5H829.9M829.9,1235.7H830.9"/><path d="M831.4,1228.9V1234.5M830.4,1231.0H831.4M831.4,1233.8H832.4"/><path d="M833.0,1228.4V1236.7M832.0,1235.5H833.0M833.0,1231.6H834.0"/><path d="M834.5,1226.1V1233.1M833.5,1230.8H834.5M834.5,1226.5H835.5"/><path d="M836.1,1223.9V1231.6M835.1,1228.9H836.1M836.1,1227.9H837.1"/><path d="M837.6,1221.7V1228.7M836.6,1223.0H837.6M837.6,1224.6H838.6"/></g>
<polyline points="79.1,1459.5 80.8,1454.5 82.5,1451.0 83.9,1447.8 85.3,1444.1 86.7,1439.8 88.1,1442.9 89.5,1444.0 90.9,1439.6 92.3,1436.2 93.8,1432.4 95.2,1430.0 97.1,1431.0 98.9,1434.4 100.8,1435.6 102.2,1432.4 103.6,1431.4 105.0,1432.5 106.4,1432.6 107.8,1433.9 109.2,1435.6 110.6,1442.0 112.0,1449.7 113.4,1455.3 115.3,1450.5 117.1,1443.5 119.0,1439.8 120.4,1443.8 121.9,1448.1 123.3,1453.9 124.7,1458.7 126.1,1462.3 127.5,1465.1 129.3,1467.0 131.2,1468.0 133.0,1468.0 134.4,1470.8 135.8,1473.5 137.3,1475.2 138.7,1476.4 140.5,1477.1 142.2,1480.2 144.0,1480.6 145.8,1482.0 147.2,1477.2 148.6,1470.8 150.0,1473.3 151.4,1475.3 152.8,1477.8 154.5,1474.9 156.2,1472.5 157.8,1469.6 159.5,1466.5 161.2,1465.1 162.6,1465.0 164.1,1463.9 165.5,1463.5 166.9,1461.0 168.3,1462.5 169.6,1463.0 171.0,1463.7 172.4,1460.2 173.9,1454.1 175.3,1451.0 176.7,1452.6 178.2,1453.0 179.6,1453.3 181.0,1455.3 182.3,1448.1 183.7,1442.6 185.5,1440.6 187.2,1437.7 189.0,1436.2 190.8,1434.2 192.2,1435.9 193.6,1436.7 195.0,1438.4 196.9,1433.6 198.7,1430.9 200.6,1427.2 202.5,1424.5 204.3,1422.7 206.2,1421.6 207.6,1424.0 209.0,1427.7 210.4,1431.4 212.3,1430.6 214.1,1432.8 216.0,1432.8 217.4,1431.4 218.9,1426.9 220.3,1424.4 221.7,1422.6 223.2,1420.7 224.6,1415.6 226.0,1414.5 227.8,1413.1 229.5,1414.7 231.2,1414.5 233.0,1413.1 234.4,1422.4 235.8,1429.9 237.2,1439.8 238.9,1437.6 240.6,1437.0 242.2,1435.1 243.9,1432.9 245.6,1430.0 247.3,1428.3 249.0,1429.4 250.6,1427.1 252.3,1427.3 254.0,1425.8 255.4,1422.6 256.9,1421.6 258.6,1420.2 260.4,1416.3 262.1,1413.8 263.9,1410.3 265.3,1410.9 266.7,1413.5 268.1,1414.8 269.5,1416.0 270.9,1413.9 272.3,1410.8 273.7,1408.9 275.4,1408.4 277.0,1406.1 278.6,1404.8 280.3,1403.2 282.0,1403.6 283.6,1401.9 285.4,1402.1 287.1,1403.9 288.9,1404.8 290.6,1407.5 292.5,1413.6 294.3,1418.9 296.2,1424.4 297.9,1425.6 299.6,1425.3 301.3,1427.6 303.0,1428.4 304.7,1430.0 306.1,1431.6 307.5,1434.1 308.9,1439.9 310.3,1441.2 312.2,1443.8 314.0,1448.1 315.9,1452.5 317.3,1454.6 318.6,1458.5 320.0,1461.0 321.4,1461.1 322.8,1463.6 324.2,1465.1 325.6,1463.1 327.0,1462.9 328.4,1458.8 329.8,1458.7 331.2,1461.0 332.6,1464.3 334.0,1467.1 335.4,1464.1 336.9,1458.4 338.3,1453.9 340.2,1455.4 342.0,1457.6 343.9,1458.7 345.3,1459.8 346.7,1460.6 348.1,1463.7 349.9,1465.1 351.6,1467.8 353.4,1468.7 355.2,1469.4 356.6,1465.7 358.0,1464.1 359.4,1461.6 360.8,1457.6 362.6,1458.1 364.3,1460.2 366.1,1460.7 367.8,1462.3 369.7,1461.5 371.5,1461.7 373.4,1462.3 374.8,1462.3 376.2,1463.7 377.6,1465.1 379.0,1465.6 380.5,1468.6 381.9,1470.8 383.3,1463.9 384.7,1460.3 386.1,1453.9 388.0,1453.5 389.8,1451.1 391.7,1451.9 393.1,1454.6 394.5,1454.8 395.9,1457.5 397.3,1459.5 399.0,1457.8 400.7,1455.3 402.4,1453.3 404.1,1451.9 405.8,1450.2 407.2,1455.9 408.6,1463.7 410.4,1462.0 412.1,1456.9 413.9,1456.3 415.6,1452.5 417.5,1454.5 419.3,1457.5 421.2,1460.9 423.0,1462.0 424.8,1462.4 426.5,1464.1 428.3,1466.6 429.7,1470.4 431.1,1474.8 432.5,1479.2 433.9,1479.4 435.3,1478.8 436.7,1476.4 438.1,1481.6 439.6,1489.6 441.0,1496.0 442.4,1493.5 443.7,1494.2 445.1,1491.9 446.9,1492.4 448.6,1495.1 450.4,1495.1 452.2,1496.0 453.9,1497.0 455.7,1498.8 457.4,1501.6 459.2,1504.5 460.9,1503.4 462.6,1499.0 464.2,1497.7 465.9,1495.2 467.6,1493.3 469.0,1494.9 470.5,1498.4 471.9,1498.7 473.3,1501.7 474.7,1503.3 476.1,1504.1 477.5,1504.5 479.2,1508.1 480.9,1509.1 482.6,1512.5 484.3,1513.4 486.0,1515.8 487.4,1519.5 488.7,1522.8 490.5,1517.5 492.2,1512.6 494.0,1507.1 495.8,1500.3 497.7,1501.0 499.5,1503.0 501.4,1506.0 502.8,1508.6 504.2,1511.8 505.6,1513.5 507.0,1515.8 508.4,1513.1 509.8,1512.9 511.2,1508.8 512.6,1507.3 514.0,1502.8 515.5,1499.4 516.9,1497.5 518.6,1494.7 520.3,1495.4 521.9,1492.1 523.6,1492.5 525.3,1490.5 526.7,1493.0 528.1,1494.8 529.5,1494.7 531.2,1496.7 533.0,1496.6 534.8,1498.2 536.5,1498.9 537.9,1502.7 539.4,1505.1 540.8,1506.7 542.2,1510.1 544.0,1509.8 545.7,1506.8 547.5,1506.4 549.2,1505.9 550.8,1507.6 552.5,1506.3 554.1,1505.9 555.7,1507.7 557.4,1506.9 559.0,1507.3 560.4,1500.9 561.8,1497.5 563.2,1495.0 564.6,1494.7 566.1,1493.8 567.5,1493.3 569.1,1495.3 570.8,1493.9 572.4,1496.5 574.0,1497.2 575.7,1496.5 577.3,1497.5 579.0,1500.4 580.8,1501.1 582.5,1501.7 584.3,1503.1 585.7,1501.0 587.0,1500.2 588.4,1498.9 590.2,1499.2 592.0,1497.2 593.7,1495.2 595.5,1495.2 597.3,1495.6 599.2,1496.7 601.0,1497.5 602.4,1499.7 603.9,1504.0 605.3,1505.6 606.7,1510.1 608.6,1512.5 610.4,1512.0 612.3,1514.4 613.7,1516.4 615.1,1521.0 616.6,1523.3 618.0,1527.0 619.4,1529.6 620.8,1529.8 622.2,1531.2 623.6,1531.1 625.0,1531.9 626.4,1530.7 627.8,1528.1 629.2,1528.0 630.6,1525.6 632.0,1527.0 633.4,1527.3 634.8,1528.4 636.2,1528.4 637.6,1524.2 639.1,1525.3 640.5,1522.8 642.3,1522.2 644.2,1524.8 646.0,1524.2 647.4,1522.7 648.9,1521.9 650.3,1522.8 651.7,1525.3 653.1,1529.0 654.6,1529.4 656.0,1532.6 657.7,1532.0 659.4,1531.8 661.0,1530.2 662.7,1530.5 664.4,1529.8 666.1,1522.4 667.9,1517.7 669.6,1512.7 671.4,1505.9 673.1,1506.1 674.9,1506.5 676.6,1506.7 678.4,1508.7 679.8,1510.0 681.2,1509.9 682.6,1512.0 684.0,1511.5 685.4,1516.0 686.9,1517.8 688.3,1522.8 689.7,1526.8 691.1,1529.7 692.5,1531.2 694.2,1529.4 696.0,1526.6 697.8,1523.3 699.5,1520.0 700.9,1522.1 702.3,1523.3 703.7,1524.2 705.4,1524.5 707.1,1523.5 708.8,1523.1 710.5,1524.9 712.2,1524.2 714.0,1522.7 715.7,1519.4 717.5,1519.4 719.2,1517.2 721.1,1518.5 722.9,1519.1 724.8,1520.0 726.2,1523.3 727.6,1526.0 729.0,1527.0 730.4,1529.8 732.0,1530.5 733.7,1529.3 735.3,1529.3 737.0,1528.6 738.6,1529.9 740.3,1528.4 742.0,1529.9 743.7,1533.2 745.3,1533.0 747.0,1535.7 748.7,1536.9 750.1,1539.5 751.6,1540.2 753.0,1541.0 754.4,1539.2 755.8,1536.9 757.2,1536.7 758.6,1535.4 760.3,1537.7 762.0,1541.4 763.6,1543.9 765.3,1547.0 767.0,1548.1 768.8,1550.0 770.5,1552.0 772.2,1554.6 774.0,1556.5 775.7,1553.9 777.4,1548.5 779.1,1545.6 780.8,1542.0 782.5,1539.7 784.2,1540.9 785.9,1542.5 787.6,1546.1 789.3,1545.5 791.0,1548.1 793.0,1545.2 795.0,1539.7 796.4,1541.6 797.9,1543.9 799.3,1548.7 800.8,1548.5 802.2,1552.3 803.8,1550.4 805.3,1549.7 806.9,1548.7 808.4,1548.9 810.0,1547.6 811.5,1547.7 813.0,1546.8 814.6,1546.5 816.2,1548.7 817.7,1548.2 819.1,1550.5 820.5,1554.7 822.0,1559.3 823.4,1562.8 825.0,1561.5 826.5,1558.3 828.1,1556.0 829.7,1552.9 831.4,1553.6 833.1,1554.0 834.8,1554.3 836.5,1553.4 837.8,1556.8 839.0,1562.3" fill="none" stroke="#111" stroke-width="2.3" stroke-linejoin="round" stroke-linecap="round"/>
<polyline points="79.1,1643.3 81.1,1632.0 82.5,1631.2 83.9,1633.3 85.3,1633.5 86.7,1633.4 88.1,1632.6 89.5,1629.2 90.9,1626.1 92.3,1623.6 93.8,1622.6 95.2,1619.4 97.1,1623.6 98.9,1626.3 100.8,1630.6 102.4,1628.0 104.0,1624.0 105.6,1622.0 107.2,1618.0 108.9,1620.4 110.6,1625.0 112.0,1631.2 113.4,1640.2 114.8,1646.0 116.2,1640.9 117.6,1635.9 119.0,1632.0 120.4,1636.1 121.8,1638.7 123.3,1640.5 124.7,1644.7 126.5,1646.3 128.2,1648.0 129.9,1647.9 131.7,1650.3 133.1,1651.7 134.5,1651.0 135.9,1653.1 137.3,1655.9 138.7,1658.4 140.1,1663.0 141.9,1657.5 143.6,1655.3 145.4,1649.0 147.2,1644.7 148.9,1644.7 150.7,1641.7 152.4,1640.7 154.2,1639.0 155.6,1639.8 157.0,1638.9 158.4,1636.8 159.8,1637.6 161.2,1638.6 162.7,1639.5 164.1,1638.8 165.5,1640.5 166.9,1642.6 168.3,1648.2 169.7,1650.3 171.1,1648.9 172.5,1646.6 173.9,1646.0 175.3,1644.7 177.0,1639.4 178.7,1636.6 180.3,1631.2 182.0,1625.5 183.7,1622.2 185.1,1625.6 186.6,1625.9 188.0,1628.9 189.4,1632.0 191.2,1634.8 192.9,1641.2 194.7,1643.5 196.4,1648.9 198.3,1640.5 200.1,1630.8 202.0,1623.6 203.9,1624.9 205.7,1627.0 207.6,1627.8 209.4,1630.7 211.1,1633.3 212.9,1636.2 214.7,1639.0 216.1,1636.4 217.5,1634.4 218.9,1630.4 220.3,1629.2 222.1,1626.7 223.8,1623.5 225.6,1622.9 227.3,1619.4 229.1,1620.0 230.9,1616.7 232.6,1616.2 234.4,1616.6 235.8,1624.7 237.2,1631.7 238.6,1639.0 240.3,1633.9 242.0,1632.3 243.6,1629.4 245.3,1624.2 247.0,1620.8 248.8,1620.0 250.5,1620.3 252.2,1621.1 254.0,1619.4 255.7,1617.6 257.4,1616.5 259.1,1615.0 260.8,1615.2 262.5,1613.7 264.2,1615.4 266.0,1616.5 267.8,1618.7 269.5,1620.8 270.9,1615.5 272.3,1612.5 273.7,1610.6 275.1,1605.3 276.8,1604.2 278.5,1601.8 280.2,1602.4 281.9,1599.3 283.6,1598.3 285.2,1599.0 286.9,1599.7 288.5,1601.4 290.1,1603.0 291.8,1604.5 293.4,1606.7 295.1,1613.1 296.9,1616.5 298.6,1621.8 300.4,1627.8 302.2,1632.3 303.9,1637.5 305.7,1639.8 307.5,1644.7 309.2,1646.5 311.0,1646.4 312.8,1648.0 314.5,1648.9 316.3,1652.9 318.2,1657.7 320.0,1660.1 321.4,1660.9 322.8,1660.1 324.2,1660.1 325.6,1660.1 327.0,1657.6 328.4,1656.7 329.8,1656.0 331.2,1659.0 332.6,1659.5 334.0,1661.0 335.4,1654.5 336.9,1645.8 338.3,1639.0 340.0,1641.4 341.7,1641.6 343.3,1641.7 345.0,1644.9 346.7,1644.7 348.1,1646.4 349.5,1647.7 350.9,1649.2 352.3,1651.7 354.1,1646.3 355.9,1642.4 357.6,1639.6 359.4,1634.8 360.8,1632.8 362.2,1632.2 363.6,1632.0 365.0,1634.7 366.4,1637.8 367.8,1640.5 369.5,1638.7 371.2,1638.5 372.8,1635.5 374.5,1634.4 376.2,1633.4 377.6,1635.3 379.0,1636.5 380.5,1638.9 381.9,1641.9 383.3,1639.4 384.7,1639.7 386.1,1637.6 387.9,1636.9 389.6,1638.8 391.4,1637.8 393.1,1639.0 394.5,1641.6 395.9,1643.3 397.5,1640.5 399.2,1636.3 400.9,1634.7 402.5,1630.6 404.1,1627.1 405.8,1623.6 407.2,1624.6 408.6,1628.0 410.0,1630.6 411.8,1628.5 413.5,1627.7 415.2,1627.7 417.0,1625.0 418.4,1628.4 419.8,1628.4 421.2,1632.0 422.6,1631.9 424.1,1632.0 425.5,1630.0 427.2,1634.9 429.0,1638.2 430.8,1645.3 432.5,1648.9 433.9,1650.1 435.3,1653.1 436.7,1654.2 438.1,1654.5 440.0,1661.1 441.8,1667.1 443.7,1671.4 445.5,1671.9 447.2,1675.8 449.0,1676.1 450.8,1678.4 452.6,1679.1 454.3,1681.6 456.1,1684.0 457.8,1685.5 459.7,1683.3 461.5,1684.0 463.4,1683.5 464.8,1682.4 466.2,1679.5 467.6,1677.7 469.0,1675.6 470.8,1677.8 472.5,1682.7 474.2,1683.3 476.0,1686.9 477.4,1686.0 478.9,1684.5 480.3,1682.6 481.9,1683.5 483.5,1688.9 485.1,1689.0 486.7,1693.7 488.3,1696.0 489.9,1698.3 491.5,1699.5 492.9,1696.8 494.4,1691.7 495.8,1688.3 497.4,1688.7 499.0,1689.0 500.6,1691.4 502.2,1689.3 503.8,1690.2 505.4,1693.3 507.0,1692.5 508.4,1689.9 509.8,1685.5 511.6,1686.8 513.4,1688.3 515.1,1687.7 516.9,1688.3 518.6,1689.3 520.3,1688.1 521.9,1689.5 523.6,1687.0 525.3,1688.3 527.0,1690.2 528.8,1692.7 530.5,1695.5 532.3,1696.7 533.9,1698.5 535.5,1701.3 537.1,1704.1 538.8,1704.5 540.4,1705.9 542.0,1707.4 543.6,1710.8 545.4,1710.5 547.1,1707.9 548.9,1706.2 550.6,1705.1 552.2,1704.2 553.8,1702.0 555.4,1701.3 557.0,1700.3 558.6,1699.4 560.2,1700.2 561.8,1698.1 563.2,1698.4 564.6,1699.0 566.1,1702.4 567.5,1702.3 569.2,1703.3 570.9,1702.6 572.5,1705.3 574.2,1706.2 575.9,1706.5 577.3,1711.6 578.7,1716.7 580.1,1720.6 581.5,1723.2 582.9,1725.4 584.3,1729.0 586.0,1725.5 587.8,1721.0 589.5,1717.0 591.2,1712.2 592.9,1708.2 594.6,1705.6 596.3,1703.5 598.0,1699.5 599.7,1696.7 601.6,1698.4 603.4,1699.5 605.3,1701.0 606.7,1705.5 608.1,1708.0 609.5,1712.2 611.1,1713.1 612.7,1714.9 614.3,1714.3 615.9,1714.7 617.4,1717.0 619.0,1716.3 620.6,1719.4 622.2,1719.2 623.6,1721.3 625.0,1726.0 626.4,1727.6 628.1,1726.9 629.8,1724.9 631.4,1725.1 633.1,1724.8 634.8,1723.4 636.2,1723.0 637.6,1723.1 639.1,1722.0 640.5,1722.0 642.2,1725.1 644.0,1724.5 645.8,1728.1 647.5,1729.0 648.9,1728.6 650.3,1731.2 651.7,1730.9 653.1,1733.3 654.9,1732.9 656.6,1734.9 658.4,1736.5 660.1,1736.0 661.5,1734.8 663.0,1734.4 664.4,1733.9 665.8,1733.3 667.2,1731.1 668.6,1727.9 670.0,1725.4 671.4,1723.4 673.0,1725.0 674.5,1724.6 676.1,1724.5 677.7,1726.5 679.3,1727.5 680.9,1726.3 682.4,1725.6 684.0,1727.6 685.8,1730.5 687.5,1735.8 689.3,1737.2 691.1,1741.7 692.7,1738.9 694.4,1738.8 696.0,1734.9 697.6,1735.2 699.3,1731.5 700.9,1730.4 702.5,1732.9 704.2,1736.3 705.8,1737.7 707.5,1742.5 709.1,1744.3 710.8,1747.3 712.5,1746.4 714.2,1744.7 715.8,1741.0 717.5,1741.5 719.2,1738.9 720.8,1741.1 722.4,1740.6 724.0,1742.8 725.5,1742.9 727.1,1745.1 728.7,1747.0 730.3,1747.1 731.9,1748.7 733.3,1747.4 734.7,1744.8 736.1,1745.6 737.5,1743.1 739.1,1743.5 740.7,1744.1 742.3,1741.8 743.9,1743.8 745.5,1741.9 747.1,1743.3 748.7,1743.1 750.5,1743.7 752.2,1747.1 754.0,1746.1 755.8,1748.7 757.4,1749.2 759.0,1749.8 760.6,1750.2 762.2,1749.9 763.8,1752.3 765.4,1753.8 767.0,1753.0 768.7,1752.3 770.4,1753.6 772.0,1751.6 773.7,1751.1 775.4,1751.5 777.2,1746.8 779.0,1743.8 780.7,1738.7 782.5,1733.3 784.1,1733.9 785.7,1732.3 787.3,1733.8 788.9,1732.6 790.5,1733.0 792.1,1734.1 793.7,1734.7 795.4,1735.1 797.0,1735.8 798.7,1738.2 800.3,1740.2 802.0,1741.8 803.6,1741.7 805.3,1742.7 807.0,1740.9 808.6,1739.9 810.3,1742.0 812.0,1740.3 813.8,1740.8 815.5,1741.2 817.2,1743.4 819.0,1743.1 820.4,1745.4 821.9,1748.7 823.3,1750.0 824.7,1751.5 826.6,1750.0 828.4,1744.9 830.3,1743.1 831.6,1745.4 833.0,1745.0 834.4,1748.9 835.9,1753.1 837.3,1755.7 838.7,1760.0" fill="none" stroke="#111" stroke-width="2.3" stroke-linejoin="round" stroke-linecap="round"/>
<polyline points="79.1,1816.2 80.8,1820.4 82.5,1821.9 83.9,1817.6 85.3,1816.9 86.7,1813.4 88.1,1809.6 89.6,1809.3 91.0,1805.0 92.4,1799.6 93.8,1798.3 95.2,1793.2 96.6,1805.0 98.0,1806.9 99.4,1808.9 100.8,1810.7 102.2,1810.6 103.9,1807.0 105.5,1804.5 107.2,1802.2 108.9,1809.3 110.6,1814.4 112.3,1820.8 114.0,1828.0 115.7,1821.4 117.3,1817.5 119.0,1810.6 120.7,1811.4 122.4,1810.9 124.1,1808.9 125.8,1810.8 127.5,1809.2 129.2,1808.5 131.0,1807.0 132.8,1807.0 134.5,1806.4 135.9,1808.0 137.3,1808.9 138.7,1812.0 140.4,1810.2 142.1,1807.7 143.8,1806.3 145.5,1805.5 147.2,1802.2 148.9,1800.2 150.7,1797.0 152.4,1795.9 154.2,1792.3 155.9,1792.4 157.6,1789.5 159.2,1789.4 160.9,1785.3 162.6,1785.3 164.4,1784.6 166.1,1785.0 167.9,1787.7 169.7,1786.7 171.3,1785.6 172.8,1784.0 174.4,1781.0 176.0,1780.0 177.5,1780.5 179.1,1782.2 180.6,1780.3 182.2,1780.8 183.7,1782.5 185.4,1785.1 187.1,1790.3 188.8,1795.3 190.5,1798.4 192.2,1802.2 193.6,1806.8 195.0,1812.1 196.4,1816.0 197.8,1821.9 199.2,1820.4 200.6,1816.2 202.5,1819.5 204.3,1822.9 206.2,1827.5 207.9,1828.3 209.6,1831.3 211.3,1831.2 213.0,1834.3 214.7,1834.5 216.4,1831.6 218.2,1829.4 219.9,1825.9 221.7,1824.7 223.4,1822.7 225.2,1819.2 226.9,1815.1 228.7,1812.0 230.1,1817.2 231.5,1824.7 233.2,1825.8 234.9,1826.6 236.6,1829.1 238.3,1830.5 240.0,1830.3 241.8,1828.9 243.5,1825.5 245.2,1822.6 247.0,1821.9 248.8,1821.7 250.5,1820.4 252.2,1816.6 254.0,1816.2 255.4,1817.6 256.9,1819.0 258.3,1820.5 259.7,1818.2 261.1,1811.6 262.5,1809.2 264.1,1806.9 265.7,1808.2 267.3,1806.4 268.9,1805.1 270.5,1805.0 272.1,1803.5 273.7,1802.2 275.4,1801.1 277.0,1798.2 278.6,1796.0 280.3,1794.1 282.0,1793.4 283.6,1792.3 285.2,1793.9 286.9,1794.3 288.5,1795.4 290.1,1797.4 291.8,1798.8 293.4,1799.4 295.0,1802.0 296.5,1803.5 298.1,1807.4 299.7,1809.7 301.2,1812.3 302.8,1814.6 304.4,1814.4 305.9,1818.7 307.5,1820.5 309.2,1822.0 310.9,1824.1 312.5,1826.4 314.2,1827.3 315.9,1830.3 317.7,1832.4 319.4,1837.4 321.2,1838.3 323.0,1841.6 324.8,1844.2 326.6,1845.0 328.4,1845.8 329.8,1843.3 331.3,1841.4 332.7,1840.0 334.1,1838.9 335.5,1837.9 336.9,1835.4 338.3,1834.5 340.2,1834.6 342.0,1836.3 343.9,1838.7 345.3,1843.1 346.7,1846.0 348.1,1848.6 349.9,1846.0 351.6,1846.8 353.4,1844.6 355.2,1843.0 356.9,1839.1 358.6,1837.4 360.2,1831.7 361.9,1828.3 363.6,1826.1 365.0,1828.0 366.4,1831.5 367.8,1833.1 369.2,1837.5 370.6,1841.5 372.0,1845.8 373.4,1844.2 374.8,1839.8 376.2,1837.3 378.0,1839.2 379.8,1838.0 381.5,1841.4 383.3,1841.6 384.7,1835.9 386.1,1832.7 387.5,1827.5 389.2,1828.9 391.0,1828.7 392.8,1828.9 394.5,1829.0 395.9,1831.5 397.3,1834.4 398.7,1836.0 400.5,1833.5 402.2,1831.0 404.0,1829.8 405.8,1827.5 407.7,1830.8 409.5,1832.9 411.4,1837.3 412.8,1836.2 414.2,1834.9 415.6,1832.7 417.0,1832.6 418.7,1833.9 420.4,1834.8 422.1,1834.2 423.8,1836.4 425.5,1836.0 427.3,1844.0 429.2,1849.6 431.0,1855.6 432.4,1855.0 433.9,1854.2 435.3,1853.4 436.7,1854.2 438.1,1857.3 439.6,1863.2 441.0,1865.5 442.8,1865.1 444.7,1868.6 446.5,1868.3 447.9,1867.1 449.4,1865.6 450.8,1861.8 452.2,1861.2 453.6,1864.1 455.0,1865.2 456.4,1869.1 457.8,1871.0 459.5,1871.3 461.2,1870.6 462.8,1869.5 464.5,1870.0 466.2,1868.3 467.9,1869.4 469.6,1871.2 471.3,1875.3 473.0,1874.8 474.7,1878.1 476.1,1876.0 477.5,1874.1 478.9,1872.5 480.6,1874.3 482.4,1873.5 484.1,1874.8 485.9,1875.3 487.7,1877.4 489.4,1879.4 491.2,1881.5 493.0,1883.7 494.4,1879.4 495.8,1875.5 497.2,1871.0 498.6,1871.5 500.0,1872.2 501.4,1874.4 502.8,1873.9 504.4,1878.1 506.1,1878.8 507.7,1883.7 509.3,1883.7 511.0,1887.5 512.6,1890.8 514.0,1890.1 515.5,1886.0 516.9,1885.1 518.5,1885.4 520.1,1886.2 521.7,1884.8 523.3,1884.2 524.9,1882.7 526.5,1883.8 528.1,1883.7 529.8,1884.7 531.5,1886.8 533.1,1886.8 534.8,1889.2 536.5,1889.4 538.3,1891.9 540.0,1895.4 541.8,1898.6 543.6,1900.6 545.2,1897.0 546.9,1896.8 548.5,1892.7 550.1,1890.2 551.8,1889.1 553.4,1885.1 555.0,1884.1 556.7,1882.8 558.3,1880.7 560.0,1879.6 561.6,1880.0 563.3,1878.1 564.7,1880.0 566.1,1882.3 567.5,1883.7 568.9,1892.3 570.3,1900.2 571.7,1907.6 573.1,1908.5 574.5,1911.6 575.9,1911.9 577.6,1909.8 579.3,1907.0 580.9,1907.1 582.6,1905.2 584.3,1902.0 585.7,1900.2 587.1,1901.8 588.6,1900.5 590.0,1899.2 591.8,1898.5 593.7,1899.4 595.5,1899.2 597.1,1895.3 598.6,1887.8 600.2,1883.7 601.8,1885.3 603.4,1885.2 604.9,1886.1 606.5,1889.6 608.1,1889.4 609.8,1893.2 611.4,1894.5 613.0,1897.3 614.7,1898.4 616.4,1900.9 618.0,1903.4 619.8,1902.7 621.5,1902.2 623.2,1900.9 625.0,1899.2 626.6,1898.9 628.2,1899.2 629.8,1898.3 631.4,1899.3 633.0,1899.3 634.6,1898.8 636.2,1897.8 638.0,1896.6 639.8,1896.0 641.5,1897.1 643.3,1895.0 645.0,1895.3 646.8,1896.9 648.5,1895.9 650.3,1897.8 651.9,1898.5 653.5,1900.6 655.1,1903.7 656.7,1904.2 658.3,1907.3 659.9,1907.3 661.5,1910.4 662.9,1910.5 664.4,1910.1 665.8,1909.0 667.2,1905.5 668.6,1902.6 670.0,1899.9 671.4,1897.8 673.1,1899.9 674.9,1901.1 676.6,1903.3 678.4,1906.2 680.2,1910.6 682.0,1914.6 683.7,1915.8 685.5,1920.3 686.9,1922.5 688.3,1925.0 689.7,1927.9 691.1,1928.7 692.7,1927.5 694.4,1926.0 696.0,1925.3 697.6,1924.0 699.3,1922.3 700.9,1920.3 702.7,1924.5 704.5,1929.0 706.2,1930.6 708.0,1935.8 709.6,1935.9 711.1,1933.5 712.7,1933.2 714.3,1932.6 715.9,1932.3 717.5,1931.8 719.0,1931.1 720.6,1930.1 722.3,1931.0 724.0,1932.5 725.6,1934.8 727.3,1937.1 729.0,1937.2 730.6,1935.4 732.2,1932.9 733.8,1934.0 735.5,1932.7 737.1,1931.2 738.7,1929.1 740.3,1927.3 742.0,1927.6 743.7,1927.1 745.3,1930.2 747.0,1929.3 748.7,1930.1 750.4,1929.0 752.1,1930.5 753.8,1928.7 755.5,1929.8 757.2,1930.1 759.1,1928.1 760.9,1926.3 762.8,1923.1 764.4,1922.8 765.9,1922.5 767.5,1923.1 769.1,1924.7 770.6,1922.7 772.2,1923.0 773.8,1923.7 775.3,1925.7 776.9,1924.5 778.3,1921.4 779.7,1917.5 781.1,1910.5 782.5,1907.6 784.1,1907.4 785.7,1906.1 787.3,1907.3 788.9,1907.7 790.5,1906.5 792.1,1907.0 793.7,1906.2 795.2,1905.6 796.8,1904.0 798.4,1902.6 799.9,1901.0 801.5,1901.4 803.0,1899.6 804.5,1900.6 806.0,1900.2 807.5,1899.7 809.0,1898.0 810.8,1899.3 812.5,1899.0 814.2,1898.7 816.0,1899.0 817.6,1900.0 819.3,1903.2 820.9,1904.4 822.4,1902.8 824.0,1904.0 825.5,1901.0 827.0,1895.4 829.0,1899.8 831.0,1902.0 833.3,1910.0 834.6,1909.8 836.0,1911.0 837.5,1914.6 839.0,1915.7" fill="none" stroke="#111" stroke-width="2.3" stroke-linejoin="round" stroke-linecap="round"/>
<polyline points="79.1,1973.7 81.1,1969.5 82.5,1965.6 83.9,1962.5 85.5,1962.4 87.2,1962.1 88.8,1962.1 90.4,1961.9 92.1,1962.6 93.7,1962.0 95.1,1961.8 96.6,1963.4 98.0,1962.0 99.4,1964.0 100.8,1965.4 102.2,1968.0 103.6,1966.2 105.0,1964.3 106.4,1964.0 108.2,1966.8 109.9,1967.6 111.7,1971.1 113.4,1972.3 115.2,1971.2 117.0,1966.7 118.7,1966.1 120.5,1962.5 122.2,1963.8 124.0,1963.8 125.8,1962.2 127.5,1964.0 128.9,1968.0 130.3,1972.3 132.2,1969.4 134.0,1965.2 135.9,1962.5 137.7,1962.7 139.4,1964.0 141.2,1964.9 143.0,1966.7 144.8,1969.7 146.5,1970.5 148.2,1972.8 150.0,1975.2 151.8,1974.2 153.5,1973.7 155.2,1970.3 157.0,1969.5 158.9,1968.6 160.7,1971.9 162.6,1971.0 164.1,1969.1 165.5,1965.3 167.2,1967.2 169.0,1967.5 170.8,1967.7 172.5,1969.5 174.3,1974.1 176.2,1980.2 178.0,1986.4 179.4,1986.3 180.8,1985.1 182.3,1987.0 183.7,1986.4 185.1,1991.3 186.6,1993.3 188.0,1999.0 189.4,1997.2 190.8,1993.4 192.2,1990.6 193.6,2000.3 195.0,2007.4 196.4,2015.9 198.3,2014.9 200.1,2012.0 202.0,2010.3 203.9,2011.5 205.7,2012.1 207.6,2013.0 209.4,2015.8 211.1,2020.4 212.9,2024.9 214.7,2030.0 216.1,2026.2 217.5,2022.6 218.9,2019.5 220.3,2015.9 222.0,2015.5 223.7,2013.9 225.3,2012.8 227.0,2012.6 228.7,2011.7 230.5,2010.6 232.2,2007.6 234.0,2004.8 235.8,2001.9 237.2,2006.6 238.6,2008.5 240.0,2013.0 241.8,2010.4 243.5,2009.0 245.2,2007.7 247.0,2007.5 248.8,2007.1 250.5,2010.0 252.2,2011.9 254.0,2011.7 255.4,2010.2 256.9,2011.6 258.3,2012.0 259.7,2010.3 261.1,2010.0 262.5,2007.1 263.9,2007.5 265.3,2006.0 266.7,2003.5 268.1,2001.5 269.6,1999.3 271.0,1999.0 272.8,2002.4 274.7,2006.9 276.5,2008.9 278.2,2006.6 279.9,2005.6 281.6,2005.2 283.3,2003.0 285.0,2003.3 286.4,2001.3 287.8,2000.2 289.2,1997.6 290.6,1998.9 292.0,1999.1 293.4,2001.9 294.8,1997.7 296.2,1995.3 297.6,1993.9 299.0,1990.6 300.7,1993.0 302.4,1992.8 304.1,1992.8 305.8,1994.2 307.5,1996.2 309.1,1995.1 310.7,1993.4 312.3,1992.6 313.9,1992.8 315.5,1993.2 317.1,1990.6 318.7,1990.6 320.4,1993.5 322.1,1995.2 323.9,1995.6 325.6,1997.6 327.4,1997.8 329.1,1998.8 330.9,2001.3 332.7,2001.9 334.1,2003.0 335.5,2003.2 336.9,2001.4 338.3,2002.4 340.0,2003.5 341.7,2003.6 343.3,2005.8 345.0,2007.1 346.7,2009.0 348.4,2008.5 350.2,2009.1 351.9,2012.5 353.7,2011.7 355.1,2013.0 356.6,2015.4 358.0,2017.3 359.4,2015.5 360.8,2013.5 362.2,2011.7 363.6,2015.1 365.0,2018.1 366.4,2021.2 367.8,2024.4 369.2,2028.3 370.6,2035.1 372.0,2039.8 373.4,2039.4 374.8,2038.6 376.2,2037.0 377.6,2034.3 379.0,2032.7 380.5,2031.6 381.9,2028.6 383.3,2030.2 384.7,2029.1 386.1,2031.4 388.0,2029.0 389.8,2026.7 391.7,2025.8 393.1,2030.2 394.6,2033.0 396.0,2037.0 397.7,2035.6 399.4,2033.9 401.0,2033.5 402.7,2033.2 404.4,2031.4 406.0,2031.6 407.6,2030.2 409.2,2030.5 410.8,2031.0 412.4,2029.1 414.0,2031.4 415.6,2030.0 417.4,2028.9 419.1,2031.1 420.9,2030.0 422.6,2031.4 424.0,2034.6 425.5,2035.7 426.9,2037.0 428.3,2038.6 429.7,2042.0 431.1,2045.5 432.5,2046.9 434.2,2049.6 435.9,2050.7 437.6,2052.4 439.3,2054.3 441.0,2055.3 442.6,2054.9 444.3,2052.1 445.9,2050.7 447.5,2049.7 449.2,2047.2 450.8,2045.5 452.2,2047.0 453.6,2050.4 455.0,2052.5 456.4,2052.4 457.8,2053.8 459.2,2054.3 460.6,2053.9 462.4,2057.2 464.1,2056.9 465.9,2058.8 467.6,2062.3 469.0,2061.1 470.5,2058.1 471.9,2056.4 473.3,2052.5 474.9,2052.5 476.6,2052.0 478.2,2048.7 479.8,2047.8 481.5,2048.2 483.1,2046.9 485.0,2048.1 486.8,2046.7 488.7,2048.3 490.1,2052.1 491.5,2052.4 493.0,2054.8 494.4,2058.1 495.8,2056.5 497.2,2054.3 498.6,2052.7 500.0,2052.5 501.8,2053.7 503.5,2056.0 505.2,2058.8 507.0,2062.3 508.6,2062.4 510.3,2062.2 511.9,2061.7 513.6,2060.2 515.2,2060.7 516.9,2059.5 518.5,2059.1 520.1,2062.2 521.7,2061.6 523.3,2061.6 524.9,2063.1 526.5,2063.4 528.1,2065.1 529.9,2065.1 531.6,2063.3 533.4,2061.6 535.1,2062.3 536.8,2062.3 538.4,2062.9 540.0,2066.5 541.7,2065.8 543.4,2067.9 545.0,2068.0 546.7,2068.0 548.4,2067.1 550.0,2067.8 551.7,2067.0 553.4,2066.5 554.8,2064.8 556.2,2067.3 557.6,2065.0 559.0,2065.1 560.7,2067.8 562.4,2069.4 564.1,2073.3 565.8,2073.1 567.5,2076.4 569.2,2076.8 571.0,2078.5 572.8,2081.4 574.5,2083.4 576.3,2083.5 578.2,2081.4 580.0,2080.6 581.4,2080.8 582.8,2077.4 584.2,2078.8 585.6,2076.4 587.4,2077.5 589.2,2081.8 590.9,2081.8 592.7,2084.8 594.5,2085.4 596.2,2085.8 598.0,2087.3 599.7,2086.2 601.9,2076.4 603.5,2075.1 605.0,2075.3 606.5,2071.9 608.1,2072.2 609.5,2075.7 610.9,2076.9 612.3,2079.2 613.7,2080.7 615.1,2083.4 616.6,2082.8 618.0,2084.8 619.4,2081.7 620.8,2078.1 622.2,2074.4 623.9,2074.2 625.6,2074.1 627.2,2075.4 628.9,2075.3 630.6,2076.4 632.0,2075.0 633.4,2072.6 634.8,2069.9 636.2,2069.4 637.6,2066.2 639.1,2063.1 640.5,2058.1 642.2,2060.2 644.0,2061.0 645.8,2062.8 647.5,2065.1 648.9,2061.8 650.3,2055.6 651.7,2051.1 653.6,2052.7 655.4,2051.7 657.3,2053.9 659.1,2054.5 660.8,2054.4 662.6,2052.1 664.4,2052.5 665.8,2050.5 667.2,2050.2 668.6,2048.3 670.4,2051.1 672.1,2052.0 673.9,2051.1 675.6,2053.9 677.0,2054.5 678.4,2058.6 679.8,2058.9 681.2,2060.9 682.6,2065.6 684.1,2067.3 685.5,2070.8 687.2,2073.6 689.0,2073.5 690.8,2077.4 692.5,2077.8 694.2,2077.7 695.9,2076.3 697.6,2076.9 699.3,2076.5 701.0,2077.8 702.4,2082.5 703.7,2087.6 705.4,2089.3 707.1,2089.6 708.8,2089.7 710.5,2088.4 712.2,2089.0 714.0,2088.4 715.7,2086.9 717.5,2085.8 719.2,2083.4 721.1,2087.6 722.9,2090.1 724.8,2091.9 726.5,2090.4 728.2,2086.8 729.9,2084.1 731.6,2082.6 733.3,2080.6 734.7,2080.0 736.1,2081.4 737.5,2079.6 738.9,2080.6 740.6,2081.8 742.4,2085.5 744.1,2085.5 745.9,2089.0 747.6,2089.2 749.3,2090.3 751.0,2091.8 752.7,2093.5 754.4,2096.1 755.8,2095.8 757.2,2093.3 758.6,2091.8 760.0,2091.9 761.4,2093.3 762.8,2094.3 764.2,2094.6 765.6,2097.5 767.0,2095.1 768.4,2094.7 769.8,2094.1 771.2,2093.3 773.0,2096.0 774.8,2100.8 776.5,2104.8 778.3,2108.7 780.0,2109.6 781.8,2108.3 783.5,2107.1 785.3,2107.3 787.0,2106.2 788.7,2105.8 790.3,2106.1 792.0,2107.5 793.7,2105.9 795.4,2107.9 797.1,2106.0 798.8,2108.0 800.5,2108.9 802.2,2108.7 803.8,2108.5 805.5,2106.6 807.1,2104.8 808.8,2101.7 810.4,2101.5 811.8,2101.9 813.2,2105.1 814.6,2106.1 816.0,2106.0 817.8,2109.7 819.5,2110.5 821.2,2114.3 823.0,2116.0 824.5,2112.9 826.0,2108.0 828.0,2106.5 830.0,2105.6 831.5,2106.8 833.0,2109.0 834.5,2109.9 836.0,2111.1 837.5,2110.6 839.0,2113.0" fill="none" stroke="#111" stroke-width="2.3" stroke-linejoin="round" stroke-linecap="round"/>
<g stroke="#333" stroke-width="1"><line x1="85" y1="1217" x2="85" y2="1226"/><line x1="83" y1="1220" x2="85" y2="1220"/><line x1="85" y1="1223" x2="87" y2="1223"/><line x1="90" y1="1216" x2="90" y2="1225"/><line x1="88" y1="1218" x2="90" y2="1218"/><line x1="90" y1="1222" x2="92" y2="1222"/></g>
<text x="97.5" y="1226.0" font-family='"Liberation Mono", monospace' font-size="12" fill="#666" textLength="92.5" lengthAdjust="spacingAndGlyphs">$SPX 5431.60</text>
<rect x="81" y="1394.9" width="157.4" height="14" fill="#fff"/>
<rect x="82" y="1400.7" width="10" height="2.4" fill="#333"/><text x="97.0" y="1405.9" font-family='"Liberation Mono", monospace' font-size="11.5" fill="#6a6a6a" textLength="137.4" lengthAdjust="spacingAndGlyphs">XLV:SPY (Daily) 0.27</text>
<rect x="81" y="1590.4" width="108.5" height="14" fill="#fff"/>
<rect x="82" y="1596.2" width="10" height="2.4" fill="#333"/><text x="97.0" y="1601.4" font-family='"Liberation Mono", monospace' font-size="11.5" fill="#6a6a6a" textLength="88.5" lengthAdjust="spacingAndGlyphs">XLP:SPY 0.14</text>
<rect x="81" y="1769" width="118.4" height="14" fill="#fff"/>
<rect x="82" y="1774.8" width="10" height="2.4" fill="#333"/><text x="97.0" y="1780.0" font-family='"Liberation Mono", monospace' font-size="11.5" fill="#6a6a6a" textLength="98.4" lengthAdjust="spacingAndGlyphs">XLU:SPY 0.129</text>
<rect x="81" y="1947.6" width="125.4" height="14" fill="#fff"/>
<rect x="82" y="1953.3999999999999" width="10" height="2.4" fill="#333"/><text x="97.0" y="1958.6" font-family='"Liberation Mono", monospace' font-size="11.5" fill="#6a6a6a" textLength="105.4" lengthAdjust="spacingAndGlyphs">XLRE:SPY 0.071</text>
<text x="450.8" y="1266.0" font-family='"Liberation Sans", sans-serif' font-size="13.5" font-weight="bold" fill="#222" textLength="58.0" lengthAdjust="spacingAndGlyphs">S&amp;P 500</text>
<text x="454.4" y="1447.4" font-family='"Liberation Sans", sans-serif' font-size="13.5" font-weight="bold" fill="#222" textLength="160.0" lengthAdjust="spacingAndGlyphs">Healthcare vs. S&amp;P 500</text>
<text x="448.8" y="1647.5" font-family='"Liberation Sans", sans-serif' font-size="13.5" font-weight="bold" fill="#222" textLength="211.0" lengthAdjust="spacingAndGlyphs">Consumer Staples vs. S&amp;P 500</text>
<text x="448.8" y="1830.3" font-family='"Liberation Sans", sans-serif' font-size="13.5" font-weight="bold" fill="#222" textLength="135.5" lengthAdjust="spacingAndGlyphs">Utilities vs. S&amp;P 500</text>
<text x="445.1" y="2013.7" font-family='"Liberation Sans", sans-serif' font-size="13.5" font-weight="bold" fill="#222" textLength="162.0" lengthAdjust="spacingAndGlyphs">Real Estate vs. S&amp;P 500</text>
<text x="86.5" y="1584.0" font-family='"Liberation Sans", sans-serif' font-size="10.5" fill="#5a5a5a" textLength="17.3" lengthAdjust="spacingAndGlyphs">Jul</text><text x="114.8" y="1584.0" font-family='"Liberation Sans", sans-serif' font-size="10.5" fill="#5a5a5a" textLength="22.5" lengthAdjust="spacingAndGlyphs">Aug</text><text x="148.8" y="1584.0" font-family='"Liberation Sans", sans-serif' font-size="10.5" fill="#5a5a5a" textLength="22.0" lengthAdjust="spacingAndGlyphs">Sep</text><text x="183.1" y="1584.0" font-family='"Liberation Sans", sans-serif' font-size="10.5" fill="#5a5a5a" textLength="21.0" lengthAdjust="spacingAndGlyphs">Oct</text><text x="213.0" y="1584.0" font-family='"Liberation Sans", sans-serif' font-size="10.5" fill="#5a5a5a" textLength="23.0" lengthAdjust="spacingAndGlyphs">Nov</text><text x="245.4" y="1584.0" font-family='"Liberation Sans", sans-serif' font-size="10.5" fill="#5a5a5a" textLength="23.0" lengthAdjust="spacingAndGlyphs">Dec</text><text x="274.9" y="1584.0" font-family='"Liberation Sans", sans-serif' font-size="12.0" font-weight="bold" fill="#222" textLength="28.5" lengthAdjust="spacingAndGlyphs">2023</text><text x="309.5" y="1584.0" font-family='"Liberation Sans", sans-serif' font-size="10.5" fill="#5a5a5a" textLength="21.0" lengthAdjust="spacingAndGlyphs">Feb</text><text x="336.6" y="1584.0" font-family='"Liberation Sans", sans-serif' font-size="10.5" fill="#5a5a5a" textLength="22.0" lengthAdjust="spacingAndGlyphs">Mar</text><text x="372.4" y="1584.0" font-family='"Liberation Sans", sans-serif' font-size="10.5" fill="#5a5a5a" textLength="20.0" lengthAdjust="spacingAndGlyphs">Apr</text><text x="400.7" y="1584.0" font-family='"Liberation Sans", sans-serif' font-size="10.5" fill="#5a5a5a" textLength="23.0" lengthAdjust="spacingAndGlyphs">May</text><text x="436.0" y="1584.0" font-family='"Liberation Sans", sans-serif' font-size="10.5" fill="#5a5a5a" textLength="20.0" lengthAdjust="spacingAndGlyphs">Jun</text><text x="468.9" y="1584.0" font-family='"Liberation Sans", sans-serif' font-size="10.5" fill="#5a5a5a" textLength="17.3" lengthAdjust="spacingAndGlyphs">Jul</text><text x="496.6" y="1584.0" font-family='"Liberation Sans", sans-serif' font-size="10.5" fill="#5a5a5a" textLength="22.5" lengthAdjust="spacingAndGlyphs">Aug</text><text x="531.2" y="1584.0" font-family='"Liberation Sans", sans-serif' font-size="10.5" fill="#5a5a5a" textLength="22.0" lengthAdjust="spacingAndGlyphs">Sep</text><text x="562.5" y="1584.0" font-family='"Liberation Sans", sans-serif' font-size="10.5" fill="#5a5a5a" textLength="21.0" lengthAdjust="spacingAndGlyphs">Oct</text><text x="595.2" y="1584.0" font-family='"Liberation Sans", sans-serif' font-size="10.5" fill="#5a5a5a" textLength="23.0" lengthAdjust="spacingAndGlyphs">Nov</text><text x="626.1" y="1584.0" font-family='"Liberation Sans", sans-serif' font-size="10.5" fill="#5a5a5a" textLength="23.0" lengthAdjust="spacingAndGlyphs">Dec</text><text x="655.1" y="1584.0" font-family='"Liberation Sans", sans-serif' font-size="12.0" font-weight="bold" fill="#222" textLength="28.5" lengthAdjust="spacingAndGlyphs">2024</text><text x="690.5" y="1584.0" font-family='"Liberation Sans", sans-serif' font-size="10.5" fill="#5a5a5a" textLength="21.0" lengthAdjust="spacingAndGlyphs">Feb</text><text x="720.9" y="1584.0" font-family='"Liberation Sans", sans-serif' font-size="10.5" fill="#5a5a5a" textLength="22.0" lengthAdjust="spacingAndGlyphs">Mar</text><text x="752.8" y="1584.0" font-family='"Liberation Sans", sans-serif' font-size="10.5" fill="#5a5a5a" textLength="20.0" lengthAdjust="spacingAndGlyphs">Apr</text><text x="783.5" y="1584.0" font-family='"Liberation Sans", sans-serif' font-size="10.5" fill="#5a5a5a" textLength="23.0" lengthAdjust="spacingAndGlyphs">May</text><text x="818.9" y="1584.0" font-family='"Liberation Sans", sans-serif' font-size="10.5" fill="#5a5a5a" textLength="20.0" lengthAdjust="spacingAndGlyphs">Jun</text>
<text x="86.5" y="2138.6" font-family='"Liberation Sans", sans-serif' font-size="10.5" fill="#5a5a5a" textLength="17.3" lengthAdjust="spacingAndGlyphs">Jul</text><text x="114.8" y="2138.6" font-family='"Liberation Sans", sans-serif' font-size="10.5" fill="#5a5a5a" textLength="22.5" lengthAdjust="spacingAndGlyphs">Aug</text><text x="148.8" y="2138.6" font-family='"Liberation Sans", sans-serif' font-size="10.5" fill="#5a5a5a" textLength="22.0" lengthAdjust="spacingAndGlyphs">Sep</text><text x="183.1" y="2138.6" font-family='"Liberation Sans", sans-serif' font-size="10.5" fill="#5a5a5a" textLength="21.0" lengthAdjust="spacingAndGlyphs">Oct</text><text x="213.0" y="2138.6" font-family='"Liberation Sans", sans-serif' font-size="10.5" fill="#5a5a5a" textLength="23.0" lengthAdjust="spacingAndGlyphs">Nov</text><text x="245.4" y="2138.6" font-family='"Liberation Sans", sans-serif' font-size="10.5" fill="#5a5a5a" textLength="23.0" lengthAdjust="spacingAndGlyphs">Dec</text><text x="274.9" y="2138.6" font-family='"Liberation Sans", sans-serif' font-size="12.0" font-weight="bold" fill="#222" textLength="28.5" lengthAdjust="spacingAndGlyphs">2023</text><text x="309.5" y="2138.6" font-family='"Liberation Sans", sans-serif' font-size="10.5" fill="#5a5a5a" textLength="21.0" lengthAdjust="spacingAndGlyphs">Feb</text><text x="336.6" y="2138.6" font-family='"Liberation Sans", sans-serif' font-size="10.5" fill="#5a5a5a" textLength="22.0" lengthAdjust="spacingAndGlyphs">Mar</text><text x="372.4" y="2138.6" font-family='"Liberation Sans", sans-serif' font-size="10.5" fill="#5a5a5a" textLength="20.0" lengthAdjust="spacingAndGlyphs">Apr</text><text x="400.7" y="2138.6" font-family='"Liberation Sans", sans-serif' font-size="10.5" fill="#5a5a5a" textLength="23.0" lengthAdjust="spacingAndGlyphs">May</text><text x="436.0" y="2138.6" font-family='"Liberation Sans", sans-serif' font-size="10.5" fill="#5a5a5a" textLength="20.0" lengthAdjust="spacingAndGlyphs">Jun</text><text x="468.9" y="2138.6" font-family='"Liberation Sans", sans-serif' font-size="10.5" fill="#5a5a5a" textLength="17.3" lengthAdjust="spacingAndGlyphs">Jul</text><text x="496.6" y="2138.6" font-family='"Liberation Sans", sans-serif' font-size="10.5" fill="#5a5a5a" textLength="22.5" lengthAdjust="spacingAndGlyphs">Aug</text><text x="531.2" y="2138.6" font-family='"Liberation Sans", sans-serif' font-size="10.5" fill="#5a5a5a" textLength="22.0" lengthAdjust="spacingAndGlyphs">Sep</text><text x="562.5" y="2138.6" font-family='"Liberation Sans", sans-serif' font-size="10.5" fill="#5a5a5a" textLength="21.0" lengthAdjust="spacingAndGlyphs">Oct</text><text x="595.2" y="2138.6" font-family='"Liberation Sans", sans-serif' font-size="10.5" fill="#5a5a5a" textLength="23.0" lengthAdjust="spacingAndGlyphs">Nov</text><text x="626.1" y="2138.6" font-family='"Liberation Sans", sans-serif' font-size="10.5" fill="#5a5a5a" textLength="23.0" lengthAdjust="spacingAndGlyphs">Dec</text><text x="655.1" y="2138.6" font-family='"Liberation Sans", sans-serif' font-size="12.0" font-weight="bold" fill="#222" textLength="28.5" lengthAdjust="spacingAndGlyphs">2024</text><text x="690.5" y="2138.6" font-family='"Liberation Sans", sans-serif' font-size="10.5" fill="#5a5a5a" textLength="21.0" lengthAdjust="spacingAndGlyphs">Feb</text><text x="720.9" y="2138.6" font-family='"Liberation Sans", sans-serif' font-size="10.5" fill="#5a5a5a" textLength="22.0" lengthAdjust="spacingAndGlyphs">Mar</text><text x="752.8" y="2138.6" font-family='"Liberation Sans", sans-serif' font-size="10.5" fill="#5a5a5a" textLength="20.0" lengthAdjust="spacingAndGlyphs">Apr</text><text x="783.5" y="2138.6" font-family='"Liberation Sans", sans-serif' font-size="10.5" fill="#5a5a5a" textLength="23.0" lengthAdjust="spacingAndGlyphs">May</text><text x="818.9" y="2138.6" font-family='"Liberation Sans", sans-serif' font-size="10.5" fill="#5a5a5a" textLength="20.0" lengthAdjust="spacingAndGlyphs">Jun</text>
<rect x="806.75" y="1215.25" width="36" height="940" rx="5" ry="5" fill="none" stroke="#e8524f" stroke-width="5.5"/>
<text x="59.2" y="2230.3" font-family='"Liberation Sans", sans-serif' font-size="25" fill="#ffffff" textLength="316.0" lengthAdjust="spacingAndGlyphs">Source: Cam Hui Newsletter</text>
<path d="M323,2339 L347,2339 C360,2328 368,2315 386,2315 C395,2315 401,2318 406,2322 L406,2354 L382,2354 C369,2365 360,2377 343,2377 C334,2377 328,2374 323,2370 Z" fill="url(#logoG)"/>
<text x="421.0" y="2358.8" font-family='"Liberation Sans", sans-serif' font-size="37.5" font-weight="bold" fill="#ffffff" textLength="219.0" lengthAdjust="spacingAndGlyphs">SignalPlus</text>
</svg></body></html>
